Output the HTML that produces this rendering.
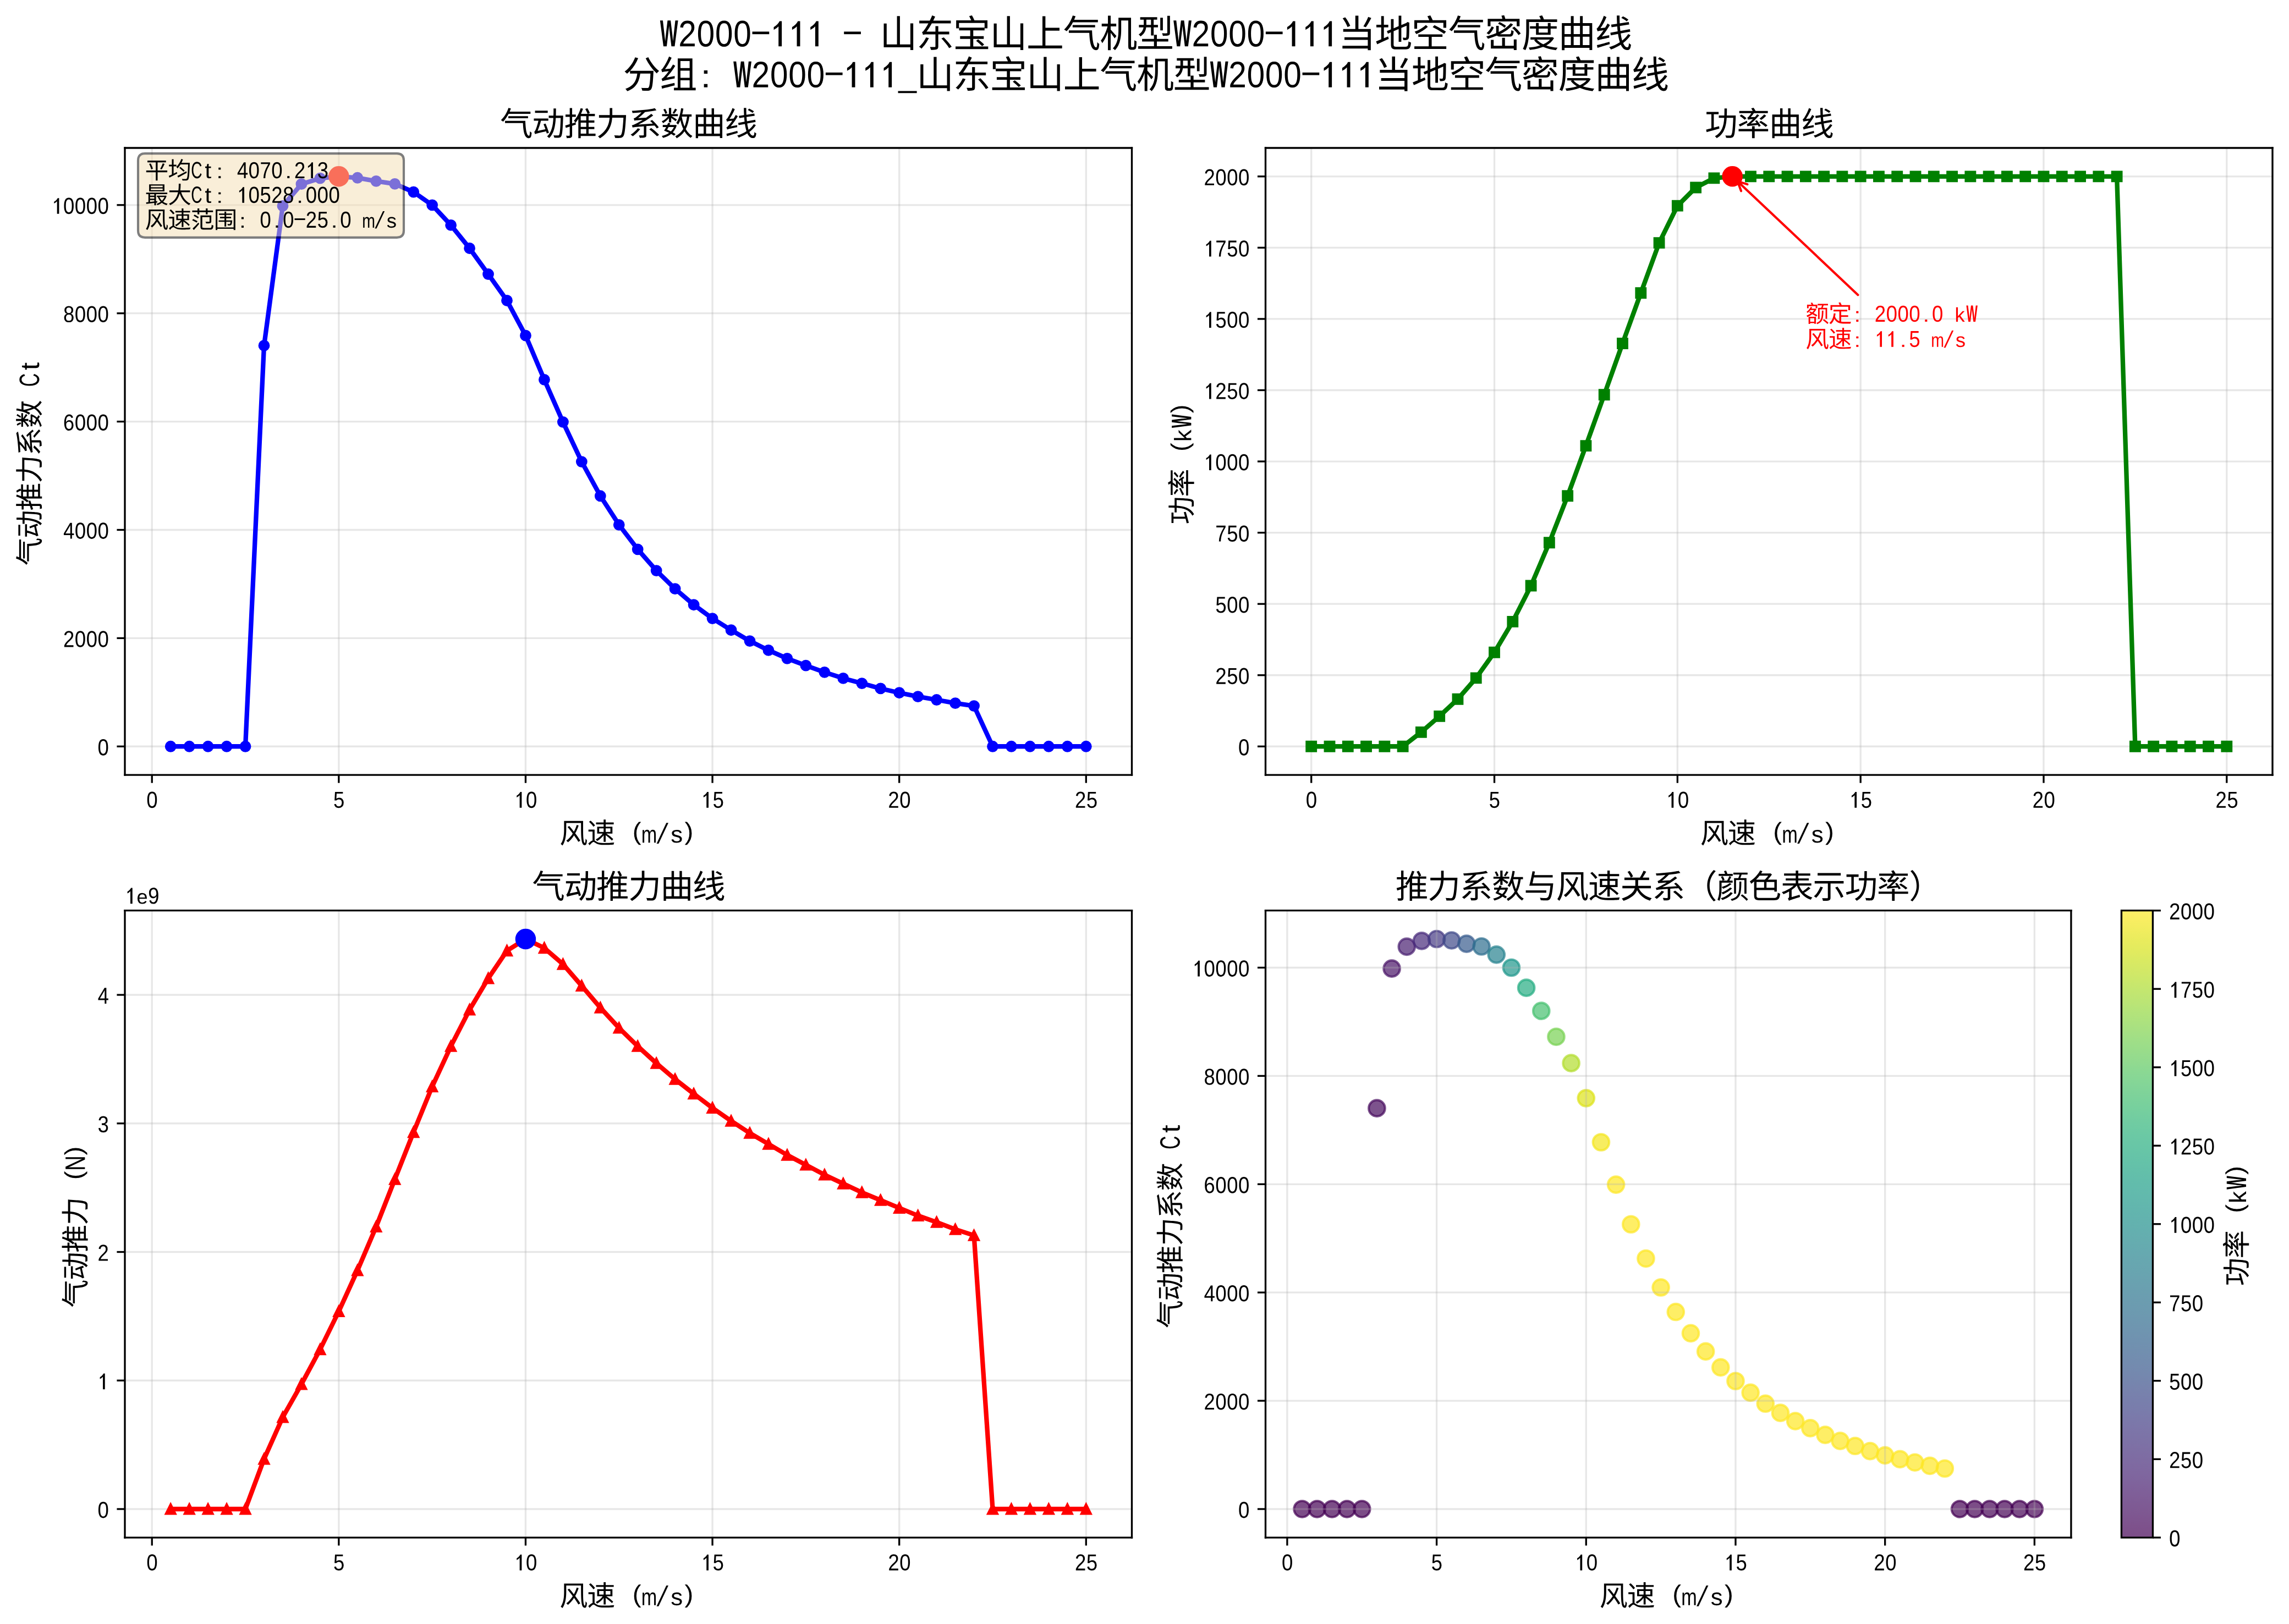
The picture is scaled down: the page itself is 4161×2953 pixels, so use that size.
<!DOCTYPE html>
<html lang="zh"><head><meta charset="utf-8"><title>W2000-111 - 山东宝山上气机型W2000-111当地空气密度曲线</title>
<style>html,body{margin:0;padding:0;background:#fff;width:4161px;height:2953px;overflow:hidden;font-family:"Liberation Sans",sans-serif}svg{display:block}</style>
</head><body>
<svg width="4161" height="2953" viewBox="0 0 998.64 708.72" preserveAspectRatio="none" role="img" aria-label="W2000-111 - 山东宝山上气机型W2000-111当地空气密度曲线：气动推力系数曲线、功率曲线、气动推力曲线、推力系数与风速关系（颜色表示功率）">
<defs>
<style type="text/css">*{stroke-linejoin: round; stroke-linecap: butt}</style>
</defs>
<g id="figure_1">
<g id="patch_1">
<path d="M 0 708.72
L 998.64 708.72
L 998.64 0
L 0 0
z
" style="fill: #ffffff"/>
</g>
<g id="axes_1">
<g id="patch_2">
<path d="M 54.48 338.184
L 493.8 338.184
L 493.8 64.56
L 54.48 64.56
z
" style="fill: #ffffff"/>
</g>
<g id="matplotlib.axis_1">
<g id="xtick_1">
<g id="line2d_1">
<path d="M 66.298 338.184
L 66.298 64.56
" clip-path="url(#p37128c60da)" style="fill: none; stroke: #b0b0b0; stroke-opacity: 0.3; stroke-width: 0.8; stroke-linecap: square"/>
</g>
<g id="line2d_2">
<defs>
<path id="m1504cfccaf" d="M 0 0
L 0 3.5
" style="stroke: #000000; stroke-width: 0.8"/>
</defs>
<g>
<use href="#m1504cfccaf" x="66.298" y="338.184" style="stroke: #000000; stroke-width: 0.8"/>
</g>
</g>
<g id="text_1">
<!-- 0 -->
<g transform="translate(63.798 352.504) scale(0.1 -0.1)">
<defs>
<path id="NotoSansMonoCJKsc-Regular-30" d="M2912.5 2159.1Q2912.5 1078 2578.7 508.4Q2244.8 -61.2 1593.3 -61.2Q941.8 -61.2 614.6 505.3Q287.5 1071.9 287.5 2159.1Q287.5 3270.8 605.3 3825.1Q923 4379.4 1609.4 4379.4Q2277 4379.4 2594.7 3818.9Q2912.5 3258.5 2912.5 2159.1ZM2421.8 2159.1Q2421.8 3093.1 2232.8 3512.7Q2043.7 3932.2 1609.4 3932.2Q1164.3 3932.2 969.9 3518.8Q775.5 3105.4 775.5 2159.1Q775.5 1240.3 972.6 814.6Q1169.7 388.9 1598.7 388.9Q2025 388.9 2223.4 823.8Q2421.8 1258.7 2421.8 2159.1Z" transform="scale(0.016)"/>
</defs>
<use href="#NotoSansMonoCJKsc-Regular-30"/>
</g>
</g>
</g>
<g id="xtick_2">
<g id="line2d_3">
<path d="M 147.805 338.184
L 147.805 64.56
" clip-path="url(#p37128c60da)" style="fill: none; stroke: #b0b0b0; stroke-opacity: 0.3; stroke-width: 0.8; stroke-linecap: square"/>
</g>
<g id="line2d_4">
<g>
<use href="#m1504cfccaf" x="147.805" y="338.184" style="stroke: #000000; stroke-width: 0.8"/>
</g>
</g>
<g id="text_2">
<!-- 5 -->
<g transform="translate(145.305 352.504) scale(0.1 -0.1)">
<defs>
<path id="NotoSansMonoCJKsc-Regular-35" d="M2901.7 1405.7Q2901.7 722.8 2546.5 330.8Q2191.2 -61.2 1561.1 -61.2Q1032.9 -61.2 708.5 202.1Q384.1 465.5 298.3 964.7L786.2 1029Q939.1 388.9 1571.8 388.9Q1960.6 388.9 2180.5 656.9Q2400.4 924.9 2400.4 1393.4Q2400.4 1800.8 2179.2 2051.9Q1957.9 2303 1582.6 2303Q1386.8 2303 1217.9 2232.6Q1049 2162.1 880.1 1993.7H408.2L534.2 4315.1H2681.9V3846.5H973.9L901.5 2477.6Q1215.2 2753.2 1681.8 2753.2Q2239.5 2753.2 2570.6 2379.6Q2901.7 2005.9 2901.7 1405.7Z" transform="scale(0.016)"/>
</defs>
<use href="#NotoSansMonoCJKsc-Regular-35"/>
</g>
</g>
</g>
<g id="xtick_3">
<g id="line2d_5">
<path d="M 229.311 338.184
L 229.311 64.56
" clip-path="url(#p37128c60da)" style="fill: none; stroke: #b0b0b0; stroke-opacity: 0.3; stroke-width: 0.8; stroke-linecap: square"/>
</g>
<g id="line2d_6">
<g>
<use href="#m1504cfccaf" x="229.311" y="338.184" style="stroke: #000000; stroke-width: 0.8"/>
</g>
</g>
<g id="text_3">
<!-- 10 -->
<g transform="translate(224.311 352.504) scale(0.1 -0.1)">
<defs>
<path id="NotoSansMonoCJKsc-Regular-31" d="M1504.0 0.0L2060.8 0.0L2060.8 4300.8L1676.8 4300.8Q1440.0 3744.0 691.2 3296.0L691.2 2816.0Q1216.0 3059.2 1504.0 3404.8Z" transform="scale(0.016)"/>
</defs>
<use href="#NotoSansMonoCJKsc-Regular-31"/>
<use href="#NotoSansMonoCJKsc-Regular-30" transform="translate(50 0)"/>
</g>
</g>
</g>
<g id="xtick_4">
<g id="line2d_7">
<path d="M 310.818 338.184
L 310.818 64.56
" clip-path="url(#p37128c60da)" style="fill: none; stroke: #b0b0b0; stroke-opacity: 0.3; stroke-width: 0.8; stroke-linecap: square"/>
</g>
<g id="line2d_8">
<g>
<use href="#m1504cfccaf" x="310.818" y="338.184" style="stroke: #000000; stroke-width: 0.8"/>
</g>
</g>
<g id="text_4">
<!-- 15 -->
<g transform="translate(305.818 352.504) scale(0.1 -0.1)">
<use href="#NotoSansMonoCJKsc-Regular-31"/>
<use href="#NotoSansMonoCJKsc-Regular-35" transform="translate(50 0)"/>
</g>
</g>
</g>
<g id="xtick_5">
<g id="line2d_9">
<path d="M 392.324 338.184
L 392.324 64.56
" clip-path="url(#p37128c60da)" style="fill: none; stroke: #b0b0b0; stroke-opacity: 0.3; stroke-width: 0.8; stroke-linecap: square"/>
</g>
<g id="line2d_10">
<g>
<use href="#m1504cfccaf" x="392.324" y="338.184" style="stroke: #000000; stroke-width: 0.8"/>
</g>
</g>
<g id="text_5">
<!-- 20 -->
<g transform="translate(387.324 352.504) scale(0.1 -0.1)">
<defs>
<path id="NotoSansMonoCJKsc-Regular-32" d="M349.2 0V388.9Q485.9 747.2 683 1021.3Q880.1 1295.4 1097.3 1517.5Q1314.4 1739.5 1527.6 1929.4Q1740.8 2119.2 1912.4 2309.1Q2084 2499 2189.9 2707.2Q2295.8 2915.5 2295.8 3178.9Q2295.8 3534.1 2113.5 3730.1Q1931.1 3926.1 1606.7 3926.1Q1298.4 3926.1 1098.6 3734.7Q898.9 3543.3 864 3197.2L370.6 3249.3Q424.3 3766.9 755.4 4073.1Q1086.5 4379.4 1606.7 4379.4Q2177.8 4379.4 2484.8 4071.6Q2791.8 3763.8 2791.8 3197.2Q2791.8 2946.1 2691.3 2698.1Q2590.7 2450 2392.3 2201.9Q2193.9 1953.9 1633.5 1433.2Q1325.2 1145.4 1142.8 914.2Q960.5 682.9 880.1 468.6H2850.8V0Z" transform="scale(0.016)"/>
</defs>
<use href="#NotoSansMonoCJKsc-Regular-32"/>
<use href="#NotoSansMonoCJKsc-Regular-30" transform="translate(50 0)"/>
</g>
</g>
</g>
<g id="xtick_6">
<g id="line2d_11">
<path d="M 473.831 338.184
L 473.831 64.56
" clip-path="url(#p37128c60da)" style="fill: none; stroke: #b0b0b0; stroke-opacity: 0.3; stroke-width: 0.8; stroke-linecap: square"/>
</g>
<g id="line2d_12">
<g>
<use href="#m1504cfccaf" x="473.831" y="338.184" style="stroke: #000000; stroke-width: 0.8"/>
</g>
</g>
<g id="text_6">
<!-- 25 -->
<g transform="translate(468.831 352.504) scale(0.1 -0.1)">
<use href="#NotoSansMonoCJKsc-Regular-32"/>
<use href="#NotoSansMonoCJKsc-Regular-35" transform="translate(50 0)"/>
</g>
</g>
</g>
<g id="text_7">
<!-- 风速 (m/s) -->
<g transform="translate(244.14 367.71) scale(0.12 -0.12)">
<defs>
<path id="NotoSansMonoCJKsc-Regular-98ce" d="M 1018 5069
L 1018 3168
C 1018 2157 954 768 256 -198
C 365 -256 570 -429 653 -518
C 1395 506 1510 2093 1510 3168
L 1510 4608
L 4864 4608
C 4877 1274 4877 -448 5715 -448
C 6067 -448 6170 -166 6214 685
C 6125 755 5984 909 5901 1018
C 5888 493 5850 51 5754 51
C 5325 51 5325 2048 5344 5069
L 1018 5069
z
M 3904 4154
C 3738 3642 3514 3117 3245 2630
C 2899 3072 2534 3507 2202 3891
L 1805 3680
C 2189 3232 2605 2714 2989 2195
C 2566 1523 2067 947 1530 589
C 1645 499 1805 333 1894 218
C 2406 595 2880 1152 3283 1792
C 3686 1235 4038 710 4256 307
L 4704 563
C 4442 1024 4019 1626 3546 2240
C 3859 2803 4122 3411 4326 4032
L 3904 4154
z
" transform="scale(0.016) translate(0 -140.8)"/>
<path id="NotoSansMonoCJKsc-Regular-901f" d="M 435 4864
C 794 4531 1229 4058 1427 3757
L 1811 4045
C 1600 4346 1158 4800 800 5114
L 435 4864
z
M 1702 3091
L 307 3091
L 307 2643
L 1242 2643
L 1242 640
C 947 538 608 269 269 -58
L 570 -461
C 909 -64 1242 275 1478 275
C 1626 275 1824 90 2093 -70
C 2541 -320 3085 -390 3840 -390
C 4448 -390 5562 -352 6022 -320
C 6029 -186 6106 32 6157 154
C 5536 90 4589 45 3853 45
C 3162 45 2611 83 2202 320
C 1978 442 1830 557 1702 621
L 1702 3091
z
M 2739 3379
L 3757 3379
L 3757 2560
L 2739 2560
L 2739 3379
z
M 4224 3379
L 5293 3379
L 5293 2560
L 4224 2560
L 4224 3379
z
M 3757 5370
L 3757 4710
L 2035 4710
L 2035 4294
L 3757 4294
L 3757 3763
L 2291 3763
L 2291 2176
L 3546 2176
C 3174 1632 2547 1114 1958 864
C 2061 774 2202 614 2272 499
C 2797 774 3360 1267 3757 1811
L 3757 314
L 4224 314
L 4224 1798
C 4762 1408 5331 941 5632 608
L 5939 928
C 5600 1286 4947 1786 4378 2176
L 5754 2176
L 5754 3763
L 4224 3763
L 4224 4294
L 6048 4294
L 6048 4710
L 4224 4710
L 4224 5370
L 3757 5370
z
" transform="scale(0.016) translate(0 -140.8)"/>
<path id="NotoSansMonoCJKsc-Regular-20" transform="scale(0.016)"/>
<path id="NotoSansMonoCJKsc-Regular-28" d="M1305.6 2101.5Q1305.6 2891.5 1568 3520.3Q1830.4 4149 2375.5 4704H2880Q2337.8 4135.4 2084.1 3495.7Q1830.4 2856 1830.4 2096Q1830.4 1338.8 2081.2 701.8Q2332 64.8 2880 -512H2375.5Q1827.5 45.7 1566.6 675.8Q1305.6 1305.9 1305.6 2090.5Z" transform="scale(0.016)"/>
<path id="NotoSansMonoCJKsc-Regular-6d" d="M1420.8 0V1811.5Q1420.8 2226 1330.6 2384.5Q1240.5 2542.9 1005.7 2542.9Q764.7 2542.9 624.2 2310.5Q483.8 2078.2 483.8 1655.7V0H108.6V2247.2Q108.6 2746.2 96 2857.2H452.3Q454.4 2844 456.5 2785.9Q458.6 2727.8 461.8 2652.5Q464.9 2577.2 469.1 2368.6H475.4Q597 2672.3 754.2 2791.1Q911.4 2910 1137.8 2910Q1395.6 2910 1545.5 2780.6Q1695.4 2651.2 1754.1 2368.6H1760.4Q1877.7 2656.5 2044.4 2783.2Q2211 2910 2447.9 2910Q2791.7 2910 2947.8 2675Q3104 2439.9 3104 1903.9V0H2730.9V1811.5Q2730.9 2226 2640.7 2384.5Q2550.6 2542.9 2315.8 2542.9Q2068.5 2542.9 1931.2 2311.9Q1793.9 2080.8 1793.9 1655.7V0Z" transform="scale(0.016)"/>
<path id="NotoSansMonoCJKsc-Regular-2f" d="M166.4 -230.4L627.2 -230.4L2841.6 4480.0L2380.8 4480.0Z" transform="scale(0.016)"/>
<path id="NotoSansMonoCJKsc-Regular-73" d="M2797.2 789.5Q2797.2 385.5 2487.5 166.4Q2177.8 -52.8 1620.1 -52.8Q1078.5 -52.8 784.9 122.8Q491.3 298.4 402.8 670.7L829.1 752.6Q890.8 522.8 1083.9 415.9Q1276.9 309 1620.1 309Q1987.4 309 2157.7 419.9Q2328 530.8 2328 752.6Q2328 921.6 2210 1027.2Q2092 1132.8 1829.2 1201.5L1483.4 1291.3Q1067.8 1396.9 892.2 1498.6Q716.5 1600.2 617.3 1745.5Q518.1 1890.7 518.1 2101.9Q518.1 2492.8 801 2697.4Q1083.9 2902 1625.5 2902Q2105.4 2902 2388.3 2735.7Q2671.2 2569.3 2746.2 2202.3L2311.9 2149.5Q2271.7 2339.6 2096 2441.3Q1920.4 2542.9 1625.5 2542.9Q1298.4 2542.9 1142.8 2445.2Q987.3 2347.5 987.3 2149.5Q987.3 2028 1051.7 1948.8Q1116 1869.6 1242.1 1814.1Q1368.1 1758.7 1772.9 1661Q2156.4 1565.9 2325.3 1485.4Q2494.2 1404.8 2592.1 1307.1Q2689.9 1209.4 2743.6 1081.3Q2797.2 953.3 2797.2 789.5Z" transform="scale(0.016)"/>
<path id="NotoSansMonoCJKsc-Regular-29" d="M1894.4 2090.5Q1894.4 1300.5 1632 671.7Q1369.6 43 824.5 -512H320Q865.1 62.1 1117.3 697.7Q1369.6 1333.3 1369.6 2096Q1369.6 2858.7 1115.9 3495.7Q862.2 4132.6 320 4704H824.5Q1372.5 4146.3 1633.4 3516.2Q1894.4 2886.1 1894.4 2101.5Z" transform="scale(0.016)"/>
</defs>
<use href="#NotoSansMonoCJKsc-Regular-98ce"/>
<use href="#NotoSansMonoCJKsc-Regular-901f" transform="translate(100 0)"/>
<use href="#NotoSansMonoCJKsc-Regular-20" transform="translate(200 0)"/>
<use href="#NotoSansMonoCJKsc-Regular-28" transform="translate(250 0)"/>
<use href="#NotoSansMonoCJKsc-Regular-6d" transform="translate(300 0)"/>
<use href="#NotoSansMonoCJKsc-Regular-2f" transform="translate(350 0)"/>
<use href="#NotoSansMonoCJKsc-Regular-73" transform="translate(400 0)"/>
<use href="#NotoSansMonoCJKsc-Regular-29" transform="translate(450 0)"/>
</g>
</g>
</g>
<g id="matplotlib.axis_2">
<g id="ytick_1">
<g id="line2d_13">
<path d="M 54.48 325.747
L 493.8 325.747
" clip-path="url(#p37128c60da)" style="fill: none; stroke: #b0b0b0; stroke-opacity: 0.3; stroke-width: 0.8; stroke-linecap: square"/>
</g>
<g id="line2d_14">
<defs>
<path id="m5d545ce8f8" d="M 0 0
L -3.5 0
" style="stroke: #000000; stroke-width: 0.8"/>
</defs>
<g>
<use href="#m5d545ce8f8" x="54.48" y="325.747" style="stroke: #000000; stroke-width: 0.8"/>
</g>
</g>
<g id="text_8">
<!-- 0 -->
<g transform="translate(42.48 329.586) scale(0.1 -0.1)">
<use href="#NotoSansMonoCJKsc-Regular-30"/>
</g>
</g>
</g>
<g id="ytick_2">
<g id="line2d_15">
<path d="M 54.48 278.492
L 493.8 278.492
" clip-path="url(#p37128c60da)" style="fill: none; stroke: #b0b0b0; stroke-opacity: 0.3; stroke-width: 0.8; stroke-linecap: square"/>
</g>
<g id="line2d_16">
<g>
<use href="#m5d545ce8f8" x="54.48" y="278.492" style="stroke: #000000; stroke-width: 0.8"/>
</g>
</g>
<g id="text_9">
<!-- 2000 -->
<g transform="translate(27.48 282.332) scale(0.1 -0.1)">
<use href="#NotoSansMonoCJKsc-Regular-32"/>
<use href="#NotoSansMonoCJKsc-Regular-30" transform="translate(50 0)"/>
<use href="#NotoSansMonoCJKsc-Regular-30" transform="translate(100 0)"/>
<use href="#NotoSansMonoCJKsc-Regular-30" transform="translate(150 0)"/>
</g>
</g>
</g>
<g id="ytick_3">
<g id="line2d_17">
<path d="M 54.48 231.237
L 493.8 231.237
" clip-path="url(#p37128c60da)" style="fill: none; stroke: #b0b0b0; stroke-opacity: 0.3; stroke-width: 0.8; stroke-linecap: square"/>
</g>
<g id="line2d_18">
<g>
<use href="#m5d545ce8f8" x="54.48" y="231.237" style="stroke: #000000; stroke-width: 0.8"/>
</g>
</g>
<g id="text_10">
<!-- 4000 -->
<g transform="translate(27.48 235.077) scale(0.1 -0.1)">
<defs>
<path id="NotoSansMonoCJKsc-Regular-34" d="M2452.6 976.9V0H1996.8V976.9H216.5V1405.7L1945.9 4315.1H2452.6V1411.8H2983.5V976.9ZM1996.8 3693.4Q1991.5 3675 1921.8 3531.1Q1852 3387.1 1817.2 3328.9L849.2 1699.7L704.5 1473.1L661.6 1411.8H1996.8Z" transform="scale(0.016)"/>
</defs>
<use href="#NotoSansMonoCJKsc-Regular-34"/>
<use href="#NotoSansMonoCJKsc-Regular-30" transform="translate(50 0)"/>
<use href="#NotoSansMonoCJKsc-Regular-30" transform="translate(100 0)"/>
<use href="#NotoSansMonoCJKsc-Regular-30" transform="translate(150 0)"/>
</g>
</g>
</g>
<g id="ytick_4">
<g id="line2d_19">
<path d="M 54.48 183.982
L 493.8 183.982
" clip-path="url(#p37128c60da)" style="fill: none; stroke: #b0b0b0; stroke-opacity: 0.3; stroke-width: 0.8; stroke-linecap: square"/>
</g>
<g id="line2d_20">
<g>
<use href="#m5d545ce8f8" x="54.48" y="183.982" style="stroke: #000000; stroke-width: 0.8"/>
</g>
</g>
<g id="text_11">
<!-- 6000 -->
<g transform="translate(27.48 187.822) scale(0.1 -0.1)">
<defs>
<path id="NotoSansMonoCJKsc-Regular-36" d="M2866.9 1411.8Q2866.9 728.9 2542.5 333.8Q2218 -61.2 1646.9 -61.2Q1008.8 -61.2 670.9 480.8Q333.1 1022.9 333.1 2058Q333.1 3178.9 684.4 3779.1Q1035.6 4379.4 1684.5 4379.4Q2539.8 4379.4 2762.3 3500.4L2301.1 3405.5Q2159 3932.2 1679.1 3932.2Q1266.2 3932.2 1039.6 3492.8Q813.1 3053.3 813.1 2220.3Q944.4 2499 1183.1 2644.5Q1421.7 2789.9 1730 2789.9Q2252.9 2789.9 2559.9 2416.3Q2866.9 2042.7 2866.9 1411.8ZM2376.2 1387.3Q2376.2 1855.9 2175.1 2110.1Q1974 2364.2 1614.7 2364.2Q1276.9 2364.2 1069.1 2139.2Q861.3 1914.1 861.3 1519Q861.3 1019.8 1077.2 701.3Q1293 382.8 1630.8 382.8Q1979.4 382.8 2177.8 650.8Q2376.2 918.8 2376.2 1387.3Z" transform="scale(0.016)"/>
</defs>
<use href="#NotoSansMonoCJKsc-Regular-36"/>
<use href="#NotoSansMonoCJKsc-Regular-30" transform="translate(50 0)"/>
<use href="#NotoSansMonoCJKsc-Regular-30" transform="translate(100 0)"/>
<use href="#NotoSansMonoCJKsc-Regular-30" transform="translate(150 0)"/>
</g>
</g>
</g>
<g id="ytick_5">
<g id="line2d_21">
<path d="M 54.48 136.727
L 493.8 136.727
" clip-path="url(#p37128c60da)" style="fill: none; stroke: #b0b0b0; stroke-opacity: 0.3; stroke-width: 0.8; stroke-linecap: square"/>
</g>
<g id="line2d_22">
<g>
<use href="#m5d545ce8f8" x="54.48" y="136.727" style="stroke: #000000; stroke-width: 0.8"/>
</g>
</g>
<g id="text_12">
<!-- 8000 -->
<g transform="translate(27.48 140.567) scale(0.1 -0.1)">
<defs>
<path id="NotoSansMonoCJKsc-Regular-38" d="M2888.3 1203.6Q2888.3 606.4 2555.9 272.6Q2223.4 -61.2 1601.3 -61.2Q995.4 -61.2 653.5 266.4Q311.7 594.1 311.7 1197.4Q311.7 1620.1 523.5 1907.9Q735.3 2195.8 1065.1 2257.1V2269.3Q756.7 2352 578.4 2627.6Q400.1 2903.2 400.1 3273.8Q400.1 3766.9 723.2 4073.1Q1046.3 4379.4 1590.6 4379.4Q2148.3 4379.4 2471.4 4079.2Q2794.5 3779.1 2794.5 3267.7Q2794.5 2897.1 2614.9 2621.5Q2435.2 2345.9 2124.2 2275.4V2263.2Q2486.2 2195.8 2687.2 1912.5Q2888.3 1629.2 2888.3 1203.6ZM2293.1 3237.1Q2293.1 3969 1590.6 3969Q1250.1 3969 1071.8 3785.2Q893.5 3601.5 893.5 3237.1Q893.5 2866.5 1077.2 2672Q1260.8 2477.6 1596 2477.6Q1936.5 2477.6 2114.8 2656.7Q2293.1 2835.9 2293.1 3237.1ZM2386.9 1255.6Q2386.9 1656.8 2177.8 1860.5Q1968.7 2064.1 1590.6 2064.1Q1223.3 2064.1 1016.8 1845.2Q810.4 1626.2 810.4 1243.4Q810.4 352.2 1606.7 352.2Q2000.8 352.2 2193.9 568.1Q2386.9 784 2386.9 1255.6Z" transform="scale(0.016)"/>
</defs>
<use href="#NotoSansMonoCJKsc-Regular-38"/>
<use href="#NotoSansMonoCJKsc-Regular-30" transform="translate(50 0)"/>
<use href="#NotoSansMonoCJKsc-Regular-30" transform="translate(100 0)"/>
<use href="#NotoSansMonoCJKsc-Regular-30" transform="translate(150 0)"/>
</g>
</g>
</g>
<g id="ytick_6">
<g id="line2d_23">
<path d="M 54.48 89.473
L 493.8 89.473
" clip-path="url(#p37128c60da)" style="fill: none; stroke: #b0b0b0; stroke-opacity: 0.3; stroke-width: 0.8; stroke-linecap: square"/>
</g>
<g id="line2d_24">
<g>
<use href="#m5d545ce8f8" x="54.48" y="89.473" style="stroke: #000000; stroke-width: 0.8"/>
</g>
</g>
<g id="text_13">
<!-- 10000 -->
<g transform="translate(22.48 93.313) scale(0.1 -0.1)">
<use href="#NotoSansMonoCJKsc-Regular-31"/>
<use href="#NotoSansMonoCJKsc-Regular-30" transform="translate(50 0)"/>
<use href="#NotoSansMonoCJKsc-Regular-30" transform="translate(100 0)"/>
<use href="#NotoSansMonoCJKsc-Regular-30" transform="translate(150 0)"/>
<use href="#NotoSansMonoCJKsc-Regular-30" transform="translate(200 0)"/>
</g>
</g>
</g>
<g id="text_14">
<!-- 气动推力系数 Ct -->
<g transform="translate(17.053 246.852) rotate(-90) scale(0.12 -0.12)">
<defs>
<path id="NotoSansMonoCJKsc-Regular-6c14" d="M 1626 3776
L 1626 3373
L 5459 3373
L 5459 3776
L 1626 3776
z
M 1645 5389
C 1338 4461 806 3571 179 3008
C 301 2944 512 2797 608 2720
C 998 3110 1370 3648 1677 4243
L 5933 4243
L 5933 4666
L 1882 4666
C 1971 4864 2054 5069 2125 5274
L 1645 5389
z
M 979 2867
L 979 2445
L 4467 2445
C 4538 787 4774 -506 5626 -506
C 6010 -506 6118 -205 6163 557
C 6054 621 5920 730 5824 838
C 5811 301 5773 -32 5658 -32
C 5158 -38 4979 1402 4934 2867
L 979 2867
z
" transform="scale(0.016) translate(0 -140.8)"/>
<path id="NotoSansMonoCJKsc-Regular-52a8" d="M 570 4851
L 570 4422
L 3046 4422
L 3046 4851
L 570 4851
z
M 4179 5267
C 4179 4813 4179 4352 4160 3898
L 3245 3898
L 3245 3437
L 4141 3437
C 4064 1978 3808 640 2931 -160
C 3059 -230 3226 -390 3309 -506
C 4250 390 4525 1850 4614 3437
L 5568 3437
C 5498 1165 5414 314 5242 122
C 5178 45 5107 26 4992 26
C 4858 26 4518 26 4160 64
C 4243 -77 4294 -275 4307 -410
C 4646 -435 4998 -435 5197 -416
C 5402 -397 5530 -339 5658 -173
C 5882 109 5958 1018 6048 3654
C 6048 3725 6048 3898 6048 3898
L 4634 3898
C 4646 4352 4653 4813 4653 5267
L 4179 5267
z
M 570 282
L 576 288
L 576 275
C 723 365 954 435 2733 838
L 2854 410
L 3277 550
C 3155 998 2867 1760 2624 2336
L 2227 2227
C 2355 1926 2483 1574 2598 1242
L 1075 922
C 1325 1498 1568 2214 1728 2886
L 3162 2886
L 3162 3328
L 346 3328
L 346 2886
L 1235 2886
C 1069 2138 800 1382 710 1171
C 602 928 518 755 416 723
C 474 608 544 378 570 282
z
" transform="scale(0.016) translate(0 -140.8)"/>
<path id="NotoSansMonoCJKsc-Regular-63a8" d="M 4102 5165
C 4282 4877 4467 4486 4557 4230
L 3277 4230
C 3424 4550 3558 4890 3667 5222
L 3213 5338
C 2925 4390 2438 3462 1875 2867
C 1965 2797 2106 2656 2189 2566
L 1549 2368
L 1549 3654
L 2266 3654
L 2266 4102
L 1549 4102
L 1549 5370
L 1082 5370
L 1082 4102
L 256 4102
L 256 3654
L 1082 3654
L 1082 2227
L 205 1965
L 326 1498
L 1082 1741
L 1082 77
C 1082 -13 1043 -38 966 -38
C 890 -45 640 -45 365 -32
C 429 -173 493 -378 506 -499
C 915 -499 1165 -486 1325 -403
C 1485 -326 1549 -192 1549 77
L 1549 1894
L 2278 2131
L 2214 2541
L 2234 2522
C 2413 2733 2592 2976 2758 3245
L 2758 -512
L 3219 -512
L 3219 -70
L 6106 -70
L 6106 378
L 4755 378
L 4755 1248
L 5875 1248
L 5875 1677
L 4755 1677
L 4755 2522
L 5882 2522
L 5882 2950
L 4755 2950
L 4755 3789
L 5978 3789
L 5978 4230
L 4621 4230
L 4992 4390
C 4909 4646 4710 5030 4518 5325
L 4102 5165
z
M 3219 2522
L 4301 2522
L 4301 1677
L 3219 1677
L 3219 2522
z
M 3219 2950
L 3219 3789
L 4301 3789
L 4301 2950
L 3219 2950
z
M 3219 1248
L 4301 1248
L 4301 378
L 3219 378
L 3219 1248
z
" transform="scale(0.016) translate(0 -140.8)"/>
<path id="NotoSansMonoCJKsc-Regular-529b" d="M 2624 5363
L 2624 4256
L 2624 3981
L 531 3981
L 531 3488
L 2598 3488
C 2502 2285 2080 877 339 -160
C 461 -243 634 -422 710 -538
C 2573 595 3008 2157 3098 3488
L 5293 3488
C 5165 1229 5024 320 4794 102
C 4717 19 4634 0 4499 0
C 4339 0 3930 6 3488 45
C 3584 -96 3642 -307 3654 -448
C 4051 -467 4461 -480 4678 -461
C 4928 -435 5075 -390 5229 -198
C 5517 115 5645 1075 5792 3725
C 5798 3795 5805 3981 5805 3981
L 3123 3981
L 3123 4256
L 3123 5363
L 2624 5363
z
" transform="scale(0.016) translate(0 -140.8)"/>
<path id="NotoSansMonoCJKsc-Regular-7cfb" d="M 1830 1434
C 1491 973 960 499 448 192
C 576 122 774 -38 870 -128
C 1357 218 1926 742 2310 1261
L 1830 1434
z
M 4070 1216
C 4602 806 5261 218 5581 -141
L 5990 147
C 5645 512 4986 1075 4448 1466
L 4070 1216
z
M 4250 2842
C 4416 2688 4595 2509 4768 2323
L 1952 2138
C 2912 2611 3891 3200 4838 3917
L 4467 4224
C 4147 3962 3795 3712 3456 3475
L 1888 3398
C 2349 3725 2816 4134 3245 4582
C 4077 4666 4864 4781 5472 4928
L 5139 5331
C 4102 5069 2240 4896 685 4819
C 736 4710 794 4518 806 4403
C 1370 4429 1971 4467 2566 4518
C 2150 4083 1677 3699 1510 3590
C 1318 3450 1165 3354 1037 3334
C 1088 3213 1158 3002 1171 2906
C 1306 2957 1504 2982 2803 3059
C 2259 2720 1792 2464 1568 2362
C 1171 2163 883 2042 678 2016
C 736 1888 806 1664 826 1568
C 1005 1638 1254 1670 3014 1805
L 3014 128
C 3014 58 2995 32 2886 26
C 2784 19 2432 19 2048 38
C 2125 -96 2208 -301 2234 -442
C 2701 -442 3021 -435 3232 -358
C 3450 -282 3501 -147 3501 122
L 3501 1843
L 5094 1958
C 5280 1747 5434 1549 5542 1382
L 5926 1613
C 5664 2003 5114 2592 4621 3034
L 4250 2842
z
" transform="scale(0.016) translate(0 -140.8)"/>
<path id="NotoSansMonoCJKsc-Regular-6570" d="M 2835 5254
C 2720 5005 2515 4627 2355 4403
L 2669 4250
C 2835 4461 3053 4781 3238 5075
L 2835 5254
z
M 563 5075
C 730 4806 902 4454 960 4230
L 1325 4390
C 1267 4621 1094 4966 915 5216
L 563 5075
z
M 2624 1664
C 2477 1331 2272 1050 2029 806
C 1786 928 1536 1050 1299 1152
C 1389 1306 1491 1478 1581 1664
L 2624 1664
z
M 704 979
C 1018 858 1370 698 1690 531
C 1280 237 787 32 262 -90
C 346 -179 448 -346 493 -461
C 1082 -301 1626 -51 2086 320
C 2298 192 2490 70 2637 -38
L 2944 275
C 2797 378 2611 493 2400 608
C 2739 973 3008 1421 3168 1978
L 2906 2086
L 2829 2067
L 1779 2067
L 1920 2400
L 1491 2477
C 1446 2349 1382 2208 1318 2067
L 448 2067
L 448 1664
L 1120 1664
C 986 1408 838 1171 704 979
z
M 1645 5382
L 1645 4186
L 320 4186
L 320 3789
L 1498 3789
C 1190 3373 698 2976 250 2784
C 346 2694 454 2528 512 2419
C 902 2630 1325 2989 1645 3366
L 1645 2586
L 2093 2586
L 2093 3456
C 2400 3232 2790 2931 2950 2784
L 3219 3130
C 3066 3238 2502 3597 2189 3789
L 3398 3789
L 3398 4186
L 2093 4186
L 2093 5382
L 1645 5382
z
M 4026 5325
C 3866 4198 3578 3123 3078 2451
C 3181 2387 3366 2234 3443 2157
C 3610 2394 3750 2675 3878 2989
C 4019 2362 4205 1779 4442 1274
C 4083 666 3584 198 2886 -141
C 2976 -237 3110 -429 3155 -531
C 3808 -179 4301 262 4678 826
C 4998 282 5395 -154 5894 -454
C 5971 -333 6112 -166 6221 -77
C 5683 211 5261 678 4934 1267
C 5274 1926 5491 2726 5632 3686
L 6067 3686
L 6067 4134
L 4243 4134
C 4333 4493 4410 4870 4467 5254
L 4026 5325
z
M 5178 3686
C 5075 2950 4922 2310 4691 1766
C 4448 2342 4269 2995 4147 3686
L 5178 3686
z
" transform="scale(0.016) translate(0 -140.8)"/>
<path id="NotoSansMonoCJKsc-Regular-43" d="M1681.9 3981.2Q1196.9 3981.2 927.5 3510.9Q658.1 3040.6 658.1 2221.9Q658.1 1412.5 938.9 920.3Q1219.7 428.1 1698.4 428.1Q2311.9 428.1 2620.7 1343.8L2944 1100Q2763.7 531.2 2437.3 234.4Q2110.9 -62.5 1679.8 -62.5Q1238.4 -62.5 916.1 214.1Q593.8 490.6 424.9 1004.7Q256 1518.8 256 2221.9Q256 3275 633.2 3871.9Q1010.4 4468.8 1677.7 4468.8Q2144 4468.8 2457 4193.8Q2769.9 3918.8 2917.1 3378.1L2541.9 3190.6Q2440.4 3575 2215.5 3778.1Q1990.7 3981.2 1681.9 3981.2Z" transform="scale(0.016)"/>
<path id="NotoSansMonoCJKsc-Regular-74" d="M2417.2 23.5Q2139.1 -47 1848.4 -47Q1173.4 -47 1173.4 672.7V2793.6H782.8V3178.4H1195.3L1360.9 3889.2H1735.9V3178.4H2360.9V2793.6H1735.9V787.2Q1735.9 558.1 1815.6 465.6Q1895.3 373.1 2092.2 373.1Q2204.7 373.1 2417.2 414.2Z" transform="scale(0.016)"/>
</defs>
<use href="#NotoSansMonoCJKsc-Regular-6c14"/>
<use href="#NotoSansMonoCJKsc-Regular-52a8" transform="translate(100 0)"/>
<use href="#NotoSansMonoCJKsc-Regular-63a8" transform="translate(200 0)"/>
<use href="#NotoSansMonoCJKsc-Regular-529b" transform="translate(300 0)"/>
<use href="#NotoSansMonoCJKsc-Regular-7cfb" transform="translate(400 0)"/>
<use href="#NotoSansMonoCJKsc-Regular-6570" transform="translate(500 0)"/>
<use href="#NotoSansMonoCJKsc-Regular-20" transform="translate(600 0)"/>
<use href="#NotoSansMonoCJKsc-Regular-43" transform="translate(650 0)"/>
<use href="#NotoSansMonoCJKsc-Regular-74" transform="translate(700 0)"/>
</g>
</g>
</g>
<g id="line2d_25">
<path d="M 74.449 325.747
L 82.6 325.747
L 90.75 325.747
L 98.901 325.747
L 107.052 325.747
L 115.202 150.833
L 123.353 89.874
L 131.504 80.329
L 139.654 77.801
L 147.805 76.997
L 155.956 77.588
L 164.106 79.053
L 172.257 80.234
L 180.408 83.802
L 188.558 89.473
L 196.709 98.262
L 204.859 108.351
L 213.01 119.645
L 221.161 131.151
L 229.311 146.438
L 237.462 165.671
L 245.613 184.171
L 253.763 201.49
L 261.914 216.423
L 270.065 229.04
L 278.215 239.719
L 286.366 249.028
L 294.517 256.967
L 302.667 263.937
L 310.818 269.891
L 318.969 274.971
L 327.119 279.744
L 335.27 283.784
L 343.421 287.376
L 351.571 290.447
L 359.722 293.377
L 367.872 296.023
L 376.023 298.221
L 384.174 300.465
L 392.324 302.332
L 400.475 304.009
L 408.626 305.403
L 416.776 306.868
L 424.927 308.05
L 433.078 325.747
L 441.228 325.747
L 449.379 325.747
L 457.53 325.747
L 465.68 325.747
L 473.831 325.747
" clip-path="url(#p37128c60da)" style="fill: none; stroke: #0000ff; stroke-width: 2; stroke-linecap: square"/>
<defs>
<path id="m0fada0784c" d="M 0 2
C 0.53 2 1.039 1.789 1.414 1.414
C 1.789 1.039 2 0.53 2 0
C 2 -0.53 1.789 -1.039 1.414 -1.414
C 1.039 -1.789 0.53 -2 0 -2
C -0.53 -2 -1.039 -1.789 -1.414 -1.414
C -1.789 -1.039 -2 -0.53 -2 0
C -2 0.53 -1.789 1.039 -1.414 1.414
C -1.039 1.789 -0.53 2 0 2
z
" style="stroke: #0000ff"/>
</defs>
<g clip-path="url(#p37128c60da)">
<use href="#m0fada0784c" x="74.449" y="325.747" style="fill: #0000ff; stroke: #0000ff"/>
<use href="#m0fada0784c" x="82.6" y="325.747" style="fill: #0000ff; stroke: #0000ff"/>
<use href="#m0fada0784c" x="90.75" y="325.747" style="fill: #0000ff; stroke: #0000ff"/>
<use href="#m0fada0784c" x="98.901" y="325.747" style="fill: #0000ff; stroke: #0000ff"/>
<use href="#m0fada0784c" x="107.052" y="325.747" style="fill: #0000ff; stroke: #0000ff"/>
<use href="#m0fada0784c" x="115.202" y="150.833" style="fill: #0000ff; stroke: #0000ff"/>
<use href="#m0fada0784c" x="123.353" y="89.874" style="fill: #0000ff; stroke: #0000ff"/>
<use href="#m0fada0784c" x="131.504" y="80.329" style="fill: #0000ff; stroke: #0000ff"/>
<use href="#m0fada0784c" x="139.654" y="77.801" style="fill: #0000ff; stroke: #0000ff"/>
<use href="#m0fada0784c" x="147.805" y="76.997" style="fill: #0000ff; stroke: #0000ff"/>
<use href="#m0fada0784c" x="155.956" y="77.588" style="fill: #0000ff; stroke: #0000ff"/>
<use href="#m0fada0784c" x="164.106" y="79.053" style="fill: #0000ff; stroke: #0000ff"/>
<use href="#m0fada0784c" x="172.257" y="80.234" style="fill: #0000ff; stroke: #0000ff"/>
<use href="#m0fada0784c" x="180.408" y="83.802" style="fill: #0000ff; stroke: #0000ff"/>
<use href="#m0fada0784c" x="188.558" y="89.473" style="fill: #0000ff; stroke: #0000ff"/>
<use href="#m0fada0784c" x="196.709" y="98.262" style="fill: #0000ff; stroke: #0000ff"/>
<use href="#m0fada0784c" x="204.859" y="108.351" style="fill: #0000ff; stroke: #0000ff"/>
<use href="#m0fada0784c" x="213.01" y="119.645" style="fill: #0000ff; stroke: #0000ff"/>
<use href="#m0fada0784c" x="221.161" y="131.151" style="fill: #0000ff; stroke: #0000ff"/>
<use href="#m0fada0784c" x="229.311" y="146.438" style="fill: #0000ff; stroke: #0000ff"/>
<use href="#m0fada0784c" x="237.462" y="165.671" style="fill: #0000ff; stroke: #0000ff"/>
<use href="#m0fada0784c" x="245.613" y="184.171" style="fill: #0000ff; stroke: #0000ff"/>
<use href="#m0fada0784c" x="253.763" y="201.49" style="fill: #0000ff; stroke: #0000ff"/>
<use href="#m0fada0784c" x="261.914" y="216.423" style="fill: #0000ff; stroke: #0000ff"/>
<use href="#m0fada0784c" x="270.065" y="229.04" style="fill: #0000ff; stroke: #0000ff"/>
<use href="#m0fada0784c" x="278.215" y="239.719" style="fill: #0000ff; stroke: #0000ff"/>
<use href="#m0fada0784c" x="286.366" y="249.028" style="fill: #0000ff; stroke: #0000ff"/>
<use href="#m0fada0784c" x="294.517" y="256.967" style="fill: #0000ff; stroke: #0000ff"/>
<use href="#m0fada0784c" x="302.667" y="263.937" style="fill: #0000ff; stroke: #0000ff"/>
<use href="#m0fada0784c" x="310.818" y="269.891" style="fill: #0000ff; stroke: #0000ff"/>
<use href="#m0fada0784c" x="318.969" y="274.971" style="fill: #0000ff; stroke: #0000ff"/>
<use href="#m0fada0784c" x="327.119" y="279.744" style="fill: #0000ff; stroke: #0000ff"/>
<use href="#m0fada0784c" x="335.27" y="283.784" style="fill: #0000ff; stroke: #0000ff"/>
<use href="#m0fada0784c" x="343.421" y="287.376" style="fill: #0000ff; stroke: #0000ff"/>
<use href="#m0fada0784c" x="351.571" y="290.447" style="fill: #0000ff; stroke: #0000ff"/>
<use href="#m0fada0784c" x="359.722" y="293.377" style="fill: #0000ff; stroke: #0000ff"/>
<use href="#m0fada0784c" x="367.872" y="296.023" style="fill: #0000ff; stroke: #0000ff"/>
<use href="#m0fada0784c" x="376.023" y="298.221" style="fill: #0000ff; stroke: #0000ff"/>
<use href="#m0fada0784c" x="384.174" y="300.465" style="fill: #0000ff; stroke: #0000ff"/>
<use href="#m0fada0784c" x="392.324" y="302.332" style="fill: #0000ff; stroke: #0000ff"/>
<use href="#m0fada0784c" x="400.475" y="304.009" style="fill: #0000ff; stroke: #0000ff"/>
<use href="#m0fada0784c" x="408.626" y="305.403" style="fill: #0000ff; stroke: #0000ff"/>
<use href="#m0fada0784c" x="416.776" y="306.868" style="fill: #0000ff; stroke: #0000ff"/>
<use href="#m0fada0784c" x="424.927" y="308.05" style="fill: #0000ff; stroke: #0000ff"/>
<use href="#m0fada0784c" x="433.078" y="325.747" style="fill: #0000ff; stroke: #0000ff"/>
<use href="#m0fada0784c" x="441.228" y="325.747" style="fill: #0000ff; stroke: #0000ff"/>
<use href="#m0fada0784c" x="449.379" y="325.747" style="fill: #0000ff; stroke: #0000ff"/>
<use href="#m0fada0784c" x="457.53" y="325.747" style="fill: #0000ff; stroke: #0000ff"/>
<use href="#m0fada0784c" x="465.68" y="325.747" style="fill: #0000ff; stroke: #0000ff"/>
<use href="#m0fada0784c" x="473.831" y="325.747" style="fill: #0000ff; stroke: #0000ff"/>
</g>
</g>
<g id="line2d_26">
<defs>
<path id="m100449ab72" d="M 0 4
C 1.061 4 2.078 3.579 2.828 2.828
C 3.579 2.078 4 1.061 4 0
C 4 -1.061 3.579 -2.078 2.828 -2.828
C 2.078 -3.579 1.061 -4 0 -4
C -1.061 -4 -2.078 -3.579 -2.828 -2.828
C -3.579 -2.078 -4 -1.061 -4 0
C -4 1.061 -3.579 2.078 -2.828 2.828
C -2.078 3.579 -1.061 4 0 4
z
" style="stroke: #ff0000"/>
</defs>
<g clip-path="url(#p37128c60da)">
<use href="#m100449ab72" x="147.805" y="76.997" style="fill: #ff0000; stroke: #ff0000"/>
</g>
</g>
<g id="patch_3">
<path d="M 54.48 338.184
L 54.48 64.56
" style="fill: none; stroke: #000000; stroke-width: 0.8; stroke-linejoin: miter; stroke-linecap: square"/>
</g>
<g id="patch_4">
<path d="M 493.8 338.184
L 493.8 64.56
" style="fill: none; stroke: #000000; stroke-width: 0.8; stroke-linejoin: miter; stroke-linecap: square"/>
</g>
<g id="patch_5">
<path d="M 54.48 338.184
L 493.8 338.184
" style="fill: none; stroke: #000000; stroke-width: 0.8; stroke-linejoin: miter; stroke-linecap: square"/>
</g>
<g id="patch_6">
<path d="M 54.48 64.56
L 493.8 64.56
" style="fill: none; stroke: #000000; stroke-width: 0.8; stroke-linejoin: miter; stroke-linecap: square"/>
</g>
<g id="text_15">
<!-- 气动推力系数曲线 -->
<g transform="translate(218.14 58.848) scale(0.14 -0.14)">
<defs>
<path id="NotoSansMonoCJKsc-Regular-66f2" d="M 3718 5312
L 3718 4096
L 2637 4096
L 2637 5312
L 2163 5312
L 2163 4096
L 627 4096
L 627 -512
L 1082 -512
L 1082 -102
L 5331 -102
L 5331 -486
L 5798 -486
L 5798 4096
L 4186 4096
L 4186 5312
L 3718 5312
z
M 1082 365
L 1082 1779
L 2163 1779
L 2163 365
L 1082 365
z
M 5331 365
L 4186 365
L 4186 1779
L 5331 1779
L 5331 365
z
M 2637 365
L 2637 1779
L 3718 1779
L 3718 365
L 2637 365
z
M 1082 2240
L 1082 3629
L 2163 3629
L 2163 2240
L 1082 2240
z
M 5331 2240
L 4186 2240
L 4186 3629
L 5331 3629
L 5331 2240
z
M 2637 2240
L 2637 3629
L 3718 3629
L 3718 2240
L 2637 2240
z
" transform="scale(0.016) translate(0 -140.8)"/>
<path id="NotoSansMonoCJKsc-Regular-7ebf" d="M 346 346
L 448 -115
C 1037 64 1805 294 2547 512
L 2477 922
C 1690 698 877 474 346 346
z
M 4506 4992
C 4826 4838 5229 4589 5434 4410
L 5715 4710
C 5510 4883 5101 5120 4787 5261
L 4506 4992
z
M 461 2707
C 550 2752 704 2790 1485 2893
C 1203 2477 954 2157 832 2029
C 634 1792 486 1632 346 1606
C 403 1485 474 1261 499 1165
C 634 1242 851 1306 2458 1632
C 2445 1728 2445 1907 2458 2035
L 1184 1805
C 1670 2381 2157 3085 2566 3789
L 2163 4032
C 2042 3795 1901 3552 1760 3322
L 947 3238
C 1331 3782 1702 4474 1978 5146
L 1530 5357
C 1274 4589 806 3770 666 3558
C 525 3341 416 3194 301 3162
C 358 3034 435 2803 461 2707
z
M 5677 2234
C 5421 1830 5075 1459 4659 1139
C 4557 1478 4467 1888 4403 2349
L 6035 2656
L 5958 3078
L 4346 2778
C 4314 3046 4282 3328 4262 3622
L 5856 3866
L 5779 4288
L 4237 4058
C 4218 4486 4211 4928 4211 5389
L 3738 5389
C 3744 4909 3757 4442 3782 3987
L 2771 3840
L 2848 3405
L 3808 3552
C 3827 3258 3859 2970 3891 2694
L 2643 2464
L 2720 2029
L 3949 2259
C 4026 1728 4128 1248 4262 851
C 3718 486 3091 198 2438 0
C 2554 -109 2675 -282 2739 -397
C 3341 -186 3910 90 4422 422
C 4685 -154 5030 -493 5485 -493
C 5926 -493 6074 -282 6163 435
C 6054 480 5901 582 5805 691
C 5773 122 5709 -26 5536 -26
C 5254 -26 5018 237 4819 704
C 5325 1088 5760 1542 6080 2042
L 5677 2234
z
" transform="scale(0.016) translate(0 -140.8)"/>
</defs>
<use href="#NotoSansMonoCJKsc-Regular-6c14"/>
<use href="#NotoSansMonoCJKsc-Regular-52a8" transform="translate(100 0)"/>
<use href="#NotoSansMonoCJKsc-Regular-63a8" transform="translate(200 0)"/>
<use href="#NotoSansMonoCJKsc-Regular-529b" transform="translate(300 0)"/>
<use href="#NotoSansMonoCJKsc-Regular-7cfb" transform="translate(400 0)"/>
<use href="#NotoSansMonoCJKsc-Regular-6570" transform="translate(500 0)"/>
<use href="#NotoSansMonoCJKsc-Regular-66f2" transform="translate(600 0)"/>
<use href="#NotoSansMonoCJKsc-Regular-7ebf" transform="translate(700 0)"/>
</g>
</g>
</g>
<g id="axes_2">
<g id="patch_7">
<path d="M 552.12 338.184
L 991.44 338.184
L 991.44 64.56
L 552.12 64.56
z
" style="fill: #ffffff"/>
</g>
<g id="matplotlib.axis_3">
<g id="xtick_7">
<g id="line2d_27">
<path d="M 572.089 338.184
L 572.089 64.56
" clip-path="url(#pd540e50930)" style="fill: none; stroke: #b0b0b0; stroke-opacity: 0.3; stroke-width: 0.8; stroke-linecap: square"/>
</g>
<g id="line2d_28">
<g>
<use href="#m1504cfccaf" x="572.089" y="338.184" style="stroke: #000000; stroke-width: 0.8"/>
</g>
</g>
<g id="text_16">
<!-- 0 -->
<g transform="translate(569.589 352.504) scale(0.1 -0.1)">
<use href="#NotoSansMonoCJKsc-Regular-30"/>
</g>
</g>
</g>
<g id="xtick_8">
<g id="line2d_29">
<path d="M 651.965 338.184
L 651.965 64.56
" clip-path="url(#pd540e50930)" style="fill: none; stroke: #b0b0b0; stroke-opacity: 0.3; stroke-width: 0.8; stroke-linecap: square"/>
</g>
<g id="line2d_30">
<g>
<use href="#m1504cfccaf" x="651.965" y="338.184" style="stroke: #000000; stroke-width: 0.8"/>
</g>
</g>
<g id="text_17">
<!-- 5 -->
<g transform="translate(649.465 352.504) scale(0.1 -0.1)">
<use href="#NotoSansMonoCJKsc-Regular-35"/>
</g>
</g>
</g>
<g id="xtick_9">
<g id="line2d_31">
<path d="M 731.842 338.184
L 731.842 64.56
" clip-path="url(#pd540e50930)" style="fill: none; stroke: #b0b0b0; stroke-opacity: 0.3; stroke-width: 0.8; stroke-linecap: square"/>
</g>
<g id="line2d_32">
<g>
<use href="#m1504cfccaf" x="731.842" y="338.184" style="stroke: #000000; stroke-width: 0.8"/>
</g>
</g>
<g id="text_18">
<!-- 10 -->
<g transform="translate(726.842 352.504) scale(0.1 -0.1)">
<use href="#NotoSansMonoCJKsc-Regular-31"/>
<use href="#NotoSansMonoCJKsc-Regular-30" transform="translate(50 0)"/>
</g>
</g>
</g>
<g id="xtick_10">
<g id="line2d_33">
<path d="M 811.718 338.184
L 811.718 64.56
" clip-path="url(#pd540e50930)" style="fill: none; stroke: #b0b0b0; stroke-opacity: 0.3; stroke-width: 0.8; stroke-linecap: square"/>
</g>
<g id="line2d_34">
<g>
<use href="#m1504cfccaf" x="811.718" y="338.184" style="stroke: #000000; stroke-width: 0.8"/>
</g>
</g>
<g id="text_19">
<!-- 15 -->
<g transform="translate(806.718 352.504) scale(0.1 -0.1)">
<use href="#NotoSansMonoCJKsc-Regular-31"/>
<use href="#NotoSansMonoCJKsc-Regular-35" transform="translate(50 0)"/>
</g>
</g>
</g>
<g id="xtick_11">
<g id="line2d_35">
<path d="M 891.595 338.184
L 891.595 64.56
" clip-path="url(#pd540e50930)" style="fill: none; stroke: #b0b0b0; stroke-opacity: 0.3; stroke-width: 0.8; stroke-linecap: square"/>
</g>
<g id="line2d_36">
<g>
<use href="#m1504cfccaf" x="891.595" y="338.184" style="stroke: #000000; stroke-width: 0.8"/>
</g>
</g>
<g id="text_20">
<!-- 20 -->
<g transform="translate(886.595 352.504) scale(0.1 -0.1)">
<use href="#NotoSansMonoCJKsc-Regular-32"/>
<use href="#NotoSansMonoCJKsc-Regular-30" transform="translate(50 0)"/>
</g>
</g>
</g>
<g id="xtick_12">
<g id="line2d_37">
<path d="M 971.471 338.184
L 971.471 64.56
" clip-path="url(#pd540e50930)" style="fill: none; stroke: #b0b0b0; stroke-opacity: 0.3; stroke-width: 0.8; stroke-linecap: square"/>
</g>
<g id="line2d_38">
<g>
<use href="#m1504cfccaf" x="971.471" y="338.184" style="stroke: #000000; stroke-width: 0.8"/>
</g>
</g>
<g id="text_21">
<!-- 25 -->
<g transform="translate(966.471 352.504) scale(0.1 -0.1)">
<use href="#NotoSansMonoCJKsc-Regular-32"/>
<use href="#NotoSansMonoCJKsc-Regular-35" transform="translate(50 0)"/>
</g>
</g>
</g>
<g id="text_22">
<!-- 风速 (m/s) -->
<g transform="translate(741.78 367.71) scale(0.12 -0.12)">
<use href="#NotoSansMonoCJKsc-Regular-98ce"/>
<use href="#NotoSansMonoCJKsc-Regular-901f" transform="translate(100 0)"/>
<use href="#NotoSansMonoCJKsc-Regular-20" transform="translate(200 0)"/>
<use href="#NotoSansMonoCJKsc-Regular-28" transform="translate(250 0)"/>
<use href="#NotoSansMonoCJKsc-Regular-6d" transform="translate(300 0)"/>
<use href="#NotoSansMonoCJKsc-Regular-2f" transform="translate(350 0)"/>
<use href="#NotoSansMonoCJKsc-Regular-73" transform="translate(400 0)"/>
<use href="#NotoSansMonoCJKsc-Regular-29" transform="translate(450 0)"/>
</g>
</g>
</g>
<g id="matplotlib.axis_4">
<g id="ytick_7">
<g id="line2d_39">
<path d="M 552.12 325.747
L 991.44 325.747
" clip-path="url(#pd540e50930)" style="fill: none; stroke: #b0b0b0; stroke-opacity: 0.3; stroke-width: 0.8; stroke-linecap: square"/>
</g>
<g id="line2d_40">
<g>
<use href="#m5d545ce8f8" x="552.12" y="325.747" style="stroke: #000000; stroke-width: 0.8"/>
</g>
</g>
<g id="text_23">
<!-- 0 -->
<g transform="translate(540.12 329.586) scale(0.1 -0.1)">
<use href="#NotoSansMonoCJKsc-Regular-30"/>
</g>
</g>
</g>
<g id="ytick_8">
<g id="line2d_41">
<path d="M 552.12 294.653
L 991.44 294.653
" clip-path="url(#pd540e50930)" style="fill: none; stroke: #b0b0b0; stroke-opacity: 0.3; stroke-width: 0.8; stroke-linecap: square"/>
</g>
<g id="line2d_42">
<g>
<use href="#m5d545ce8f8" x="552.12" y="294.653" style="stroke: #000000; stroke-width: 0.8"/>
</g>
</g>
<g id="text_24">
<!-- 250 -->
<g transform="translate(530.12 298.493) scale(0.1 -0.1)">
<use href="#NotoSansMonoCJKsc-Regular-32"/>
<use href="#NotoSansMonoCJKsc-Regular-35" transform="translate(50 0)"/>
<use href="#NotoSansMonoCJKsc-Regular-30" transform="translate(100 0)"/>
</g>
</g>
</g>
<g id="ytick_9">
<g id="line2d_43">
<path d="M 552.12 263.559
L 991.44 263.559
" clip-path="url(#pd540e50930)" style="fill: none; stroke: #b0b0b0; stroke-opacity: 0.3; stroke-width: 0.8; stroke-linecap: square"/>
</g>
<g id="line2d_44">
<g>
<use href="#m5d545ce8f8" x="552.12" y="263.559" style="stroke: #000000; stroke-width: 0.8"/>
</g>
</g>
<g id="text_25">
<!-- 500 -->
<g transform="translate(530.12 267.399) scale(0.1 -0.1)">
<use href="#NotoSansMonoCJKsc-Regular-35"/>
<use href="#NotoSansMonoCJKsc-Regular-30" transform="translate(50 0)"/>
<use href="#NotoSansMonoCJKsc-Regular-30" transform="translate(100 0)"/>
</g>
</g>
</g>
<g id="ytick_10">
<g id="line2d_45">
<path d="M 552.12 232.466
L 991.44 232.466
" clip-path="url(#pd540e50930)" style="fill: none; stroke: #b0b0b0; stroke-opacity: 0.3; stroke-width: 0.8; stroke-linecap: square"/>
</g>
<g id="line2d_46">
<g>
<use href="#m5d545ce8f8" x="552.12" y="232.466" style="stroke: #000000; stroke-width: 0.8"/>
</g>
</g>
<g id="text_26">
<!-- 750 -->
<g transform="translate(530.12 236.305) scale(0.1 -0.1)">
<defs>
<path id="NotoSansMonoCJKsc-Regular-37" d="M2848.1 3867.9Q2269 2857.3 2030.3 2284.6Q1791.7 1711.9 1672.4 1154.6Q1553.1 597.2 1553.1 0H1049Q1049 826.9 1356 1741Q1663 2655.2 2381.6 3846.5H351.9V4315.1H2848.1Z" transform="scale(0.016)"/>
</defs>
<use href="#NotoSansMonoCJKsc-Regular-37"/>
<use href="#NotoSansMonoCJKsc-Regular-35" transform="translate(50 0)"/>
<use href="#NotoSansMonoCJKsc-Regular-30" transform="translate(100 0)"/>
</g>
</g>
</g>
<g id="ytick_11">
<g id="line2d_47">
<path d="M 552.12 201.372
L 991.44 201.372
" clip-path="url(#pd540e50930)" style="fill: none; stroke: #b0b0b0; stroke-opacity: 0.3; stroke-width: 0.8; stroke-linecap: square"/>
</g>
<g id="line2d_48">
<g>
<use href="#m5d545ce8f8" x="552.12" y="201.372" style="stroke: #000000; stroke-width: 0.8"/>
</g>
</g>
<g id="text_27">
<!-- 1000 -->
<g transform="translate(525.12 205.212) scale(0.1 -0.1)">
<use href="#NotoSansMonoCJKsc-Regular-31"/>
<use href="#NotoSansMonoCJKsc-Regular-30" transform="translate(50 0)"/>
<use href="#NotoSansMonoCJKsc-Regular-30" transform="translate(100 0)"/>
<use href="#NotoSansMonoCJKsc-Regular-30" transform="translate(150 0)"/>
</g>
</g>
</g>
<g id="ytick_12">
<g id="line2d_49">
<path d="M 552.12 170.278
L 991.44 170.278
" clip-path="url(#pd540e50930)" style="fill: none; stroke: #b0b0b0; stroke-opacity: 0.3; stroke-width: 0.8; stroke-linecap: square"/>
</g>
<g id="line2d_50">
<g>
<use href="#m5d545ce8f8" x="552.12" y="170.278" style="stroke: #000000; stroke-width: 0.8"/>
</g>
</g>
<g id="text_28">
<!-- 1250 -->
<g transform="translate(525.12 174.118) scale(0.1 -0.1)">
<use href="#NotoSansMonoCJKsc-Regular-31"/>
<use href="#NotoSansMonoCJKsc-Regular-32" transform="translate(50 0)"/>
<use href="#NotoSansMonoCJKsc-Regular-35" transform="translate(100 0)"/>
<use href="#NotoSansMonoCJKsc-Regular-30" transform="translate(150 0)"/>
</g>
</g>
</g>
<g id="ytick_13">
<g id="line2d_51">
<path d="M 552.12 139.185
L 991.44 139.185
" clip-path="url(#pd540e50930)" style="fill: none; stroke: #b0b0b0; stroke-opacity: 0.3; stroke-width: 0.8; stroke-linecap: square"/>
</g>
<g id="line2d_52">
<g>
<use href="#m5d545ce8f8" x="552.12" y="139.185" style="stroke: #000000; stroke-width: 0.8"/>
</g>
</g>
<g id="text_29">
<!-- 1500 -->
<g transform="translate(525.12 143.025) scale(0.1 -0.1)">
<use href="#NotoSansMonoCJKsc-Regular-31"/>
<use href="#NotoSansMonoCJKsc-Regular-35" transform="translate(50 0)"/>
<use href="#NotoSansMonoCJKsc-Regular-30" transform="translate(100 0)"/>
<use href="#NotoSansMonoCJKsc-Regular-30" transform="translate(150 0)"/>
</g>
</g>
</g>
<g id="ytick_14">
<g id="line2d_53">
<path d="M 552.12 108.091
L 991.44 108.091
" clip-path="url(#pd540e50930)" style="fill: none; stroke: #b0b0b0; stroke-opacity: 0.3; stroke-width: 0.8; stroke-linecap: square"/>
</g>
<g id="line2d_54">
<g>
<use href="#m5d545ce8f8" x="552.12" y="108.091" style="stroke: #000000; stroke-width: 0.8"/>
</g>
</g>
<g id="text_30">
<!-- 1750 -->
<g transform="translate(525.12 111.931) scale(0.1 -0.1)">
<use href="#NotoSansMonoCJKsc-Regular-31"/>
<use href="#NotoSansMonoCJKsc-Regular-37" transform="translate(50 0)"/>
<use href="#NotoSansMonoCJKsc-Regular-35" transform="translate(100 0)"/>
<use href="#NotoSansMonoCJKsc-Regular-30" transform="translate(150 0)"/>
</g>
</g>
</g>
<g id="ytick_15">
<g id="line2d_55">
<path d="M 552.12 76.997
L 991.44 76.997
" clip-path="url(#pd540e50930)" style="fill: none; stroke: #b0b0b0; stroke-opacity: 0.3; stroke-width: 0.8; stroke-linecap: square"/>
</g>
<g id="line2d_56">
<g>
<use href="#m5d545ce8f8" x="552.12" y="76.997" style="stroke: #000000; stroke-width: 0.8"/>
</g>
</g>
<g id="text_31">
<!-- 2000 -->
<g transform="translate(525.12 80.837) scale(0.1 -0.1)">
<use href="#NotoSansMonoCJKsc-Regular-32"/>
<use href="#NotoSansMonoCJKsc-Regular-30" transform="translate(50 0)"/>
<use href="#NotoSansMonoCJKsc-Regular-30" transform="translate(100 0)"/>
<use href="#NotoSansMonoCJKsc-Regular-30" transform="translate(150 0)"/>
</g>
</g>
</g>
<g id="text_32">
<!-- 功率 (kW) -->
<g transform="translate(519.693 228.852) rotate(-90) scale(0.12 -0.12)">
<defs>
<path id="NotoSansMonoCJKsc-Regular-529f" d="M 243 1165
L 358 672
C 1043 858 1965 1120 2835 1370
L 2778 1824
L 1747 1549
L 1747 4160
L 2682 4160
L 2682 4621
L 326 4621
L 326 4160
L 1274 4160
L 1274 1421
C 883 1318 525 1229 243 1165
z
M 3821 5274
C 3821 4806 3814 4352 3802 3910
L 2726 3910
L 2726 3450
L 3782 3450
C 3686 1888 3334 595 1965 -141
C 2086 -230 2246 -397 2310 -518
C 3776 301 4154 1747 4256 3450
L 5536 3450
C 5446 1171 5338 301 5152 102
C 5082 19 5018 0 4883 0
C 4742 0 4384 6 3987 38
C 4077 -90 4128 -294 4141 -435
C 4506 -454 4877 -461 5082 -442
C 5299 -422 5440 -371 5581 -192
C 5824 102 5914 1024 6016 3674
C 6016 3738 6016 3910 6016 3910
L 4282 3910
C 4294 4352 4301 4806 4301 5274
L 3821 5274
z
" transform="scale(0.016) translate(0 -140.8)"/>
<path id="NotoSansMonoCJKsc-Regular-7387" d="M 5306 4115
C 5082 3859 4685 3507 4397 3296
L 4749 3059
C 5043 3264 5414 3571 5709 3872
L 5306 4115
z
M 358 2157
L 602 1773
C 1024 1978 1549 2259 2042 2522
L 1946 2886
C 1363 2605 755 2323 358 2157
z
M 544 3834
C 890 3616 1312 3296 1510 3078
L 1856 3373
C 1638 3590 1216 3898 870 4096
L 544 3834
z
M 4333 2611
C 4774 2342 5325 1958 5594 1702
L 5952 1990
C 5670 2246 5101 2624 4672 2867
L 4333 2611
z
M 326 1293
L 326 845
L 2944 845
L 2944 -512
L 3456 -512
L 3456 845
L 6080 845
L 6080 1293
L 3456 1293
L 3456 1818
L 2944 1818
L 2944 1293
L 326 1293
z
M 2784 5299
C 2880 5152 2995 4966 3078 4800
L 454 4800
L 454 4358
L 2803 4358
C 2611 4051 2394 3789 2310 3706
C 2214 3590 2118 3520 2029 3501
C 2074 3392 2138 3187 2163 3091
C 2259 3130 2400 3162 3136 3219
C 2829 2906 2554 2656 2426 2554
C 2208 2374 2042 2253 1901 2234
C 1952 2112 2016 1901 2035 1818
C 2170 1875 2394 1907 4070 2074
C 4147 1946 4211 1830 4250 1728
L 4634 1901
C 4499 2195 4173 2656 3885 2982
L 3526 2835
C 3635 2714 3744 2566 3840 2426
L 2707 2330
C 3270 2778 3834 3341 4346 3936
L 3955 4160
C 3821 3981 3667 3802 3520 3629
L 2694 3584
C 2906 3808 3117 4077 3302 4358
L 6022 4358
L 6022 4800
L 3642 4800
C 3552 4986 3398 5235 3251 5421
L 2784 5299
z
" transform="scale(0.016) translate(0 -140.8)"/>
<path id="NotoSansMonoCJKsc-Regular-6b" d="M2226.1 0 1244.7 1304.5 890.8 1016.6V0H408.2V3918.7H890.8V1470.8L2164.4 2857.2H2730.1L1553.1 1629.3L2791.8 0Z" transform="scale(0.016)"/>
<path id="NotoSansMonoCJKsc-Regular-57" d="M2556.3 0H1998.9L1694.8 2546.9Q1639 2996.9 1600.8 3487.5Q1562.6 3078.1 1538.7 2864.1Q1514.8 2650 1199.5 0H642.1L64 4403.1H540.2L865 1559.4L938.3 871.9Q982.9 1306.2 1025.1 1701.6Q1067.3 2096.9 1342.8 4403.1H1868.3L2151.8 2059.4Q2185.3 1796.9 2264.9 871.9L2304.7 1234.4L2389.1 1953.1L2659.8 4403.1H3136Z" transform="scale(0.016)"/>
</defs>
<use href="#NotoSansMonoCJKsc-Regular-529f"/>
<use href="#NotoSansMonoCJKsc-Regular-7387" transform="translate(100 0)"/>
<use href="#NotoSansMonoCJKsc-Regular-20" transform="translate(200 0)"/>
<use href="#NotoSansMonoCJKsc-Regular-28" transform="translate(250 0)"/>
<use href="#NotoSansMonoCJKsc-Regular-6b" transform="translate(300 0)"/>
<use href="#NotoSansMonoCJKsc-Regular-57" transform="translate(350 0)"/>
<use href="#NotoSansMonoCJKsc-Regular-29" transform="translate(400 0)"/>
</g>
</g>
</g>
<g id="line2d_57">
<path d="M 572.089 325.747
L 580.077 325.747
L 588.064 325.747
L 596.052 325.747
L 604.04 325.747
L 612.027 325.747
L 620.015 319.528
L 628.003 312.563
L 635.99 305.1
L 643.978 295.897
L 651.965 284.703
L 659.953 271.27
L 667.941 255.599
L 675.928 236.819
L 683.916 216.421
L 691.904 194.531
L 699.891 172.268
L 707.879 149.881
L 715.867 127.867
L 723.854 105.977
L 731.842 89.808
L 739.829 81.848
L 747.817 77.744
L 755.805 76.997
L 763.792 76.997
L 771.78 76.997
L 779.768 76.997
L 787.755 76.997
L 795.743 76.997
L 803.731 76.997
L 811.718 76.997
L 819.706 76.997
L 827.693 76.997
L 835.681 76.997
L 843.669 76.997
L 851.656 76.997
L 859.644 76.997
L 867.632 76.997
L 875.619 76.997
L 883.607 76.997
L 891.595 76.997
L 899.582 76.997
L 907.57 76.997
L 915.557 76.997
L 923.545 76.997
L 931.533 325.747
L 939.52 325.747
L 947.508 325.747
L 955.496 325.747
L 963.483 325.747
L 971.471 325.747
" clip-path="url(#pd540e50930)" style="fill: none; stroke: #008000; stroke-width: 2; stroke-linecap: square"/>
<defs>
<path id="m44a7d2be6f" d="M -2 2
L 2 2
L 2 -2
L -2 -2
z
" style="stroke: #008000; stroke-linejoin: miter"/>
</defs>
<g clip-path="url(#pd540e50930)">
<use href="#m44a7d2be6f" x="572.089" y="325.747" style="fill: #008000; stroke: #008000; stroke-linejoin: miter"/>
<use href="#m44a7d2be6f" x="580.077" y="325.747" style="fill: #008000; stroke: #008000; stroke-linejoin: miter"/>
<use href="#m44a7d2be6f" x="588.064" y="325.747" style="fill: #008000; stroke: #008000; stroke-linejoin: miter"/>
<use href="#m44a7d2be6f" x="596.052" y="325.747" style="fill: #008000; stroke: #008000; stroke-linejoin: miter"/>
<use href="#m44a7d2be6f" x="604.04" y="325.747" style="fill: #008000; stroke: #008000; stroke-linejoin: miter"/>
<use href="#m44a7d2be6f" x="612.027" y="325.747" style="fill: #008000; stroke: #008000; stroke-linejoin: miter"/>
<use href="#m44a7d2be6f" x="620.015" y="319.528" style="fill: #008000; stroke: #008000; stroke-linejoin: miter"/>
<use href="#m44a7d2be6f" x="628.003" y="312.563" style="fill: #008000; stroke: #008000; stroke-linejoin: miter"/>
<use href="#m44a7d2be6f" x="635.99" y="305.1" style="fill: #008000; stroke: #008000; stroke-linejoin: miter"/>
<use href="#m44a7d2be6f" x="643.978" y="295.897" style="fill: #008000; stroke: #008000; stroke-linejoin: miter"/>
<use href="#m44a7d2be6f" x="651.965" y="284.703" style="fill: #008000; stroke: #008000; stroke-linejoin: miter"/>
<use href="#m44a7d2be6f" x="659.953" y="271.27" style="fill: #008000; stroke: #008000; stroke-linejoin: miter"/>
<use href="#m44a7d2be6f" x="667.941" y="255.599" style="fill: #008000; stroke: #008000; stroke-linejoin: miter"/>
<use href="#m44a7d2be6f" x="675.928" y="236.819" style="fill: #008000; stroke: #008000; stroke-linejoin: miter"/>
<use href="#m44a7d2be6f" x="683.916" y="216.421" style="fill: #008000; stroke: #008000; stroke-linejoin: miter"/>
<use href="#m44a7d2be6f" x="691.904" y="194.531" style="fill: #008000; stroke: #008000; stroke-linejoin: miter"/>
<use href="#m44a7d2be6f" x="699.891" y="172.268" style="fill: #008000; stroke: #008000; stroke-linejoin: miter"/>
<use href="#m44a7d2be6f" x="707.879" y="149.881" style="fill: #008000; stroke: #008000; stroke-linejoin: miter"/>
<use href="#m44a7d2be6f" x="715.867" y="127.867" style="fill: #008000; stroke: #008000; stroke-linejoin: miter"/>
<use href="#m44a7d2be6f" x="723.854" y="105.977" style="fill: #008000; stroke: #008000; stroke-linejoin: miter"/>
<use href="#m44a7d2be6f" x="731.842" y="89.808" style="fill: #008000; stroke: #008000; stroke-linejoin: miter"/>
<use href="#m44a7d2be6f" x="739.829" y="81.848" style="fill: #008000; stroke: #008000; stroke-linejoin: miter"/>
<use href="#m44a7d2be6f" x="747.817" y="77.744" style="fill: #008000; stroke: #008000; stroke-linejoin: miter"/>
<use href="#m44a7d2be6f" x="755.805" y="76.997" style="fill: #008000; stroke: #008000; stroke-linejoin: miter"/>
<use href="#m44a7d2be6f" x="763.792" y="76.997" style="fill: #008000; stroke: #008000; stroke-linejoin: miter"/>
<use href="#m44a7d2be6f" x="771.78" y="76.997" style="fill: #008000; stroke: #008000; stroke-linejoin: miter"/>
<use href="#m44a7d2be6f" x="779.768" y="76.997" style="fill: #008000; stroke: #008000; stroke-linejoin: miter"/>
<use href="#m44a7d2be6f" x="787.755" y="76.997" style="fill: #008000; stroke: #008000; stroke-linejoin: miter"/>
<use href="#m44a7d2be6f" x="795.743" y="76.997" style="fill: #008000; stroke: #008000; stroke-linejoin: miter"/>
<use href="#m44a7d2be6f" x="803.731" y="76.997" style="fill: #008000; stroke: #008000; stroke-linejoin: miter"/>
<use href="#m44a7d2be6f" x="811.718" y="76.997" style="fill: #008000; stroke: #008000; stroke-linejoin: miter"/>
<use href="#m44a7d2be6f" x="819.706" y="76.997" style="fill: #008000; stroke: #008000; stroke-linejoin: miter"/>
<use href="#m44a7d2be6f" x="827.693" y="76.997" style="fill: #008000; stroke: #008000; stroke-linejoin: miter"/>
<use href="#m44a7d2be6f" x="835.681" y="76.997" style="fill: #008000; stroke: #008000; stroke-linejoin: miter"/>
<use href="#m44a7d2be6f" x="843.669" y="76.997" style="fill: #008000; stroke: #008000; stroke-linejoin: miter"/>
<use href="#m44a7d2be6f" x="851.656" y="76.997" style="fill: #008000; stroke: #008000; stroke-linejoin: miter"/>
<use href="#m44a7d2be6f" x="859.644" y="76.997" style="fill: #008000; stroke: #008000; stroke-linejoin: miter"/>
<use href="#m44a7d2be6f" x="867.632" y="76.997" style="fill: #008000; stroke: #008000; stroke-linejoin: miter"/>
<use href="#m44a7d2be6f" x="875.619" y="76.997" style="fill: #008000; stroke: #008000; stroke-linejoin: miter"/>
<use href="#m44a7d2be6f" x="883.607" y="76.997" style="fill: #008000; stroke: #008000; stroke-linejoin: miter"/>
<use href="#m44a7d2be6f" x="891.595" y="76.997" style="fill: #008000; stroke: #008000; stroke-linejoin: miter"/>
<use href="#m44a7d2be6f" x="899.582" y="76.997" style="fill: #008000; stroke: #008000; stroke-linejoin: miter"/>
<use href="#m44a7d2be6f" x="907.57" y="76.997" style="fill: #008000; stroke: #008000; stroke-linejoin: miter"/>
<use href="#m44a7d2be6f" x="915.557" y="76.997" style="fill: #008000; stroke: #008000; stroke-linejoin: miter"/>
<use href="#m44a7d2be6f" x="923.545" y="76.997" style="fill: #008000; stroke: #008000; stroke-linejoin: miter"/>
<use href="#m44a7d2be6f" x="931.533" y="325.747" style="fill: #008000; stroke: #008000; stroke-linejoin: miter"/>
<use href="#m44a7d2be6f" x="939.52" y="325.747" style="fill: #008000; stroke: #008000; stroke-linejoin: miter"/>
<use href="#m44a7d2be6f" x="947.508" y="325.747" style="fill: #008000; stroke: #008000; stroke-linejoin: miter"/>
<use href="#m44a7d2be6f" x="955.496" y="325.747" style="fill: #008000; stroke: #008000; stroke-linejoin: miter"/>
<use href="#m44a7d2be6f" x="963.483" y="325.747" style="fill: #008000; stroke: #008000; stroke-linejoin: miter"/>
<use href="#m44a7d2be6f" x="971.471" y="325.747" style="fill: #008000; stroke: #008000; stroke-linejoin: miter"/>
</g>
</g>
<g id="line2d_58">
<g clip-path="url(#pd540e50930)">
<use href="#m100449ab72" x="755.805" y="76.997" style="fill: #ff0000; stroke: #ff0000"/>
</g>
</g>
<g id="patch_8">
<path d="M 552.12 338.184
L 552.12 64.56
" style="fill: none; stroke: #000000; stroke-width: 0.8; stroke-linejoin: miter; stroke-linecap: square"/>
</g>
<g id="patch_9">
<path d="M 991.44 338.184
L 991.44 64.56
" style="fill: none; stroke: #000000; stroke-width: 0.8; stroke-linejoin: miter; stroke-linecap: square"/>
</g>
<g id="patch_10">
<path d="M 552.12 338.184
L 991.44 338.184
" style="fill: none; stroke: #000000; stroke-width: 0.8; stroke-linejoin: miter; stroke-linecap: square"/>
</g>
<g id="patch_11">
<path d="M 552.12 64.56
L 991.44 64.56
" style="fill: none; stroke: #000000; stroke-width: 0.8; stroke-linejoin: miter; stroke-linecap: square"/>
</g>
<g id="patch_12">
<path d="M 810.568 128.7
Q 783.913 103.535 758.072 79.138
" style="fill: none; stroke: #ff0000; stroke-linecap: round"/>
<path d="M 759.607 83.338
L 758.072 79.138
L 762.353 80.429
" style="fill: none; stroke: #ff0000; stroke-linecap: round"/>
</g>
<g id="text_33">
<!-- 功率曲线 -->
<g transform="translate(743.78 58.848) scale(0.14 -0.14)">
<use href="#NotoSansMonoCJKsc-Regular-529f"/>
<use href="#NotoSansMonoCJKsc-Regular-7387" transform="translate(100 0)"/>
<use href="#NotoSansMonoCJKsc-Regular-66f2" transform="translate(200 0)"/>
<use href="#NotoSansMonoCJKsc-Regular-7ebf" transform="translate(300 0)"/>
</g>
</g>
</g>
<g id="axes_3">
<g id="patch_13">
<path d="M 54.48 670.992
L 493.8 670.992
L 493.8 397.368
L 54.48 397.368
z
" style="fill: #ffffff"/>
</g>
<g id="matplotlib.axis_5">
<g id="xtick_13">
<g id="line2d_59">
<path d="M 66.298 670.992
L 66.298 397.368
" clip-path="url(#p0916e740d0)" style="fill: none; stroke: #b0b0b0; stroke-opacity: 0.3; stroke-width: 0.8; stroke-linecap: square"/>
</g>
<g id="line2d_60">
<g>
<use href="#m1504cfccaf" x="66.298" y="670.992" style="stroke: #000000; stroke-width: 0.8"/>
</g>
</g>
<g id="text_34">
<!-- 0 -->
<g transform="translate(63.798 685.312) scale(0.1 -0.1)">
<use href="#NotoSansMonoCJKsc-Regular-30"/>
</g>
</g>
</g>
<g id="xtick_14">
<g id="line2d_61">
<path d="M 147.805 670.992
L 147.805 397.368
" clip-path="url(#p0916e740d0)" style="fill: none; stroke: #b0b0b0; stroke-opacity: 0.3; stroke-width: 0.8; stroke-linecap: square"/>
</g>
<g id="line2d_62">
<g>
<use href="#m1504cfccaf" x="147.805" y="670.992" style="stroke: #000000; stroke-width: 0.8"/>
</g>
</g>
<g id="text_35">
<!-- 5 -->
<g transform="translate(145.305 685.312) scale(0.1 -0.1)">
<use href="#NotoSansMonoCJKsc-Regular-35"/>
</g>
</g>
</g>
<g id="xtick_15">
<g id="line2d_63">
<path d="M 229.311 670.992
L 229.311 397.368
" clip-path="url(#p0916e740d0)" style="fill: none; stroke: #b0b0b0; stroke-opacity: 0.3; stroke-width: 0.8; stroke-linecap: square"/>
</g>
<g id="line2d_64">
<g>
<use href="#m1504cfccaf" x="229.311" y="670.992" style="stroke: #000000; stroke-width: 0.8"/>
</g>
</g>
<g id="text_36">
<!-- 10 -->
<g transform="translate(224.311 685.312) scale(0.1 -0.1)">
<use href="#NotoSansMonoCJKsc-Regular-31"/>
<use href="#NotoSansMonoCJKsc-Regular-30" transform="translate(50 0)"/>
</g>
</g>
</g>
<g id="xtick_16">
<g id="line2d_65">
<path d="M 310.818 670.992
L 310.818 397.368
" clip-path="url(#p0916e740d0)" style="fill: none; stroke: #b0b0b0; stroke-opacity: 0.3; stroke-width: 0.8; stroke-linecap: square"/>
</g>
<g id="line2d_66">
<g>
<use href="#m1504cfccaf" x="310.818" y="670.992" style="stroke: #000000; stroke-width: 0.8"/>
</g>
</g>
<g id="text_37">
<!-- 15 -->
<g transform="translate(305.818 685.312) scale(0.1 -0.1)">
<use href="#NotoSansMonoCJKsc-Regular-31"/>
<use href="#NotoSansMonoCJKsc-Regular-35" transform="translate(50 0)"/>
</g>
</g>
</g>
<g id="xtick_17">
<g id="line2d_67">
<path d="M 392.324 670.992
L 392.324 397.368
" clip-path="url(#p0916e740d0)" style="fill: none; stroke: #b0b0b0; stroke-opacity: 0.3; stroke-width: 0.8; stroke-linecap: square"/>
</g>
<g id="line2d_68">
<g>
<use href="#m1504cfccaf" x="392.324" y="670.992" style="stroke: #000000; stroke-width: 0.8"/>
</g>
</g>
<g id="text_38">
<!-- 20 -->
<g transform="translate(387.324 685.312) scale(0.1 -0.1)">
<use href="#NotoSansMonoCJKsc-Regular-32"/>
<use href="#NotoSansMonoCJKsc-Regular-30" transform="translate(50 0)"/>
</g>
</g>
</g>
<g id="xtick_18">
<g id="line2d_69">
<path d="M 473.831 670.992
L 473.831 397.368
" clip-path="url(#p0916e740d0)" style="fill: none; stroke: #b0b0b0; stroke-opacity: 0.3; stroke-width: 0.8; stroke-linecap: square"/>
</g>
<g id="line2d_70">
<g>
<use href="#m1504cfccaf" x="473.831" y="670.992" style="stroke: #000000; stroke-width: 0.8"/>
</g>
</g>
<g id="text_39">
<!-- 25 -->
<g transform="translate(468.831 685.312) scale(0.1 -0.1)">
<use href="#NotoSansMonoCJKsc-Regular-32"/>
<use href="#NotoSansMonoCJKsc-Regular-35" transform="translate(50 0)"/>
</g>
</g>
</g>
<g id="text_40">
<!-- 风速 (m/s) -->
<g transform="translate(244.14 700.518) scale(0.12 -0.12)">
<use href="#NotoSansMonoCJKsc-Regular-98ce"/>
<use href="#NotoSansMonoCJKsc-Regular-901f" transform="translate(100 0)"/>
<use href="#NotoSansMonoCJKsc-Regular-20" transform="translate(200 0)"/>
<use href="#NotoSansMonoCJKsc-Regular-28" transform="translate(250 0)"/>
<use href="#NotoSansMonoCJKsc-Regular-6d" transform="translate(300 0)"/>
<use href="#NotoSansMonoCJKsc-Regular-2f" transform="translate(350 0)"/>
<use href="#NotoSansMonoCJKsc-Regular-73" transform="translate(400 0)"/>
<use href="#NotoSansMonoCJKsc-Regular-29" transform="translate(450 0)"/>
</g>
</g>
</g>
<g id="matplotlib.axis_6">
<g id="ytick_16">
<g id="line2d_71">
<path d="M 54.48 658.555
L 493.8 658.555
" clip-path="url(#p0916e740d0)" style="fill: none; stroke: #b0b0b0; stroke-opacity: 0.3; stroke-width: 0.8; stroke-linecap: square"/>
</g>
<g id="line2d_72">
<g>
<use href="#m5d545ce8f8" x="54.48" y="658.555" style="stroke: #000000; stroke-width: 0.8"/>
</g>
</g>
<g id="text_41">
<!-- 0 -->
<g transform="translate(42.48 662.394) scale(0.1 -0.1)">
<use href="#NotoSansMonoCJKsc-Regular-30"/>
</g>
</g>
</g>
<g id="ytick_17">
<g id="line2d_73">
<path d="M 54.48 602.457
L 493.8 602.457
" clip-path="url(#p0916e740d0)" style="fill: none; stroke: #b0b0b0; stroke-opacity: 0.3; stroke-width: 0.8; stroke-linecap: square"/>
</g>
<g id="line2d_74">
<g>
<use href="#m5d545ce8f8" x="54.48" y="602.457" style="stroke: #000000; stroke-width: 0.8"/>
</g>
</g>
<g id="text_42">
<!-- 1 -->
<g transform="translate(42.48 606.297) scale(0.1 -0.1)">
<use href="#NotoSansMonoCJKsc-Regular-31"/>
</g>
</g>
</g>
<g id="ytick_18">
<g id="line2d_75">
<path d="M 54.48 546.36
L 493.8 546.36
" clip-path="url(#p0916e740d0)" style="fill: none; stroke: #b0b0b0; stroke-opacity: 0.3; stroke-width: 0.8; stroke-linecap: square"/>
</g>
<g id="line2d_76">
<g>
<use href="#m5d545ce8f8" x="54.48" y="546.36" style="stroke: #000000; stroke-width: 0.8"/>
</g>
</g>
<g id="text_43">
<!-- 2 -->
<g transform="translate(42.48 550.2) scale(0.1 -0.1)">
<use href="#NotoSansMonoCJKsc-Regular-32"/>
</g>
</g>
</g>
<g id="ytick_19">
<g id="line2d_77">
<path d="M 54.48 490.263
L 493.8 490.263
" clip-path="url(#p0916e740d0)" style="fill: none; stroke: #b0b0b0; stroke-opacity: 0.3; stroke-width: 0.8; stroke-linecap: square"/>
</g>
<g id="line2d_78">
<g>
<use href="#m5d545ce8f8" x="54.48" y="490.263" style="stroke: #000000; stroke-width: 0.8"/>
</g>
</g>
<g id="text_44">
<!-- 3 -->
<g transform="translate(42.48 494.103) scale(0.1 -0.1)">
<defs>
<path id="NotoSansMonoCJKsc-Regular-33" d="M2901.7 1191.3Q2901.7 594.1 2569.3 266.4Q2236.8 -61.2 1620.1 -61.2Q1046.3 -61.2 704.5 234.3Q362.6 529.8 298.3 1108.6L797 1160.7Q893.5 395.1 1620.1 395.1Q1984.8 395.1 2192.6 600.2Q2400.4 805.4 2400.4 1209.7Q2400.4 1561.9 2163.1 1759.4Q1925.8 1956.9 1478 1956.9H1204.5V2434.7H1467.3Q1864.1 2434.7 2082.6 2632.2Q2301.1 2829.8 2301.1 3178.9Q2301.1 3524.9 2122.8 3725.5Q1944.5 3926.1 1593.3 3926.1Q1274.2 3926.1 1077.2 3739.3Q880.1 3552.5 847.9 3212.6L362.6 3255.4Q416.2 3785.2 747.4 4082.3Q1078.5 4379.4 1598.7 4379.4Q2167.1 4379.4 2482.1 4077.7Q2797.2 3776.1 2797.2 3237.1Q2797.2 2823.6 2594.7 2564.8Q2392.3 2306.1 2006.2 2214.2V2201.9Q2429.8 2149.9 2665.8 1877.3Q2901.7 1604.8 2901.7 1191.3Z" transform="scale(0.016)"/>
</defs>
<use href="#NotoSansMonoCJKsc-Regular-33"/>
</g>
</g>
</g>
<g id="ytick_20">
<g id="line2d_79">
<path d="M 54.48 434.166
L 493.8 434.166
" clip-path="url(#p0916e740d0)" style="fill: none; stroke: #b0b0b0; stroke-opacity: 0.3; stroke-width: 0.8; stroke-linecap: square"/>
</g>
<g id="line2d_80">
<g>
<use href="#m5d545ce8f8" x="54.48" y="434.166" style="stroke: #000000; stroke-width: 0.8"/>
</g>
</g>
<g id="text_45">
<!-- 4 -->
<g transform="translate(42.48 438.006) scale(0.1 -0.1)">
<use href="#NotoSansMonoCJKsc-Regular-34"/>
</g>
</g>
</g>
<g id="text_46">
<!-- 气动推力 (N) -->
<g transform="translate(37.053 570.66) rotate(-90) scale(0.12 -0.12)">
<defs>
<path id="NotoSansMonoCJKsc-Regular-4e" d="M2403.6 0 631.9 3750 643.7 3446.9 655.4 2925V0H256V4403.1H777.6L2568.1 628.1Q2539.9 1240.6 2539.9 1515.6V4403.1H2944V0Z" transform="scale(0.016)"/>
</defs>
<use href="#NotoSansMonoCJKsc-Regular-6c14"/>
<use href="#NotoSansMonoCJKsc-Regular-52a8" transform="translate(100 0)"/>
<use href="#NotoSansMonoCJKsc-Regular-63a8" transform="translate(200 0)"/>
<use href="#NotoSansMonoCJKsc-Regular-529b" transform="translate(300 0)"/>
<use href="#NotoSansMonoCJKsc-Regular-20" transform="translate(400 0)"/>
<use href="#NotoSansMonoCJKsc-Regular-28" transform="translate(450 0)"/>
<use href="#NotoSansMonoCJKsc-Regular-4e" transform="translate(500 0)"/>
<use href="#NotoSansMonoCJKsc-Regular-29" transform="translate(550 0)"/>
</g>
</g>
<g id="text_47">
<!-- 1e9 -->
<g transform="translate(54.48 394.368) scale(0.1 -0.1)">
<defs>
<path id="NotoSansMonoCJKsc-Regular-65" d="M818.4 1328.2Q818.4 837.1 1024.9 570.4Q1231.3 303.7 1628.2 303.7Q1941.9 303.7 2130.9 427.8Q2319.9 551.9 2386.9 742L2810.6 623.2Q2550.5 -52.8 1628.2 -52.8Q984.7 -52.8 648.2 324.8Q311.7 702.4 311.7 1447.1Q311.7 2154.8 648.2 2532.4Q984.7 2910 1609.4 2910Q2888.3 2910 2888.3 1391.6V1328.2ZM2389.6 1692.6Q2349.4 2144.2 2156.4 2351.5Q1963.3 2558.8 1601.3 2558.8Q1250.1 2558.8 1045 2327.7Q839.9 2096.7 823.8 1692.6Z" transform="scale(0.016)"/>
<path id="NotoSansMonoCJKsc-Regular-39" d="M2868.2 2244.8Q2868.2 1133.1 2513 535.9Q2157.7 -61.2 1500.8 -61.2Q1058.4 -61.2 791.6 151.6Q524.8 364.4 409.5 839.1L870.7 921.8Q1015.5 382.8 1508.8 382.8Q1924.4 382.8 2152.3 823.8Q2380.2 1264.8 2391 2082.5Q2283.7 1806.9 2023.6 1640Q1763.6 1473.1 1452.5 1473.1Q943.1 1473.1 637.4 1871.2Q331.8 2269.3 331.8 2927.8Q331.8 3604.6 664.2 3992Q996.7 4379.4 1589.3 4379.4Q2219.4 4379.4 2543.8 3846.5Q2868.2 3313.6 2868.2 2244.8ZM2342.7 2777.7Q2342.7 3298.3 2133.6 3615.3Q1924.4 3932.2 1573.2 3932.2Q1224.6 3932.2 1023.5 3661.2Q822.4 3390.2 822.4 2927.8Q822.4 2456.1 1023.5 2182Q1224.6 1907.9 1567.8 1907.9Q1777 1907.9 1956.6 2016.7Q2136.2 2125.4 2239.5 2324.4Q2342.7 2523.5 2342.7 2777.7Z" transform="scale(0.016)"/>
</defs>
<use href="#NotoSansMonoCJKsc-Regular-31"/>
<use href="#NotoSansMonoCJKsc-Regular-65" transform="translate(50 0)"/>
<use href="#NotoSansMonoCJKsc-Regular-39" transform="translate(100 0)"/>
</g>
</g>
</g>
<g id="line2d_81">
<path d="M 74.449 658.555
L 82.6 658.555
L 90.75 658.555
L 98.901 658.555
L 107.052 658.555
L 115.202 636.716
L 123.353 618.47
L 131.504 604.081
L 139.654 588.901
L 147.805 572.284
L 155.956 554.415
L 164.106 535.351
L 172.257 514.654
L 180.408 494.09
L 188.558 474.181
L 196.709 456.582
L 204.859 440.658
L 213.01 426.96
L 221.161 414.919
L 229.311 409.805
L 237.462 413.724
L 245.613 420.787
L 253.763 430.195
L 261.914 439.771
L 270.065 448.603
L 278.215 456.571
L 286.366 464.011
L 294.517 470.971
L 302.667 477.331
L 310.818 483.499
L 318.969 489.187
L 327.119 494.491
L 335.27 499.267
L 343.421 504.067
L 351.571 508.363
L 359.722 512.683
L 367.872 516.559
L 376.023 520.387
L 384.174 523.771
L 392.324 527.155
L 400.475 530.515
L 408.626 533.371
L 416.776 536.491
L 424.927 539.131
L 433.078 658.555
L 441.228 658.555
L 449.379 658.555
L 457.53 658.555
L 465.68 658.555
L 473.831 658.555
" clip-path="url(#p0916e740d0)" style="fill: none; stroke: #ff0000; stroke-width: 2; stroke-linecap: square"/>
<defs>
<path id="m37ce6bcb33" d="M 0 -2
L -2 2
L 2 2
z
" style="stroke: #ff0000; stroke-linejoin: miter"/>
</defs>
<g clip-path="url(#p0916e740d0)">
<use href="#m37ce6bcb33" x="74.449" y="658.555" style="fill: #ff0000; stroke: #ff0000; stroke-linejoin: miter"/>
<use href="#m37ce6bcb33" x="82.6" y="658.555" style="fill: #ff0000; stroke: #ff0000; stroke-linejoin: miter"/>
<use href="#m37ce6bcb33" x="90.75" y="658.555" style="fill: #ff0000; stroke: #ff0000; stroke-linejoin: miter"/>
<use href="#m37ce6bcb33" x="98.901" y="658.555" style="fill: #ff0000; stroke: #ff0000; stroke-linejoin: miter"/>
<use href="#m37ce6bcb33" x="107.052" y="658.555" style="fill: #ff0000; stroke: #ff0000; stroke-linejoin: miter"/>
<use href="#m37ce6bcb33" x="115.202" y="636.716" style="fill: #ff0000; stroke: #ff0000; stroke-linejoin: miter"/>
<use href="#m37ce6bcb33" x="123.353" y="618.47" style="fill: #ff0000; stroke: #ff0000; stroke-linejoin: miter"/>
<use href="#m37ce6bcb33" x="131.504" y="604.081" style="fill: #ff0000; stroke: #ff0000; stroke-linejoin: miter"/>
<use href="#m37ce6bcb33" x="139.654" y="588.901" style="fill: #ff0000; stroke: #ff0000; stroke-linejoin: miter"/>
<use href="#m37ce6bcb33" x="147.805" y="572.284" style="fill: #ff0000; stroke: #ff0000; stroke-linejoin: miter"/>
<use href="#m37ce6bcb33" x="155.956" y="554.415" style="fill: #ff0000; stroke: #ff0000; stroke-linejoin: miter"/>
<use href="#m37ce6bcb33" x="164.106" y="535.351" style="fill: #ff0000; stroke: #ff0000; stroke-linejoin: miter"/>
<use href="#m37ce6bcb33" x="172.257" y="514.654" style="fill: #ff0000; stroke: #ff0000; stroke-linejoin: miter"/>
<use href="#m37ce6bcb33" x="180.408" y="494.09" style="fill: #ff0000; stroke: #ff0000; stroke-linejoin: miter"/>
<use href="#m37ce6bcb33" x="188.558" y="474.181" style="fill: #ff0000; stroke: #ff0000; stroke-linejoin: miter"/>
<use href="#m37ce6bcb33" x="196.709" y="456.582" style="fill: #ff0000; stroke: #ff0000; stroke-linejoin: miter"/>
<use href="#m37ce6bcb33" x="204.859" y="440.658" style="fill: #ff0000; stroke: #ff0000; stroke-linejoin: miter"/>
<use href="#m37ce6bcb33" x="213.01" y="426.96" style="fill: #ff0000; stroke: #ff0000; stroke-linejoin: miter"/>
<use href="#m37ce6bcb33" x="221.161" y="414.919" style="fill: #ff0000; stroke: #ff0000; stroke-linejoin: miter"/>
<use href="#m37ce6bcb33" x="229.311" y="409.805" style="fill: #ff0000; stroke: #ff0000; stroke-linejoin: miter"/>
<use href="#m37ce6bcb33" x="237.462" y="413.724" style="fill: #ff0000; stroke: #ff0000; stroke-linejoin: miter"/>
<use href="#m37ce6bcb33" x="245.613" y="420.787" style="fill: #ff0000; stroke: #ff0000; stroke-linejoin: miter"/>
<use href="#m37ce6bcb33" x="253.763" y="430.195" style="fill: #ff0000; stroke: #ff0000; stroke-linejoin: miter"/>
<use href="#m37ce6bcb33" x="261.914" y="439.771" style="fill: #ff0000; stroke: #ff0000; stroke-linejoin: miter"/>
<use href="#m37ce6bcb33" x="270.065" y="448.603" style="fill: #ff0000; stroke: #ff0000; stroke-linejoin: miter"/>
<use href="#m37ce6bcb33" x="278.215" y="456.571" style="fill: #ff0000; stroke: #ff0000; stroke-linejoin: miter"/>
<use href="#m37ce6bcb33" x="286.366" y="464.011" style="fill: #ff0000; stroke: #ff0000; stroke-linejoin: miter"/>
<use href="#m37ce6bcb33" x="294.517" y="470.971" style="fill: #ff0000; stroke: #ff0000; stroke-linejoin: miter"/>
<use href="#m37ce6bcb33" x="302.667" y="477.331" style="fill: #ff0000; stroke: #ff0000; stroke-linejoin: miter"/>
<use href="#m37ce6bcb33" x="310.818" y="483.499" style="fill: #ff0000; stroke: #ff0000; stroke-linejoin: miter"/>
<use href="#m37ce6bcb33" x="318.969" y="489.187" style="fill: #ff0000; stroke: #ff0000; stroke-linejoin: miter"/>
<use href="#m37ce6bcb33" x="327.119" y="494.491" style="fill: #ff0000; stroke: #ff0000; stroke-linejoin: miter"/>
<use href="#m37ce6bcb33" x="335.27" y="499.267" style="fill: #ff0000; stroke: #ff0000; stroke-linejoin: miter"/>
<use href="#m37ce6bcb33" x="343.421" y="504.067" style="fill: #ff0000; stroke: #ff0000; stroke-linejoin: miter"/>
<use href="#m37ce6bcb33" x="351.571" y="508.363" style="fill: #ff0000; stroke: #ff0000; stroke-linejoin: miter"/>
<use href="#m37ce6bcb33" x="359.722" y="512.683" style="fill: #ff0000; stroke: #ff0000; stroke-linejoin: miter"/>
<use href="#m37ce6bcb33" x="367.872" y="516.559" style="fill: #ff0000; stroke: #ff0000; stroke-linejoin: miter"/>
<use href="#m37ce6bcb33" x="376.023" y="520.387" style="fill: #ff0000; stroke: #ff0000; stroke-linejoin: miter"/>
<use href="#m37ce6bcb33" x="384.174" y="523.771" style="fill: #ff0000; stroke: #ff0000; stroke-linejoin: miter"/>
<use href="#m37ce6bcb33" x="392.324" y="527.155" style="fill: #ff0000; stroke: #ff0000; stroke-linejoin: miter"/>
<use href="#m37ce6bcb33" x="400.475" y="530.515" style="fill: #ff0000; stroke: #ff0000; stroke-linejoin: miter"/>
<use href="#m37ce6bcb33" x="408.626" y="533.371" style="fill: #ff0000; stroke: #ff0000; stroke-linejoin: miter"/>
<use href="#m37ce6bcb33" x="416.776" y="536.491" style="fill: #ff0000; stroke: #ff0000; stroke-linejoin: miter"/>
<use href="#m37ce6bcb33" x="424.927" y="539.131" style="fill: #ff0000; stroke: #ff0000; stroke-linejoin: miter"/>
<use href="#m37ce6bcb33" x="433.078" y="658.555" style="fill: #ff0000; stroke: #ff0000; stroke-linejoin: miter"/>
<use href="#m37ce6bcb33" x="441.228" y="658.555" style="fill: #ff0000; stroke: #ff0000; stroke-linejoin: miter"/>
<use href="#m37ce6bcb33" x="449.379" y="658.555" style="fill: #ff0000; stroke: #ff0000; stroke-linejoin: miter"/>
<use href="#m37ce6bcb33" x="457.53" y="658.555" style="fill: #ff0000; stroke: #ff0000; stroke-linejoin: miter"/>
<use href="#m37ce6bcb33" x="465.68" y="658.555" style="fill: #ff0000; stroke: #ff0000; stroke-linejoin: miter"/>
<use href="#m37ce6bcb33" x="473.831" y="658.555" style="fill: #ff0000; stroke: #ff0000; stroke-linejoin: miter"/>
</g>
</g>
<g id="line2d_82">
<defs>
<path id="m4320eae301" d="M 0 4
C 1.061 4 2.078 3.579 2.828 2.828
C 3.579 2.078 4 1.061 4 0
C 4 -1.061 3.579 -2.078 2.828 -2.828
C 2.078 -3.579 1.061 -4 0 -4
C -1.061 -4 -2.078 -3.579 -2.828 -2.828
C -3.579 -2.078 -4 -1.061 -4 0
C -4 1.061 -3.579 2.078 -2.828 2.828
C -2.078 3.579 -1.061 4 0 4
z
" style="stroke: #0000ff"/>
</defs>
<g clip-path="url(#p0916e740d0)">
<use href="#m4320eae301" x="229.311" y="409.805" style="fill: #0000ff; stroke: #0000ff"/>
</g>
</g>
<g id="patch_14">
<path d="M 54.48 670.992
L 54.48 397.368
" style="fill: none; stroke: #000000; stroke-width: 0.8; stroke-linejoin: miter; stroke-linecap: square"/>
</g>
<g id="patch_15">
<path d="M 493.8 670.992
L 493.8 397.368
" style="fill: none; stroke: #000000; stroke-width: 0.8; stroke-linejoin: miter; stroke-linecap: square"/>
</g>
<g id="patch_16">
<path d="M 54.48 670.992
L 493.8 670.992
" style="fill: none; stroke: #000000; stroke-width: 0.8; stroke-linejoin: miter; stroke-linecap: square"/>
</g>
<g id="patch_17">
<path d="M 54.48 397.368
L 493.8 397.368
" style="fill: none; stroke: #000000; stroke-width: 0.8; stroke-linejoin: miter; stroke-linecap: square"/>
</g>
<g id="text_48">
<!-- 气动推力曲线 -->
<g transform="translate(232.14 391.656) scale(0.14 -0.14)">
<use href="#NotoSansMonoCJKsc-Regular-6c14"/>
<use href="#NotoSansMonoCJKsc-Regular-52a8" transform="translate(100 0)"/>
<use href="#NotoSansMonoCJKsc-Regular-63a8" transform="translate(200 0)"/>
<use href="#NotoSansMonoCJKsc-Regular-529b" transform="translate(300 0)"/>
<use href="#NotoSansMonoCJKsc-Regular-66f2" transform="translate(400 0)"/>
<use href="#NotoSansMonoCJKsc-Regular-7ebf" transform="translate(500 0)"/>
</g>
</g>
</g>
<g id="axes_4">
<g id="patch_18">
<path d="M 552.12 670.992
L 903.576 670.992
L 903.576 397.368
L 552.12 397.368
z
" style="fill: #ffffff"/>
</g>
<g id="PathCollection_1">
<defs>
<path id="C0_0_3bcc4e380b" d="M 0 3.536
C 0.938 3.536 1.837 3.163 2.5 2.5
C 3.163 1.837 3.536 0.938 3.536 -0
C 3.536 -0.938 3.163 -1.837 2.5 -2.5
C 1.837 -3.163 0.938 -3.536 0 -3.536
C -0.938 -3.536 -1.837 -3.163 -2.5 -2.5
C -3.163 -1.837 -3.536 -0.938 -3.536 0
C -3.536 0.938 -3.163 1.837 -2.5 2.5
C -1.837 3.163 -0.938 3.536 0 3.536
z
"/>
</defs>
<g clip-path="url(#p6ce70e50f3)">
<use href="#C0_0_3bcc4e380b" x="568.095" y="658.555" style="fill: #440154; fill-opacity: 0.7; stroke: #440154; stroke-opacity: 0.7"/>
</g>
<g clip-path="url(#p6ce70e50f3)">
<use href="#C0_0_3bcc4e380b" x="574.616" y="658.555" style="fill: #440154; fill-opacity: 0.7; stroke: #440154; stroke-opacity: 0.7"/>
</g>
<g clip-path="url(#p6ce70e50f3)">
<use href="#C0_0_3bcc4e380b" x="581.136" y="658.555" style="fill: #440154; fill-opacity: 0.7; stroke: #440154; stroke-opacity: 0.7"/>
</g>
<g clip-path="url(#p6ce70e50f3)">
<use href="#C0_0_3bcc4e380b" x="587.657" y="658.555" style="fill: #440154; fill-opacity: 0.7; stroke: #440154; stroke-opacity: 0.7"/>
</g>
<g clip-path="url(#p6ce70e50f3)">
<use href="#C0_0_3bcc4e380b" x="594.177" y="658.555" style="fill: #440154; fill-opacity: 0.7; stroke: #440154; stroke-opacity: 0.7"/>
</g>
<g clip-path="url(#p6ce70e50f3)">
<use href="#C0_0_3bcc4e380b" x="600.698" y="483.641" style="fill: #460a5d; fill-opacity: 0.7; stroke: #460a5d; stroke-opacity: 0.7"/>
</g>
<g clip-path="url(#p6ce70e50f3)">
<use href="#C0_0_3bcc4e380b" x="607.218" y="422.682" style="fill: #481467; fill-opacity: 0.7; stroke: #481467; stroke-opacity: 0.7"/>
</g>
<g clip-path="url(#p6ce70e50f3)">
<use href="#C0_0_3bcc4e380b" x="613.739" y="413.137" style="fill: #481f70; fill-opacity: 0.7; stroke: #481f70; stroke-opacity: 0.7"/>
</g>
<g clip-path="url(#p6ce70e50f3)">
<use href="#C0_0_3bcc4e380b" x="620.259" y="410.609" style="fill: #472a7a; fill-opacity: 0.7; stroke: #472a7a; stroke-opacity: 0.7"/>
</g>
<g clip-path="url(#p6ce70e50f3)">
<use href="#C0_0_3bcc4e380b" x="626.78" y="409.805" style="fill: #443983; fill-opacity: 0.7; stroke: #443983; stroke-opacity: 0.7"/>
</g>
<g clip-path="url(#p6ce70e50f3)">
<use href="#C0_0_3bcc4e380b" x="633.3" y="410.396" style="fill: #3e4989; fill-opacity: 0.7; stroke: #3e4989; stroke-opacity: 0.7"/>
</g>
<g clip-path="url(#p6ce70e50f3)">
<use href="#C0_0_3bcc4e380b" x="639.821" y="411.861" style="fill: #375b8d; fill-opacity: 0.7; stroke: #375b8d; stroke-opacity: 0.7"/>
</g>
<g clip-path="url(#p6ce70e50f3)">
<use href="#C0_0_3bcc4e380b" x="646.342" y="413.042" style="fill: #2e6e8e; fill-opacity: 0.7; stroke: #2e6e8e; stroke-opacity: 0.7"/>
</g>
<g clip-path="url(#p6ce70e50f3)">
<use href="#C0_0_3bcc4e380b" x="652.862" y="416.61" style="fill: #26828e; fill-opacity: 0.7; stroke: #26828e; stroke-opacity: 0.7"/>
</g>
<g clip-path="url(#p6ce70e50f3)">
<use href="#C0_0_3bcc4e380b" x="659.383" y="422.281" style="fill: #1f978b; fill-opacity: 0.7; stroke: #1f978b; stroke-opacity: 0.7"/>
</g>
<g clip-path="url(#p6ce70e50f3)">
<use href="#C0_0_3bcc4e380b" x="665.903" y="431.07" style="fill: #25ac82; fill-opacity: 0.7; stroke: #25ac82; stroke-opacity: 0.7"/>
</g>
<g clip-path="url(#p6ce70e50f3)">
<use href="#C0_0_3bcc4e380b" x="672.424" y="441.159" style="fill: #46c06f; fill-opacity: 0.7; stroke: #46c06f; stroke-opacity: 0.7"/>
</g>
<g clip-path="url(#p6ce70e50f3)">
<use href="#C0_0_3bcc4e380b" x="678.944" y="452.453" style="fill: #77d153; fill-opacity: 0.7; stroke: #77d153; stroke-opacity: 0.7"/>
</g>
<g clip-path="url(#p6ce70e50f3)">
<use href="#C0_0_3bcc4e380b" x="685.465" y="463.959" style="fill: #b2dd2d; fill-opacity: 0.7; stroke: #b2dd2d; stroke-opacity: 0.7"/>
</g>
<g clip-path="url(#p6ce70e50f3)">
<use href="#C0_0_3bcc4e380b" x="691.985" y="479.246" style="fill: #dde318; fill-opacity: 0.7; stroke: #dde318; stroke-opacity: 0.7"/>
</g>
<g clip-path="url(#p6ce70e50f3)">
<use href="#C0_0_3bcc4e380b" x="698.506" y="498.479" style="fill: #f4e61e; fill-opacity: 0.7; stroke: #f4e61e; stroke-opacity: 0.7"/>
</g>
<g clip-path="url(#p6ce70e50f3)">
<use href="#C0_0_3bcc4e380b" x="705.026" y="516.979" style="fill: #fde725; fill-opacity: 0.7; stroke: #fde725; stroke-opacity: 0.7"/>
</g>
<g clip-path="url(#p6ce70e50f3)">
<use href="#C0_0_3bcc4e380b" x="711.547" y="534.298" style="fill: #fde725; fill-opacity: 0.7; stroke: #fde725; stroke-opacity: 0.7"/>
</g>
<g clip-path="url(#p6ce70e50f3)">
<use href="#C0_0_3bcc4e380b" x="718.067" y="549.231" style="fill: #fde725; fill-opacity: 0.7; stroke: #fde725; stroke-opacity: 0.7"/>
</g>
<g clip-path="url(#p6ce70e50f3)">
<use href="#C0_0_3bcc4e380b" x="724.588" y="561.848" style="fill: #fde725; fill-opacity: 0.7; stroke: #fde725; stroke-opacity: 0.7"/>
</g>
<g clip-path="url(#p6ce70e50f3)">
<use href="#C0_0_3bcc4e380b" x="731.108" y="572.527" style="fill: #fde725; fill-opacity: 0.7; stroke: #fde725; stroke-opacity: 0.7"/>
</g>
<g clip-path="url(#p6ce70e50f3)">
<use href="#C0_0_3bcc4e380b" x="737.629" y="581.836" style="fill: #fde725; fill-opacity: 0.7; stroke: #fde725; stroke-opacity: 0.7"/>
</g>
<g clip-path="url(#p6ce70e50f3)">
<use href="#C0_0_3bcc4e380b" x="744.149" y="589.775" style="fill: #fde725; fill-opacity: 0.7; stroke: #fde725; stroke-opacity: 0.7"/>
</g>
<g clip-path="url(#p6ce70e50f3)">
<use href="#C0_0_3bcc4e380b" x="750.67" y="596.745" style="fill: #fde725; fill-opacity: 0.7; stroke: #fde725; stroke-opacity: 0.7"/>
</g>
<g clip-path="url(#p6ce70e50f3)">
<use href="#C0_0_3bcc4e380b" x="757.19" y="602.699" style="fill: #fde725; fill-opacity: 0.7; stroke: #fde725; stroke-opacity: 0.7"/>
</g>
<g clip-path="url(#p6ce70e50f3)">
<use href="#C0_0_3bcc4e380b" x="763.711" y="607.779" style="fill: #fde725; fill-opacity: 0.7; stroke: #fde725; stroke-opacity: 0.7"/>
</g>
<g clip-path="url(#p6ce70e50f3)">
<use href="#C0_0_3bcc4e380b" x="770.231" y="612.552" style="fill: #fde725; fill-opacity: 0.7; stroke: #fde725; stroke-opacity: 0.7"/>
</g>
<g clip-path="url(#p6ce70e50f3)">
<use href="#C0_0_3bcc4e380b" x="776.752" y="616.592" style="fill: #fde725; fill-opacity: 0.7; stroke: #fde725; stroke-opacity: 0.7"/>
</g>
<g clip-path="url(#p6ce70e50f3)">
<use href="#C0_0_3bcc4e380b" x="783.272" y="620.184" style="fill: #fde725; fill-opacity: 0.7; stroke: #fde725; stroke-opacity: 0.7"/>
</g>
<g clip-path="url(#p6ce70e50f3)">
<use href="#C0_0_3bcc4e380b" x="789.793" y="623.255" style="fill: #fde725; fill-opacity: 0.7; stroke: #fde725; stroke-opacity: 0.7"/>
</g>
<g clip-path="url(#p6ce70e50f3)">
<use href="#C0_0_3bcc4e380b" x="796.313" y="626.185" style="fill: #fde725; fill-opacity: 0.7; stroke: #fde725; stroke-opacity: 0.7"/>
</g>
<g clip-path="url(#p6ce70e50f3)">
<use href="#C0_0_3bcc4e380b" x="802.834" y="628.831" style="fill: #fde725; fill-opacity: 0.7; stroke: #fde725; stroke-opacity: 0.7"/>
</g>
<g clip-path="url(#p6ce70e50f3)">
<use href="#C0_0_3bcc4e380b" x="809.354" y="631.029" style="fill: #fde725; fill-opacity: 0.7; stroke: #fde725; stroke-opacity: 0.7"/>
</g>
<g clip-path="url(#p6ce70e50f3)">
<use href="#C0_0_3bcc4e380b" x="815.875" y="633.273" style="fill: #fde725; fill-opacity: 0.7; stroke: #fde725; stroke-opacity: 0.7"/>
</g>
<g clip-path="url(#p6ce70e50f3)">
<use href="#C0_0_3bcc4e380b" x="822.396" y="635.14" style="fill: #fde725; fill-opacity: 0.7; stroke: #fde725; stroke-opacity: 0.7"/>
</g>
<g clip-path="url(#p6ce70e50f3)">
<use href="#C0_0_3bcc4e380b" x="828.916" y="636.817" style="fill: #fde725; fill-opacity: 0.7; stroke: #fde725; stroke-opacity: 0.7"/>
</g>
<g clip-path="url(#p6ce70e50f3)">
<use href="#C0_0_3bcc4e380b" x="835.437" y="638.211" style="fill: #fde725; fill-opacity: 0.7; stroke: #fde725; stroke-opacity: 0.7"/>
</g>
<g clip-path="url(#p6ce70e50f3)">
<use href="#C0_0_3bcc4e380b" x="841.957" y="639.676" style="fill: #fde725; fill-opacity: 0.7; stroke: #fde725; stroke-opacity: 0.7"/>
</g>
<g clip-path="url(#p6ce70e50f3)">
<use href="#C0_0_3bcc4e380b" x="848.478" y="640.858" style="fill: #fde725; fill-opacity: 0.7; stroke: #fde725; stroke-opacity: 0.7"/>
</g>
<g clip-path="url(#p6ce70e50f3)">
<use href="#C0_0_3bcc4e380b" x="854.998" y="658.555" style="fill: #440154; fill-opacity: 0.7; stroke: #440154; stroke-opacity: 0.7"/>
</g>
<g clip-path="url(#p6ce70e50f3)">
<use href="#C0_0_3bcc4e380b" x="861.519" y="658.555" style="fill: #440154; fill-opacity: 0.7; stroke: #440154; stroke-opacity: 0.7"/>
</g>
<g clip-path="url(#p6ce70e50f3)">
<use href="#C0_0_3bcc4e380b" x="868.039" y="658.555" style="fill: #440154; fill-opacity: 0.7; stroke: #440154; stroke-opacity: 0.7"/>
</g>
<g clip-path="url(#p6ce70e50f3)">
<use href="#C0_0_3bcc4e380b" x="874.56" y="658.555" style="fill: #440154; fill-opacity: 0.7; stroke: #440154; stroke-opacity: 0.7"/>
</g>
<g clip-path="url(#p6ce70e50f3)">
<use href="#C0_0_3bcc4e380b" x="881.08" y="658.555" style="fill: #440154; fill-opacity: 0.7; stroke: #440154; stroke-opacity: 0.7"/>
</g>
<g clip-path="url(#p6ce70e50f3)">
<use href="#C0_0_3bcc4e380b" x="887.601" y="658.555" style="fill: #440154; fill-opacity: 0.7; stroke: #440154; stroke-opacity: 0.7"/>
</g>
</g>
<g id="matplotlib.axis_7">
<g id="xtick_19">
<g id="line2d_83">
<path d="M 561.575 670.992
L 561.575 397.368
" clip-path="url(#p6ce70e50f3)" style="fill: none; stroke: #b0b0b0; stroke-opacity: 0.3; stroke-width: 0.8; stroke-linecap: square"/>
</g>
<g id="line2d_84">
<g>
<use href="#m1504cfccaf" x="561.575" y="670.992" style="stroke: #000000; stroke-width: 0.8"/>
</g>
</g>
<g id="text_49">
<!-- 0 -->
<g transform="translate(559.075 685.312) scale(0.1 -0.1)">
<use href="#NotoSansMonoCJKsc-Regular-30"/>
</g>
</g>
</g>
<g id="xtick_20">
<g id="line2d_85">
<path d="M 626.78 670.992
L 626.78 397.368
" clip-path="url(#p6ce70e50f3)" style="fill: none; stroke: #b0b0b0; stroke-opacity: 0.3; stroke-width: 0.8; stroke-linecap: square"/>
</g>
<g id="line2d_86">
<g>
<use href="#m1504cfccaf" x="626.78" y="670.992" style="stroke: #000000; stroke-width: 0.8"/>
</g>
</g>
<g id="text_50">
<!-- 5 -->
<g transform="translate(624.28 685.312) scale(0.1 -0.1)">
<use href="#NotoSansMonoCJKsc-Regular-35"/>
</g>
</g>
</g>
<g id="xtick_21">
<g id="line2d_87">
<path d="M 691.985 670.992
L 691.985 397.368
" clip-path="url(#p6ce70e50f3)" style="fill: none; stroke: #b0b0b0; stroke-opacity: 0.3; stroke-width: 0.8; stroke-linecap: square"/>
</g>
<g id="line2d_88">
<g>
<use href="#m1504cfccaf" x="691.985" y="670.992" style="stroke: #000000; stroke-width: 0.8"/>
</g>
</g>
<g id="text_51">
<!-- 10 -->
<g transform="translate(686.985 685.312) scale(0.1 -0.1)">
<use href="#NotoSansMonoCJKsc-Regular-31"/>
<use href="#NotoSansMonoCJKsc-Regular-30" transform="translate(50 0)"/>
</g>
</g>
</g>
<g id="xtick_22">
<g id="line2d_89">
<path d="M 757.19 670.992
L 757.19 397.368
" clip-path="url(#p6ce70e50f3)" style="fill: none; stroke: #b0b0b0; stroke-opacity: 0.3; stroke-width: 0.8; stroke-linecap: square"/>
</g>
<g id="line2d_90">
<g>
<use href="#m1504cfccaf" x="757.19" y="670.992" style="stroke: #000000; stroke-width: 0.8"/>
</g>
</g>
<g id="text_52">
<!-- 15 -->
<g transform="translate(752.19 685.312) scale(0.1 -0.1)">
<use href="#NotoSansMonoCJKsc-Regular-31"/>
<use href="#NotoSansMonoCJKsc-Regular-35" transform="translate(50 0)"/>
</g>
</g>
</g>
<g id="xtick_23">
<g id="line2d_91">
<path d="M 822.396 670.992
L 822.396 397.368
" clip-path="url(#p6ce70e50f3)" style="fill: none; stroke: #b0b0b0; stroke-opacity: 0.3; stroke-width: 0.8; stroke-linecap: square"/>
</g>
<g id="line2d_92">
<g>
<use href="#m1504cfccaf" x="822.396" y="670.992" style="stroke: #000000; stroke-width: 0.8"/>
</g>
</g>
<g id="text_53">
<!-- 20 -->
<g transform="translate(817.396 685.312) scale(0.1 -0.1)">
<use href="#NotoSansMonoCJKsc-Regular-32"/>
<use href="#NotoSansMonoCJKsc-Regular-30" transform="translate(50 0)"/>
</g>
</g>
</g>
<g id="xtick_24">
<g id="line2d_93">
<path d="M 887.601 670.992
L 887.601 397.368
" clip-path="url(#p6ce70e50f3)" style="fill: none; stroke: #b0b0b0; stroke-opacity: 0.3; stroke-width: 0.8; stroke-linecap: square"/>
</g>
<g id="line2d_94">
<g>
<use href="#m1504cfccaf" x="887.601" y="670.992" style="stroke: #000000; stroke-width: 0.8"/>
</g>
</g>
<g id="text_54">
<!-- 25 -->
<g transform="translate(882.601 685.312) scale(0.1 -0.1)">
<use href="#NotoSansMonoCJKsc-Regular-32"/>
<use href="#NotoSansMonoCJKsc-Regular-35" transform="translate(50 0)"/>
</g>
</g>
</g>
<g id="text_55">
<!-- 风速 (m/s) -->
<g transform="translate(697.848 700.518) scale(0.12 -0.12)">
<use href="#NotoSansMonoCJKsc-Regular-98ce"/>
<use href="#NotoSansMonoCJKsc-Regular-901f" transform="translate(100 0)"/>
<use href="#NotoSansMonoCJKsc-Regular-20" transform="translate(200 0)"/>
<use href="#NotoSansMonoCJKsc-Regular-28" transform="translate(250 0)"/>
<use href="#NotoSansMonoCJKsc-Regular-6d" transform="translate(300 0)"/>
<use href="#NotoSansMonoCJKsc-Regular-2f" transform="translate(350 0)"/>
<use href="#NotoSansMonoCJKsc-Regular-73" transform="translate(400 0)"/>
<use href="#NotoSansMonoCJKsc-Regular-29" transform="translate(450 0)"/>
</g>
</g>
</g>
<g id="matplotlib.axis_8">
<g id="ytick_21">
<g id="line2d_95">
<path d="M 552.12 658.555
L 903.576 658.555
" clip-path="url(#p6ce70e50f3)" style="fill: none; stroke: #b0b0b0; stroke-opacity: 0.3; stroke-width: 0.8; stroke-linecap: square"/>
</g>
<g id="line2d_96">
<g>
<use href="#m5d545ce8f8" x="552.12" y="658.555" style="stroke: #000000; stroke-width: 0.8"/>
</g>
</g>
<g id="text_56">
<!-- 0 -->
<g transform="translate(540.12 662.394) scale(0.1 -0.1)">
<use href="#NotoSansMonoCJKsc-Regular-30"/>
</g>
</g>
</g>
<g id="ytick_22">
<g id="line2d_97">
<path d="M 552.12 611.3
L 903.576 611.3
" clip-path="url(#p6ce70e50f3)" style="fill: none; stroke: #b0b0b0; stroke-opacity: 0.3; stroke-width: 0.8; stroke-linecap: square"/>
</g>
<g id="line2d_98">
<g>
<use href="#m5d545ce8f8" x="552.12" y="611.3" style="stroke: #000000; stroke-width: 0.8"/>
</g>
</g>
<g id="text_57">
<!-- 2000 -->
<g transform="translate(525.12 615.14) scale(0.1 -0.1)">
<use href="#NotoSansMonoCJKsc-Regular-32"/>
<use href="#NotoSansMonoCJKsc-Regular-30" transform="translate(50 0)"/>
<use href="#NotoSansMonoCJKsc-Regular-30" transform="translate(100 0)"/>
<use href="#NotoSansMonoCJKsc-Regular-30" transform="translate(150 0)"/>
</g>
</g>
</g>
<g id="ytick_23">
<g id="line2d_99">
<path d="M 552.12 564.045
L 903.576 564.045
" clip-path="url(#p6ce70e50f3)" style="fill: none; stroke: #b0b0b0; stroke-opacity: 0.3; stroke-width: 0.8; stroke-linecap: square"/>
</g>
<g id="line2d_100">
<g>
<use href="#m5d545ce8f8" x="552.12" y="564.045" style="stroke: #000000; stroke-width: 0.8"/>
</g>
</g>
<g id="text_58">
<!-- 4000 -->
<g transform="translate(525.12 567.885) scale(0.1 -0.1)">
<use href="#NotoSansMonoCJKsc-Regular-34"/>
<use href="#NotoSansMonoCJKsc-Regular-30" transform="translate(50 0)"/>
<use href="#NotoSansMonoCJKsc-Regular-30" transform="translate(100 0)"/>
<use href="#NotoSansMonoCJKsc-Regular-30" transform="translate(150 0)"/>
</g>
</g>
</g>
<g id="ytick_24">
<g id="line2d_101">
<path d="M 552.12 516.79
L 903.576 516.79
" clip-path="url(#p6ce70e50f3)" style="fill: none; stroke: #b0b0b0; stroke-opacity: 0.3; stroke-width: 0.8; stroke-linecap: square"/>
</g>
<g id="line2d_102">
<g>
<use href="#m5d545ce8f8" x="552.12" y="516.79" style="stroke: #000000; stroke-width: 0.8"/>
</g>
</g>
<g id="text_59">
<!-- 6000 -->
<g transform="translate(525.12 520.63) scale(0.1 -0.1)">
<use href="#NotoSansMonoCJKsc-Regular-36"/>
<use href="#NotoSansMonoCJKsc-Regular-30" transform="translate(50 0)"/>
<use href="#NotoSansMonoCJKsc-Regular-30" transform="translate(100 0)"/>
<use href="#NotoSansMonoCJKsc-Regular-30" transform="translate(150 0)"/>
</g>
</g>
</g>
<g id="ytick_25">
<g id="line2d_103">
<path d="M 552.12 469.535
L 903.576 469.535
" clip-path="url(#p6ce70e50f3)" style="fill: none; stroke: #b0b0b0; stroke-opacity: 0.3; stroke-width: 0.8; stroke-linecap: square"/>
</g>
<g id="line2d_104">
<g>
<use href="#m5d545ce8f8" x="552.12" y="469.535" style="stroke: #000000; stroke-width: 0.8"/>
</g>
</g>
<g id="text_60">
<!-- 8000 -->
<g transform="translate(525.12 473.375) scale(0.1 -0.1)">
<use href="#NotoSansMonoCJKsc-Regular-38"/>
<use href="#NotoSansMonoCJKsc-Regular-30" transform="translate(50 0)"/>
<use href="#NotoSansMonoCJKsc-Regular-30" transform="translate(100 0)"/>
<use href="#NotoSansMonoCJKsc-Regular-30" transform="translate(150 0)"/>
</g>
</g>
</g>
<g id="ytick_26">
<g id="line2d_105">
<path d="M 552.12 422.281
L 903.576 422.281
" clip-path="url(#p6ce70e50f3)" style="fill: none; stroke: #b0b0b0; stroke-opacity: 0.3; stroke-width: 0.8; stroke-linecap: square"/>
</g>
<g id="line2d_106">
<g>
<use href="#m5d545ce8f8" x="552.12" y="422.281" style="stroke: #000000; stroke-width: 0.8"/>
</g>
</g>
<g id="text_61">
<!-- 10000 -->
<g transform="translate(520.12 426.121) scale(0.1 -0.1)">
<use href="#NotoSansMonoCJKsc-Regular-31"/>
<use href="#NotoSansMonoCJKsc-Regular-30" transform="translate(50 0)"/>
<use href="#NotoSansMonoCJKsc-Regular-30" transform="translate(100 0)"/>
<use href="#NotoSansMonoCJKsc-Regular-30" transform="translate(150 0)"/>
<use href="#NotoSansMonoCJKsc-Regular-30" transform="translate(200 0)"/>
</g>
</g>
</g>
<g id="text_62">
<!-- 气动推力系数 Ct -->
<g transform="translate(514.693 579.66) rotate(-90) scale(0.12 -0.12)">
<use href="#NotoSansMonoCJKsc-Regular-6c14"/>
<use href="#NotoSansMonoCJKsc-Regular-52a8" transform="translate(100 0)"/>
<use href="#NotoSansMonoCJKsc-Regular-63a8" transform="translate(200 0)"/>
<use href="#NotoSansMonoCJKsc-Regular-529b" transform="translate(300 0)"/>
<use href="#NotoSansMonoCJKsc-Regular-7cfb" transform="translate(400 0)"/>
<use href="#NotoSansMonoCJKsc-Regular-6570" transform="translate(500 0)"/>
<use href="#NotoSansMonoCJKsc-Regular-20" transform="translate(600 0)"/>
<use href="#NotoSansMonoCJKsc-Regular-43" transform="translate(650 0)"/>
<use href="#NotoSansMonoCJKsc-Regular-74" transform="translate(700 0)"/>
</g>
</g>
</g>
<g id="patch_19">
<path d="M 552.12 670.992
L 552.12 397.368
" style="fill: none; stroke: #000000; stroke-width: 0.8; stroke-linejoin: miter; stroke-linecap: square"/>
</g>
<g id="patch_20">
<path d="M 903.576 670.992
L 903.576 397.368
" style="fill: none; stroke: #000000; stroke-width: 0.8; stroke-linejoin: miter; stroke-linecap: square"/>
</g>
<g id="patch_21">
<path d="M 552.12 670.992
L 903.576 670.992
" style="fill: none; stroke: #000000; stroke-width: 0.8; stroke-linejoin: miter; stroke-linecap: square"/>
</g>
<g id="patch_22">
<path d="M 552.12 397.368
L 903.576 397.368
" style="fill: none; stroke: #000000; stroke-width: 0.8; stroke-linejoin: miter; stroke-linecap: square"/>
</g>
<g id="text_63">
<!-- 推力系数与风速关系（颜色表示功率） -->
<g transform="translate(608.848 391.656) scale(0.14 -0.14)">
<defs>
<path id="NotoSansMonoCJKsc-Regular-4e0e" d="M 365 1523
L 365 1062
L 4358 1062
L 4358 1523
L 365 1523
z
M 1670 5235
C 1510 4352 1248 3142 1050 2432
L 1453 2426
L 1555 2426
L 5165 2426
C 5018 960 4851 288 4614 96
C 4531 26 4442 19 4282 19
C 4096 19 3597 26 3098 70
C 3194 -64 3264 -262 3277 -410
C 3731 -435 4192 -448 4422 -435
C 4698 -416 4864 -378 5030 -211
C 5325 70 5498 813 5683 2643
C 5696 2714 5702 2880 5702 2880
L 1670 2880
C 1747 3226 1837 3629 1920 4032
L 5606 4032
L 5606 4493
L 2016 4493
L 2150 5184
L 1670 5235
z
" transform="scale(0.016) translate(0 -140.8)"/>
<path id="NotoSansMonoCJKsc-Regular-5173" d="M 1434 5114
C 1696 4774 1965 4320 2074 4013
L 826 4013
L 826 3533
L 2950 3533
L 2950 2752
C 2950 2637 2944 2515 2938 2394
L 435 2394
L 435 1920
L 2842 1920
C 2637 1229 2029 493 307 -83
C 435 -192 595 -397 653 -506
C 2304 70 3008 813 3296 1555
C 3834 563 4666 -134 5805 -474
C 5882 -326 6029 -115 6144 -6
C 4973 282 4096 973 3616 1920
L 5984 1920
L 5984 2394
L 3482 2394
L 3494 2746
L 3494 3533
L 5638 3533
L 5638 4013
L 4371 4013
C 4602 4358 4858 4794 5069 5178
L 4550 5350
C 4390 4954 4096 4397 3840 4013
L 2086 4013
L 2509 4243
C 2387 4544 2112 4992 1837 5318
L 1434 5114
z
" transform="scale(0.016) translate(0 -140.8)"/>
<path id="NotoSansMonoCJKsc-Regular-ff08" d="M 4448 2432
C 4448 1184 4954 166 5722 -614
L 6106 -416
C 5370 346 4915 1293 4915 2432
C 4915 3571 5370 4518 6106 5280
L 5722 5478
C 4954 4698 4448 3680 4448 2432
z
" transform="scale(0.016) translate(0 -140.8)"/>
<path id="NotoSansMonoCJKsc-Regular-989c" d="M 4467 3238
C 4454 941 4378 218 2765 -192
C 2842 -275 2950 -429 2989 -525
C 4704 -58 4832 806 4845 3238
L 4467 3238
z
M 2560 2938
C 2208 2624 1555 2330 1011 2163
C 1120 2080 1242 1946 1312 1850
C 1888 2048 2547 2381 2957 2771
L 2560 2938
z
M 2758 1184
C 2374 666 1613 224 845 -6
C 947 -96 1069 -243 1139 -352
C 1958 -77 2733 403 3181 998
L 2758 1184
z
M 4736 493
C 5152 205 5645 -224 5875 -512
L 6150 -218
C 5914 70 5408 480 5005 755
L 4736 493
z
M 3430 3898
L 3430 877
L 3814 877
L 3814 3533
L 5446 3533
L 5446 890
L 5850 890
L 5850 3898
L 4640 3898
C 4723 4102 4819 4352 4902 4595
L 6061 4595
L 6061 4979
L 3290 4979
L 3290 4595
L 4499 4595
C 4435 4371 4339 4102 4250 3898
L 3430 3898
z
M 1466 5274
C 1549 5114 1626 4909 1683 4736
L 435 4736
L 435 4333
L 3174 4333
L 3174 4736
L 2138 4736
C 2080 4928 1971 5190 1862 5389
L 1466 5274
z
M 2656 2086
C 2278 1683 1574 1312 960 1101
C 992 1440 998 1773 998 2054
L 998 3021
L 3155 3021
L 3155 3424
L 2509 3424
C 2637 3642 2778 3923 2899 4179
L 2496 4282
C 2400 4032 2234 3674 2086 3424
L 1248 3424
L 1587 3546
C 1536 3750 1389 4070 1242 4294
L 864 4173
C 1005 3942 1139 3635 1190 3424
L 570 3424
L 570 2061
C 570 1376 538 416 205 -288
C 314 -326 506 -442 589 -518
C 800 -58 909 525 960 1082
C 1062 992 1171 858 1235 755
C 1894 1011 2605 1434 3040 1920
L 2656 2086
z
" transform="scale(0.016) translate(0 -140.8)"/>
<path id="NotoSansMonoCJKsc-Regular-8272" d="M 3034 3149
L 3034 2042
L 1555 2042
L 1555 3149
L 3034 3149
z
M 3501 3149
L 5030 3149
L 5030 2042
L 3501 2042
L 3501 3149
z
M 3827 4384
C 3642 4115 3398 3821 3162 3603
L 1466 3603
C 1715 3846 1946 4109 2157 4384
L 3827 4384
z
M 2266 5395
C 1818 4531 1037 3757 250 3270
C 339 3168 474 2925 518 2822
C 710 2950 902 3098 1088 3258
L 1088 518
C 1088 -230 1402 -403 2419 -403
C 2650 -403 4640 -403 4896 -403
C 5850 -403 6048 -115 6163 883
C 6022 909 5824 986 5696 1062
C 5626 218 5523 38 4890 38
C 4454 38 2726 38 2387 38
C 1683 38 1555 128 1555 512
L 1555 1581
L 5030 1581
L 5030 1293
L 5510 1293
L 5510 3603
L 3744 3603
C 4045 3910 4339 4282 4557 4621
L 4243 4845
L 4147 4813
L 2451 4813
C 2541 4954 2624 5094 2701 5235
L 2266 5395
z
" transform="scale(0.016) translate(0 -140.8)"/>
<path id="NotoSansMonoCJKsc-Regular-8868" d="M 1613 -506
C 1760 -410 1997 -326 3782 243
C 3757 346 3718 531 3706 666
L 2144 198
L 2144 1606
C 2528 1869 2874 2157 3149 2464
C 3648 1120 4544 147 5869 -294
C 5939 -166 6080 19 6189 122
C 5555 307 5011 621 4570 1037
C 4973 1286 5440 1619 5811 1933
L 5414 2214
C 5133 1939 4685 1594 4301 1325
C 4019 1658 3789 2042 3622 2464
L 5978 2464
L 5978 2880
L 3430 2880
L 3430 3450
L 5491 3450
L 5491 3846
L 3430 3846
L 3430 4390
L 5773 4390
L 5773 4806
L 3430 4806
L 3430 5376
L 2944 5376
L 2944 4806
L 672 4806
L 672 4390
L 2944 4390
L 2944 3846
L 998 3846
L 998 3450
L 2944 3450
L 2944 2880
L 416 2880
L 416 2464
L 2541 2464
C 1933 1920 1024 1427 230 1171
C 333 1075 474 896 550 781
C 909 909 1286 1088 1651 1299
L 1651 352
C 1651 96 1510 -13 1402 -70
C 1478 -173 1581 -390 1613 -506
z
" transform="scale(0.016) translate(0 -140.8)"/>
<path id="NotoSansMonoCJKsc-Regular-793a" d="M 1498 2246
C 1222 1523 749 813 224 358
C 346 294 563 154 666 70
C 1171 563 1677 1325 1990 2112
L 1498 2246
z
M 4378 2048
C 4838 1434 5325 602 5498 64
L 5978 282
C 5786 826 5286 1632 4819 2234
L 4378 2048
z
M 954 4902
L 954 4429
L 5459 4429
L 5459 4902
L 954 4902
z
M 384 3347
L 384 2874
L 2950 2874
L 2950 122
C 2950 19 2912 -6 2797 -13
C 2675 -19 2253 -19 1818 0
C 1894 -147 1971 -358 1990 -506
C 2560 -506 2938 -499 3162 -422
C 3392 -339 3469 -198 3469 115
L 3469 2874
L 6022 2874
L 6022 3347
L 384 3347
z
" transform="scale(0.016) translate(0 -140.8)"/>
<path id="NotoSansMonoCJKsc-Regular-ff09" d="M 1952 2432
C 1952 3680 1446 4698 678 5478
L 294 5280
C 1030 4518 1485 3571 1485 2432
C 1485 1293 1030 346 294 -416
L 678 -614
C 1446 166 1952 1184 1952 2432
z
" transform="scale(0.016) translate(0 -140.8)"/>
</defs>
<use href="#NotoSansMonoCJKsc-Regular-63a8"/>
<use href="#NotoSansMonoCJKsc-Regular-529b" transform="translate(100 0)"/>
<use href="#NotoSansMonoCJKsc-Regular-7cfb" transform="translate(200 0)"/>
<use href="#NotoSansMonoCJKsc-Regular-6570" transform="translate(300 0)"/>
<use href="#NotoSansMonoCJKsc-Regular-4e0e" transform="translate(400 0)"/>
<use href="#NotoSansMonoCJKsc-Regular-98ce" transform="translate(500 0)"/>
<use href="#NotoSansMonoCJKsc-Regular-901f" transform="translate(600 0)"/>
<use href="#NotoSansMonoCJKsc-Regular-5173" transform="translate(700 0)"/>
<use href="#NotoSansMonoCJKsc-Regular-7cfb" transform="translate(800 0)"/>
<use href="#NotoSansMonoCJKsc-Regular-ff08" transform="translate(900 0)"/>
<use href="#NotoSansMonoCJKsc-Regular-989c" transform="translate(1000 0)"/>
<use href="#NotoSansMonoCJKsc-Regular-8272" transform="translate(1100 0)"/>
<use href="#NotoSansMonoCJKsc-Regular-8868" transform="translate(1200 0)"/>
<use href="#NotoSansMonoCJKsc-Regular-793a" transform="translate(1300 0)"/>
<use href="#NotoSansMonoCJKsc-Regular-529f" transform="translate(1400 0)"/>
<use href="#NotoSansMonoCJKsc-Regular-7387" transform="translate(1500 0)"/>
<use href="#NotoSansMonoCJKsc-Regular-ff09" transform="translate(1600 0)"/>
</g>
</g>
</g>
<g id="axes_5">
<g id="patch_23">
<path d="M 925.542 670.992
L 939.223 670.992
L 939.223 397.368
L 925.542 397.368
z
" style="fill: #ffffff"/>
</g>
<defs><linearGradient id="cbgrad" x1="0" y1="1" x2="0" y2="0"><stop offset="0" stop-color="#440154" stop-opacity="0.7"/><stop offset="0.016" stop-color="#46075a" stop-opacity="0.7"/><stop offset="0.032" stop-color="#470d60" stop-opacity="0.7"/><stop offset="0.048" stop-color="#471365" stop-opacity="0.7"/><stop offset="0.064" stop-color="#48186a" stop-opacity="0.7"/><stop offset="0.079" stop-color="#481d6f" stop-opacity="0.7"/><stop offset="0.095" stop-color="#482374" stop-opacity="0.7"/><stop offset="0.111" stop-color="#482878" stop-opacity="0.7"/><stop offset="0.127" stop-color="#472d7b" stop-opacity="0.7"/><stop offset="0.143" stop-color="#46327e" stop-opacity="0.7"/><stop offset="0.159" stop-color="#453781" stop-opacity="0.7"/><stop offset="0.175" stop-color="#443b84" stop-opacity="0.7"/><stop offset="0.191" stop-color="#424086" stop-opacity="0.7"/><stop offset="0.206" stop-color="#404588" stop-opacity="0.7"/><stop offset="0.222" stop-color="#3e4989" stop-opacity="0.7"/><stop offset="0.238" stop-color="#3d4e8a" stop-opacity="0.7"/><stop offset="0.254" stop-color="#3a538b" stop-opacity="0.7"/><stop offset="0.27" stop-color="#38588c" stop-opacity="0.7"/><stop offset="0.286" stop-color="#365c8d" stop-opacity="0.7"/><stop offset="0.302" stop-color="#34608d" stop-opacity="0.7"/><stop offset="0.318" stop-color="#32648e" stop-opacity="0.7"/><stop offset="0.333" stop-color="#31688e" stop-opacity="0.7"/><stop offset="0.349" stop-color="#2f6c8e" stop-opacity="0.7"/><stop offset="0.365" stop-color="#2d708e" stop-opacity="0.7"/><stop offset="0.381" stop-color="#2c738e" stop-opacity="0.7"/><stop offset="0.397" stop-color="#2a778e" stop-opacity="0.7"/><stop offset="0.413" stop-color="#297b8e" stop-opacity="0.7"/><stop offset="0.429" stop-color="#277f8e" stop-opacity="0.7"/><stop offset="0.444" stop-color="#26828e" stop-opacity="0.7"/><stop offset="0.46" stop-color="#24868e" stop-opacity="0.7"/><stop offset="0.476" stop-color="#238a8d" stop-opacity="0.7"/><stop offset="0.492" stop-color="#218e8d" stop-opacity="0.7"/><stop offset="0.508" stop-color="#20928c" stop-opacity="0.7"/><stop offset="0.524" stop-color="#1f968b" stop-opacity="0.7"/><stop offset="0.54" stop-color="#1f9a8a" stop-opacity="0.7"/><stop offset="0.556" stop-color="#1f9e89" stop-opacity="0.7"/><stop offset="0.571" stop-color="#1fa187" stop-opacity="0.7"/><stop offset="0.587" stop-color="#21a585" stop-opacity="0.7"/><stop offset="0.603" stop-color="#23a983" stop-opacity="0.7"/><stop offset="0.619" stop-color="#26ad81" stop-opacity="0.7"/><stop offset="0.635" stop-color="#2ab07f" stop-opacity="0.7"/><stop offset="0.651" stop-color="#2fb47c" stop-opacity="0.7"/><stop offset="0.667" stop-color="#35b779" stop-opacity="0.7"/><stop offset="0.682" stop-color="#3bbb75" stop-opacity="0.7"/><stop offset="0.698" stop-color="#42be71" stop-opacity="0.7"/><stop offset="0.714" stop-color="#4ac16d" stop-opacity="0.7"/><stop offset="0.73" stop-color="#52c569" stop-opacity="0.7"/><stop offset="0.746" stop-color="#5ac864" stop-opacity="0.7"/><stop offset="0.762" stop-color="#65cb5e" stop-opacity="0.7"/><stop offset="0.778" stop-color="#6ece58" stop-opacity="0.7"/><stop offset="0.794" stop-color="#77d153" stop-opacity="0.7"/><stop offset="0.809" stop-color="#81d34d" stop-opacity="0.7"/><stop offset="0.825" stop-color="#8bd646" stop-opacity="0.7"/><stop offset="0.841" stop-color="#95d840" stop-opacity="0.7"/><stop offset="0.857" stop-color="#a0da39" stop-opacity="0.7"/><stop offset="0.873" stop-color="#aadc32" stop-opacity="0.7"/><stop offset="0.889" stop-color="#b5de2b" stop-opacity="0.7"/><stop offset="0.905" stop-color="#c0df25" stop-opacity="0.7"/><stop offset="0.921" stop-color="#cae11f" stop-opacity="0.7"/><stop offset="0.936" stop-color="#d5e21a" stop-opacity="0.7"/><stop offset="0.952" stop-color="#dfe318" stop-opacity="0.7"/><stop offset="0.968" stop-color="#eae51a" stop-opacity="0.7"/><stop offset="0.984" stop-color="#f4e61e" stop-opacity="0.7"/><stop offset="1" stop-color="#fde725" stop-opacity="0.7"/></linearGradient></defs><rect x="925.440" y="397.440" width="13.680" height="273.600" fill="url(#cbgrad)"/>
<g id="matplotlib.axis_9"/>
<g id="matplotlib.axis_10">
<g id="ytick_27">
<g id="line2d_107">
<defs>
<path id="m33c4ce201d" d="M 0 0
L 3.5 0
" style="stroke: #000000; stroke-width: 0.8"/>
</defs>
<g>
<use href="#m33c4ce201d" x="939.223" y="670.992" style="stroke: #000000; stroke-width: 0.8"/>
</g>
</g>
<g id="text_64">
<!-- 0 -->
<g transform="translate(946.223 674.832) scale(0.1 -0.1)">
<use href="#NotoSansMonoCJKsc-Regular-30"/>
</g>
</g>
</g>
<g id="ytick_28">
<g id="line2d_108">
<g>
<use href="#m33c4ce201d" x="939.223" y="636.789" style="stroke: #000000; stroke-width: 0.8"/>
</g>
</g>
<g id="text_65">
<!-- 250 -->
<g transform="translate(946.223 640.629) scale(0.1 -0.1)">
<use href="#NotoSansMonoCJKsc-Regular-32"/>
<use href="#NotoSansMonoCJKsc-Regular-35" transform="translate(50 0)"/>
<use href="#NotoSansMonoCJKsc-Regular-30" transform="translate(100 0)"/>
</g>
</g>
</g>
<g id="ytick_29">
<g id="line2d_109">
<g>
<use href="#m33c4ce201d" x="939.223" y="602.586" style="stroke: #000000; stroke-width: 0.8"/>
</g>
</g>
<g id="text_66">
<!-- 500 -->
<g transform="translate(946.223 606.426) scale(0.1 -0.1)">
<use href="#NotoSansMonoCJKsc-Regular-35"/>
<use href="#NotoSansMonoCJKsc-Regular-30" transform="translate(50 0)"/>
<use href="#NotoSansMonoCJKsc-Regular-30" transform="translate(100 0)"/>
</g>
</g>
</g>
<g id="ytick_30">
<g id="line2d_110">
<g>
<use href="#m33c4ce201d" x="939.223" y="568.383" style="stroke: #000000; stroke-width: 0.8"/>
</g>
</g>
<g id="text_67">
<!-- 750 -->
<g transform="translate(946.223 572.223) scale(0.1 -0.1)">
<use href="#NotoSansMonoCJKsc-Regular-37"/>
<use href="#NotoSansMonoCJKsc-Regular-35" transform="translate(50 0)"/>
<use href="#NotoSansMonoCJKsc-Regular-30" transform="translate(100 0)"/>
</g>
</g>
</g>
<g id="ytick_31">
<g id="line2d_111">
<g>
<use href="#m33c4ce201d" x="939.223" y="534.18" style="stroke: #000000; stroke-width: 0.8"/>
</g>
</g>
<g id="text_68">
<!-- 1000 -->
<g transform="translate(946.223 538.02) scale(0.1 -0.1)">
<use href="#NotoSansMonoCJKsc-Regular-31"/>
<use href="#NotoSansMonoCJKsc-Regular-30" transform="translate(50 0)"/>
<use href="#NotoSansMonoCJKsc-Regular-30" transform="translate(100 0)"/>
<use href="#NotoSansMonoCJKsc-Regular-30" transform="translate(150 0)"/>
</g>
</g>
</g>
<g id="ytick_32">
<g id="line2d_112">
<g>
<use href="#m33c4ce201d" x="939.223" y="499.977" style="stroke: #000000; stroke-width: 0.8"/>
</g>
</g>
<g id="text_69">
<!-- 1250 -->
<g transform="translate(946.223 503.817) scale(0.1 -0.1)">
<use href="#NotoSansMonoCJKsc-Regular-31"/>
<use href="#NotoSansMonoCJKsc-Regular-32" transform="translate(50 0)"/>
<use href="#NotoSansMonoCJKsc-Regular-35" transform="translate(100 0)"/>
<use href="#NotoSansMonoCJKsc-Regular-30" transform="translate(150 0)"/>
</g>
</g>
</g>
<g id="ytick_33">
<g id="line2d_113">
<g>
<use href="#m33c4ce201d" x="939.223" y="465.774" style="stroke: #000000; stroke-width: 0.8"/>
</g>
</g>
<g id="text_70">
<!-- 1500 -->
<g transform="translate(946.223 469.614) scale(0.1 -0.1)">
<use href="#NotoSansMonoCJKsc-Regular-31"/>
<use href="#NotoSansMonoCJKsc-Regular-35" transform="translate(50 0)"/>
<use href="#NotoSansMonoCJKsc-Regular-30" transform="translate(100 0)"/>
<use href="#NotoSansMonoCJKsc-Regular-30" transform="translate(150 0)"/>
</g>
</g>
</g>
<g id="ytick_34">
<g id="line2d_114">
<g>
<use href="#m33c4ce201d" x="939.223" y="431.571" style="stroke: #000000; stroke-width: 0.8"/>
</g>
</g>
<g id="text_71">
<!-- 1750 -->
<g transform="translate(946.223 435.411) scale(0.1 -0.1)">
<use href="#NotoSansMonoCJKsc-Regular-31"/>
<use href="#NotoSansMonoCJKsc-Regular-37" transform="translate(50 0)"/>
<use href="#NotoSansMonoCJKsc-Regular-35" transform="translate(100 0)"/>
<use href="#NotoSansMonoCJKsc-Regular-30" transform="translate(150 0)"/>
</g>
</g>
</g>
<g id="ytick_35">
<g id="line2d_115">
<g>
<use href="#m33c4ce201d" x="939.223" y="397.368" style="stroke: #000000; stroke-width: 0.8"/>
</g>
</g>
<g id="text_72">
<!-- 2000 -->
<g transform="translate(946.223 401.208) scale(0.1 -0.1)">
<use href="#NotoSansMonoCJKsc-Regular-32"/>
<use href="#NotoSansMonoCJKsc-Regular-30" transform="translate(50 0)"/>
<use href="#NotoSansMonoCJKsc-Regular-30" transform="translate(100 0)"/>
<use href="#NotoSansMonoCJKsc-Regular-30" transform="translate(150 0)"/>
</g>
</g>
</g>
<g id="text_73">
<!-- 功率 (kW) -->
<g transform="translate(979.92 561.18) rotate(-90) scale(0.12 -0.12)">
<use href="#NotoSansMonoCJKsc-Regular-529f"/>
<use href="#NotoSansMonoCJKsc-Regular-7387" transform="translate(100 0)"/>
<use href="#NotoSansMonoCJKsc-Regular-20" transform="translate(200 0)"/>
<use href="#NotoSansMonoCJKsc-Regular-28" transform="translate(250 0)"/>
<use href="#NotoSansMonoCJKsc-Regular-6b" transform="translate(300 0)"/>
<use href="#NotoSansMonoCJKsc-Regular-57" transform="translate(350 0)"/>
<use href="#NotoSansMonoCJKsc-Regular-29" transform="translate(400 0)"/>
</g>
</g>
</g>
<g id="LineCollection_1"/>
<g id="patch_24">
<path d="M 925.542 670.992
L 932.383 670.992
L 939.223 670.992
L 939.223 397.368
L 932.383 397.368
L 925.542 397.368
L 925.542 670.992
z
" style="fill: none; stroke: #000000; stroke-width: 0.8; stroke-linejoin: miter; stroke-linecap: square"/>
</g>
</g>
<g id="patch_25">
<path d="M 63.24 103.632
L 173.16 103.632
Q 176.16 103.632 176.16 100.632
L 176.16 70.008
Q 176.16 67.008 173.16 67.008
L 63.24 67.008
Q 60.24 67.008 60.24 70.008
L 60.24 100.632
Q 60.24 103.632 63.24 103.632
z
" style="fill: #f5deb3; opacity: 0.5; stroke: #000000; stroke-linejoin: miter"/>
</g>
<g id="text_74">
<!-- W2000-111 - 山东宝山上气机型W2000-111当地空气密度曲线 -->
<g transform="translate(287.8 20.232) scale(0.16 -0.16)">
<defs>
<path id="NotoSansMonoCJKsc-Regular-2d" d="M160 2073.6V2515.2H3040V2073.6Z" transform="scale(0.016)"/>
<path id="NotoSansMonoCJKsc-Regular-5c71" d="M 691 4045
L 691 -13
L 5222 -13
L 5222 -486
L 5715 -486
L 5715 4051
L 5222 4051
L 5222 474
L 3443 474
L 3443 5306
L 2944 5306
L 2944 474
L 1184 474
L 1184 4045
L 691 4045
z
" transform="scale(0.016) translate(0 -140.8)"/>
<path id="NotoSansMonoCJKsc-Regular-4e1c" d="M 1645 1670
C 1382 1062 934 461 454 64
C 576 -6 774 -160 864 -243
C 1325 192 1818 864 2125 1542
L 1645 1670
z
M 4262 1478
C 4755 979 5331 275 5587 -166
L 6016 70
C 5747 518 5158 1190 4659 1677
L 4262 1478
z
M 493 4525
L 493 4070
L 2048 4070
C 1792 3603 1555 3232 1440 3085
C 1248 2803 1107 2618 960 2579
C 1024 2445 1107 2195 1133 2086
C 1203 2144 1446 2176 1830 2176
L 3245 2176
L 3245 154
C 3245 64 3226 38 3123 38
C 3014 32 2675 32 2304 38
C 2374 -96 2458 -314 2490 -461
C 2944 -461 3270 -448 3469 -365
C 3667 -282 3731 -134 3731 147
L 3731 2176
L 5594 2176
L 5594 2643
L 3731 2643
L 3731 3584
L 3245 3584
L 3245 2643
L 1722 2643
C 2029 3059 2342 3552 2630 4070
L 5869 4070
L 5869 4525
L 2874 4525
C 2989 4749 3098 4979 3200 5203
L 2688 5414
C 2573 5114 2432 4813 2285 4525
L 493 4525
z
" transform="scale(0.016) translate(0 -140.8)"/>
<path id="NotoSansMonoCJKsc-Regular-5b9d" d="M 3930 1094
C 4275 806 4723 410 4947 173
L 5299 454
C 5069 685 4608 1069 4269 1338
L 3930 1094
z
M 2752 5312
C 2867 5088 3002 4806 3098 4576
L 531 4576
L 531 3226
L 1011 3226
L 1011 4122
L 5370 4122
L 5370 3328
L 1030 3328
L 1030 2874
L 2925 2874
L 2925 1869
L 1197 1869
L 1197 1421
L 2925 1421
L 2925 122
L 422 122
L 422 -326
L 5984 -326
L 5984 122
L 3443 122
L 3443 1421
L 5229 1421
L 5229 1869
L 3443 1869
L 3443 2874
L 5370 2874
L 5370 3226
L 5862 3226
L 5862 4576
L 3648 4576
C 3546 4819 3366 5165 3219 5427
L 2752 5312
z
" transform="scale(0.016) translate(0 -140.8)"/>
<path id="NotoSansMonoCJKsc-Regular-4e0a" d="M 2733 5280
L 2733 275
L 326 275
L 326 -205
L 6080 -205
L 6080 275
L 3238 275
L 3238 2822
L 5638 2822
L 5638 3302
L 3238 3302
L 3238 5280
L 2733 5280
z
" transform="scale(0.016) translate(0 -140.8)"/>
<path id="NotoSansMonoCJKsc-Regular-673a" d="M 3187 5011
L 3187 2957
C 3187 1965 3098 691 2234 -205
C 2342 -262 2528 -422 2598 -512
C 3520 435 3654 1888 3654 2957
L 3654 4557
L 4858 4557
L 4858 435
C 4858 -115 4896 -230 5005 -326
C 5101 -410 5242 -448 5370 -448
C 5453 -448 5600 -448 5696 -448
C 5830 -448 5946 -422 6035 -358
C 6131 -294 6182 -186 6214 0
C 6240 160 6266 634 6266 998
C 6144 1037 5997 1114 5901 1203
C 5894 774 5888 435 5869 288
C 5862 141 5843 83 5805 45
C 5779 13 5728 0 5677 0
C 5613 0 5536 0 5491 0
C 5440 0 5408 13 5376 38
C 5344 64 5331 186 5331 397
L 5331 5011
L 3187 5011
z
M 1395 5376
L 1395 4006
L 333 4006
L 333 3546
L 1331 3546
C 1101 2656 634 1658 179 1120
C 256 1005 378 813 429 685
C 787 1126 1133 1850 1395 2598
L 1395 -506
L 1862 -506
L 1862 2432
C 2112 2112 2413 1715 2541 1498
L 2842 1894
C 2694 2061 2086 2746 1862 2970
L 1862 3546
L 2810 3546
L 2810 4006
L 1862 4006
L 1862 5376
L 1395 5376
z
" transform="scale(0.016) translate(0 -140.8)"/>
<path id="NotoSansMonoCJKsc-Regular-578b" d="M 4064 5011
L 4064 2867
L 4506 2867
L 4506 5011
L 4064 5011
z
M 5261 5338
L 5261 2477
C 5261 2394 5235 2368 5133 2362
C 5037 2355 4717 2355 4352 2368
C 4422 2240 4486 2054 4512 1926
C 4966 1926 5280 1933 5472 2010
C 5664 2080 5715 2202 5715 2470
L 5715 5338
L 5261 5338
z
M 2483 4691
L 2483 3808
L 1690 3808
L 1690 3846
L 1690 4691
L 2483 4691
z
M 429 3808
L 429 3379
L 1210 3379
C 1139 2950 928 2515 378 2176
C 467 2112 627 1933 691 1843
C 1344 2246 1587 2822 1658 3379
L 2483 3379
L 2483 2003
L 2938 2003
L 2938 3379
L 3667 3379
L 3667 3808
L 2938 3808
L 2938 4691
L 3533 4691
L 3533 5114
L 640 5114
L 640 4691
L 1248 4691
L 1248 3853
L 1248 3808
L 429 3808
z
M 2989 2125
L 2989 1414
L 966 1414
L 966 973
L 2989 973
L 2989 160
L 301 160
L 301 -288
L 6093 -288
L 6093 160
L 3482 160
L 3482 973
L 5427 973
L 5427 1414
L 3482 1414
L 3482 2125
L 2989 2125
z
" transform="scale(0.016) translate(0 -140.8)"/>
<path id="NotoSansMonoCJKsc-Regular-5f53" d="M 774 4922
C 1114 4467 1459 3846 1600 3430
L 2061 3642
C 1914 4045 1562 4646 1210 5094
L 774 4922
z
M 5126 5152
C 4941 4659 4582 3981 4307 3552
L 4723 3392
C 5011 3802 5370 4435 5645 4979
L 5126 5152
z
M 736 243
L 736 -237
L 5056 -237
L 5056 -518
L 5562 -518
L 5562 3110
L 3456 3110
L 3456 5376
L 2931 5376
L 2931 3110
L 864 3110
L 864 2630
L 5056 2630
L 5056 1702
L 1075 1702
L 1075 1242
L 5056 1242
L 5056 243
L 736 243
z
" transform="scale(0.016) translate(0 -140.8)"/>
<path id="NotoSansMonoCJKsc-Regular-5730" d="M 2746 4781
L 2746 3027
L 2054 2739
L 2234 2310
L 2746 2528
L 2746 506
C 2746 -192 2957 -365 3693 -365
C 3859 -365 5094 -365 5274 -365
C 5939 -365 6099 -83 6170 800
C 6042 819 5850 896 5741 979
C 5696 243 5632 70 5254 70
C 4998 70 3923 70 3712 70
C 3283 70 3206 141 3206 493
L 3206 2726
L 4064 3091
L 4064 915
L 4518 915
L 4518 3283
L 5414 3667
C 5414 2637 5402 1926 5370 1773
C 5338 1626 5280 1600 5178 1600
C 5114 1600 4902 1600 4749 1613
C 4806 1504 4845 1318 4864 1190
C 5043 1190 5299 1190 5466 1242
C 5658 1286 5779 1402 5818 1664
C 5862 1914 5875 2874 5875 4077
L 5901 4166
L 5562 4294
L 5472 4224
L 5376 4134
L 4518 3776
L 4518 5376
L 4064 5376
L 4064 3584
L 3206 3226
L 3206 4781
L 2746 4781
z
M 211 986
L 403 506
C 966 755 1696 1082 2381 1402
L 2272 1830
L 1542 1523
L 1542 3379
L 2298 3379
L 2298 3834
L 1542 3834
L 1542 5299
L 1088 5299
L 1088 3834
L 269 3834
L 269 3379
L 1088 3379
L 1088 1331
C 755 1197 454 1075 211 986
z
" transform="scale(0.016) translate(0 -140.8)"/>
<path id="NotoSansMonoCJKsc-Regular-7a7a" d="M 3610 3437
C 4262 3098 5133 2592 5562 2285
L 5882 2656
C 5427 2957 4544 3437 3910 3757
L 3610 3437
z
M 2458 3776
C 1965 3347 1299 2912 544 2643
L 826 2227
C 1574 2547 2278 3034 2790 3482
L 2458 3776
z
M 493 141
L 493 -294
L 5933 -294
L 5933 141
L 3443 141
L 3443 1760
L 5280 1760
L 5280 2195
L 1165 2195
L 1165 1760
L 2938 1760
L 2938 141
L 493 141
z
M 2714 5274
C 2816 5069 2938 4813 3027 4595
L 486 4595
L 486 3149
L 960 3149
L 960 4154
L 5434 4154
L 5434 3309
L 5926 3309
L 5926 4595
L 3616 4595
C 3520 4832 3354 5165 3213 5414
L 2714 5274
z
" transform="scale(0.016) translate(0 -140.8)"/>
<path id="NotoSansMonoCJKsc-Regular-5bc6" d="M 1165 3539
C 986 3149 678 2682 301 2400
L 691 2163
C 1062 2470 1350 2957 1555 3360
L 1165 3539
z
M 2253 4019
C 2650 3834 3123 3539 3354 3315
L 3610 3629
C 3373 3840 2886 4128 2496 4301
L 2253 4019
z
M 4666 3270
C 5075 2918 5542 2406 5747 2067
L 6112 2336
C 5901 2675 5421 3162 5018 3507
L 4666 3270
z
M 4403 4083
C 3910 3482 3194 2982 2368 2586
L 2368 3642
L 1933 3642
L 1933 2406
L 1933 2387
C 1395 2163 819 1978 243 1837
C 333 1741 474 1536 531 1434
C 1043 1581 1562 1760 2054 1971
C 2176 1843 2400 1805 2790 1805
C 2931 1805 4000 1805 4154 1805
C 4710 1805 4851 1990 4915 2752
C 4794 2778 4614 2842 4506 2912
C 4486 2291 4429 2202 4122 2202
C 3885 2202 2989 2202 2816 2202
L 2573 2214
C 3456 2643 4250 3194 4813 3878
L 4403 4083
z
M 1030 1254
L 1030 -218
L 4934 -218
L 4934 -499
L 5414 -499
L 5414 1306
L 4934 1306
L 4934 237
L 3430 237
L 3430 1600
L 2944 1600
L 2944 237
L 1504 237
L 1504 1254
L 1030 1254
z
M 2829 5363
C 2893 5203 2950 4998 2989 4826
L 493 4826
L 493 3571
L 966 3571
L 966 4390
L 5434 4390
L 5434 3571
L 5920 3571
L 5920 4826
L 3488 4826
C 3450 5011 3366 5248 3283 5440
L 2829 5363
z
" transform="scale(0.016) translate(0 -140.8)"/>
<path id="NotoSansMonoCJKsc-Regular-5ea6" d="M 2470 4122
L 2470 3565
L 1440 3565
L 1440 3168
L 2470 3168
L 2470 2106
L 4960 2106
L 4960 3168
L 5997 3168
L 5997 3565
L 4960 3565
L 4960 4122
L 4486 4122
L 4486 3565
L 2931 3565
L 2931 4122
L 2470 4122
z
M 4486 3168
L 4486 2490
L 2931 2490
L 2931 3168
L 4486 3168
z
M 4845 1299
C 4563 966 4166 704 3706 499
C 3251 710 2880 979 2611 1299
L 4845 1299
z
M 1530 1696
L 1530 1299
L 2362 1299
L 2144 1210
C 2406 851 2758 550 3181 301
C 2579 109 1907 -6 1229 -64
C 1299 -173 1389 -358 1421 -474
C 2221 -384 3002 -224 3686 45
C 4320 -237 5069 -416 5875 -512
C 5933 -390 6054 -198 6157 -96
C 5453 -32 4794 96 4224 294
C 4787 595 5254 1005 5549 1555
L 5248 1715
L 5165 1696
L 1530 1696
z
M 3027 5293
C 3117 5126 3213 4922 3283 4742
L 806 4742
L 806 2995
C 806 2042 762 672 237 -294
C 358 -333 570 -435 666 -512
C 1203 499 1286 1978 1286 3002
L 1286 4288
L 6067 4288
L 6067 4742
L 3827 4742
C 3750 4947 3622 5203 3507 5408
L 3027 5293
z
" transform="scale(0.016) translate(0 -140.8)"/>
</defs>
<use href="#NotoSansMonoCJKsc-Regular-57"/>
<use href="#NotoSansMonoCJKsc-Regular-32" transform="translate(50 0)"/>
<use href="#NotoSansMonoCJKsc-Regular-30" transform="translate(100 0)"/>
<use href="#NotoSansMonoCJKsc-Regular-30" transform="translate(150 0)"/>
<use href="#NotoSansMonoCJKsc-Regular-30" transform="translate(200 0)"/>
<use href="#NotoSansMonoCJKsc-Regular-2d" transform="translate(250 0)"/>
<use href="#NotoSansMonoCJKsc-Regular-31" transform="translate(300 0)"/>
<use href="#NotoSansMonoCJKsc-Regular-31" transform="translate(350 0)"/>
<use href="#NotoSansMonoCJKsc-Regular-31" transform="translate(400 0)"/>
<use href="#NotoSansMonoCJKsc-Regular-20" transform="translate(450 0)"/>
<use href="#NotoSansMonoCJKsc-Regular-2d" transform="translate(500 0)"/>
<use href="#NotoSansMonoCJKsc-Regular-20" transform="translate(550 0)"/>
<use href="#NotoSansMonoCJKsc-Regular-5c71" transform="translate(600 0)"/>
<use href="#NotoSansMonoCJKsc-Regular-4e1c" transform="translate(700 0)"/>
<use href="#NotoSansMonoCJKsc-Regular-5b9d" transform="translate(800 0)"/>
<use href="#NotoSansMonoCJKsc-Regular-5c71" transform="translate(900 0)"/>
<use href="#NotoSansMonoCJKsc-Regular-4e0a" transform="translate(1000 0)"/>
<use href="#NotoSansMonoCJKsc-Regular-6c14" transform="translate(1100 0)"/>
<use href="#NotoSansMonoCJKsc-Regular-673a" transform="translate(1200 0)"/>
<use href="#NotoSansMonoCJKsc-Regular-578b" transform="translate(1300 0)"/>
<use href="#NotoSansMonoCJKsc-Regular-57" transform="translate(1400 0)"/>
<use href="#NotoSansMonoCJKsc-Regular-32" transform="translate(1450 0)"/>
<use href="#NotoSansMonoCJKsc-Regular-30" transform="translate(1500 0)"/>
<use href="#NotoSansMonoCJKsc-Regular-30" transform="translate(1550 0)"/>
<use href="#NotoSansMonoCJKsc-Regular-30" transform="translate(1600 0)"/>
<use href="#NotoSansMonoCJKsc-Regular-2d" transform="translate(1650 0)"/>
<use href="#NotoSansMonoCJKsc-Regular-31" transform="translate(1700 0)"/>
<use href="#NotoSansMonoCJKsc-Regular-31" transform="translate(1750 0)"/>
<use href="#NotoSansMonoCJKsc-Regular-31" transform="translate(1800 0)"/>
<use href="#NotoSansMonoCJKsc-Regular-5f53" transform="translate(1850 0)"/>
<use href="#NotoSansMonoCJKsc-Regular-5730" transform="translate(1950 0)"/>
<use href="#NotoSansMonoCJKsc-Regular-7a7a" transform="translate(2050 0)"/>
<use href="#NotoSansMonoCJKsc-Regular-6c14" transform="translate(2150 0)"/>
<use href="#NotoSansMonoCJKsc-Regular-5bc6" transform="translate(2249.999 0)"/>
<use href="#NotoSansMonoCJKsc-Regular-5ea6" transform="translate(2349.999 0)"/>
<use href="#NotoSansMonoCJKsc-Regular-66f2" transform="translate(2449.999 0)"/>
<use href="#NotoSansMonoCJKsc-Regular-7ebf" transform="translate(2549.999 0)"/>
</g>
</g>
<g id="text_75">
<!-- 分组: W2000-111_山东宝山上气机型W2000-111当地空气密度曲线 -->
<g transform="translate(271.8 38.088) scale(0.16 -0.16)">
<defs>
<path id="NotoSansMonoCJKsc-Regular-5206" d="M 4307 5261
L 3866 5082
C 4320 4134 5088 3091 5760 2515
C 5856 2643 6029 2822 6150 2918
C 5485 3418 4704 4397 4307 5261
z
M 2074 5248
C 1702 4269 1050 3379 282 2829
C 397 2739 608 2554 691 2458
C 864 2598 1030 2752 1197 2925
L 1197 2483
L 2432 2483
C 2285 1395 1933 378 416 -122
C 525 -224 653 -410 710 -531
C 2342 58 2765 1216 2938 2483
L 4678 2483
C 4608 883 4512 256 4352 90
C 4288 26 4211 13 4077 13
C 3930 13 3533 13 3117 51
C 3206 -83 3264 -288 3277 -429
C 3680 -454 4070 -461 4288 -442
C 4506 -422 4653 -378 4787 -218
C 5011 32 5094 762 5190 2726
C 5197 2790 5197 2957 5197 2957
L 1229 2957
C 1773 3539 2253 4288 2586 5107
L 2074 5248
z
" transform="scale(0.016) translate(0 -140.8)"/>
<path id="NotoSansMonoCJKsc-Regular-7ec4" d="M 307 371
L 403 -90
C 1005 64 1805 269 2566 467
L 2522 877
C 1702 678 858 486 307 371
z
M 3078 5056
L 3078 70
L 2432 70
L 2432 -371
L 6138 -371
L 6138 70
L 5581 70
L 5581 5056
L 3078 5056
z
M 3539 70
L 3539 1325
L 5107 1325
L 5107 70
L 3539 70
z
M 3539 2982
L 5107 2982
L 5107 1754
L 3539 1754
L 3539 2982
z
M 3539 3424
L 3539 4614
L 5107 4614
L 5107 3424
L 3539 3424
z
M 422 2707
C 518 2752 672 2797 1549 2906
C 1242 2483 960 2144 832 2016
C 621 1779 454 1619 314 1594
C 371 1478 442 1261 467 1165
C 602 1242 826 1306 2566 1658
C 2560 1754 2560 1933 2573 2054
L 1165 1798
C 1696 2368 2214 3072 2656 3782
L 2272 4019
C 2138 3782 1990 3552 1843 3328
L 915 3226
C 1325 3776 1722 4486 2035 5178
L 1600 5376
C 1312 4602 806 3763 653 3552
C 506 3334 384 3181 269 3155
C 320 3027 397 2803 422 2707
z
" transform="scale(0.016) translate(0 -140.8)"/>
<path id="NotoSansMonoCJKsc-Regular-3a" d="M1295.3 2324.2V2874.1H1904.7V2324.2ZM1295.3 0V549.8H1904.7V0Z" transform="scale(0.016)"/>
<path id="NotoSansMonoCJKsc-Regular-5f" d="M0 -992V-640H3200V-992Z" transform="scale(0.016)"/>
</defs>
<use href="#NotoSansMonoCJKsc-Regular-5206"/>
<use href="#NotoSansMonoCJKsc-Regular-7ec4" transform="translate(100 0)"/>
<use href="#NotoSansMonoCJKsc-Regular-3a" transform="translate(200 0)"/>
<use href="#NotoSansMonoCJKsc-Regular-20" transform="translate(250 0)"/>
<use href="#NotoSansMonoCJKsc-Regular-57" transform="translate(300 0)"/>
<use href="#NotoSansMonoCJKsc-Regular-32" transform="translate(350 0)"/>
<use href="#NotoSansMonoCJKsc-Regular-30" transform="translate(400 0)"/>
<use href="#NotoSansMonoCJKsc-Regular-30" transform="translate(450 0)"/>
<use href="#NotoSansMonoCJKsc-Regular-30" transform="translate(500 0)"/>
<use href="#NotoSansMonoCJKsc-Regular-2d" transform="translate(550 0)"/>
<use href="#NotoSansMonoCJKsc-Regular-31" transform="translate(600 0)"/>
<use href="#NotoSansMonoCJKsc-Regular-31" transform="translate(650 0)"/>
<use href="#NotoSansMonoCJKsc-Regular-31" transform="translate(700 0)"/>
<use href="#NotoSansMonoCJKsc-Regular-5f" transform="translate(750 0)"/>
<use href="#NotoSansMonoCJKsc-Regular-5c71" transform="translate(800 0)"/>
<use href="#NotoSansMonoCJKsc-Regular-4e1c" transform="translate(900 0)"/>
<use href="#NotoSansMonoCJKsc-Regular-5b9d" transform="translate(1000 0)"/>
<use href="#NotoSansMonoCJKsc-Regular-5c71" transform="translate(1100 0)"/>
<use href="#NotoSansMonoCJKsc-Regular-4e0a" transform="translate(1200 0)"/>
<use href="#NotoSansMonoCJKsc-Regular-6c14" transform="translate(1300 0)"/>
<use href="#NotoSansMonoCJKsc-Regular-673a" transform="translate(1400 0)"/>
<use href="#NotoSansMonoCJKsc-Regular-578b" transform="translate(1500 0)"/>
<use href="#NotoSansMonoCJKsc-Regular-57" transform="translate(1600 0)"/>
<use href="#NotoSansMonoCJKsc-Regular-32" transform="translate(1650 0)"/>
<use href="#NotoSansMonoCJKsc-Regular-30" transform="translate(1700 0)"/>
<use href="#NotoSansMonoCJKsc-Regular-30" transform="translate(1750 0)"/>
<use href="#NotoSansMonoCJKsc-Regular-30" transform="translate(1800 0)"/>
<use href="#NotoSansMonoCJKsc-Regular-2d" transform="translate(1850 0)"/>
<use href="#NotoSansMonoCJKsc-Regular-31" transform="translate(1900 0)"/>
<use href="#NotoSansMonoCJKsc-Regular-31" transform="translate(1950 0)"/>
<use href="#NotoSansMonoCJKsc-Regular-31" transform="translate(2000 0)"/>
<use href="#NotoSansMonoCJKsc-Regular-5f53" transform="translate(2050 0)"/>
<use href="#NotoSansMonoCJKsc-Regular-5730" transform="translate(2150 0)"/>
<use href="#NotoSansMonoCJKsc-Regular-7a7a" transform="translate(2249.999 0)"/>
<use href="#NotoSansMonoCJKsc-Regular-6c14" transform="translate(2349.999 0)"/>
<use href="#NotoSansMonoCJKsc-Regular-5bc6" transform="translate(2449.999 0)"/>
<use href="#NotoSansMonoCJKsc-Regular-5ea6" transform="translate(2549.999 0)"/>
<use href="#NotoSansMonoCJKsc-Regular-66f2" transform="translate(2649.999 0)"/>
<use href="#NotoSansMonoCJKsc-Regular-7ebf" transform="translate(2749.999 0)"/>
</g>
</g>
<g id="text_76">
<!-- 平均Ct: 4070.213 -->
<g transform="translate(63.264 77.76) scale(0.1 -0.1)">
<defs>
<path id="NotoSansMonoCJKsc-Regular-5e73" d="M 1114 4032
C 1363 3558 1613 2938 1702 2554
L 2157 2714
C 2067 3085 1805 3699 1549 4160
L 1114 4032
z
M 4832 4192
C 4672 3725 4378 3072 4134 2669
L 4550 2534
C 4800 2918 5101 3533 5338 4051
L 4832 4192
z
M 333 2227
L 333 1747
L 2938 1747
L 2938 -506
L 3437 -506
L 3437 1747
L 6074 1747
L 6074 2227
L 3437 2227
L 3437 4467
L 5715 4467
L 5715 4947
L 672 4947
L 672 4467
L 2938 4467
L 2938 2227
L 333 2227
z
" transform="scale(0.016) translate(0 -140.8)"/>
<path id="NotoSansMonoCJKsc-Regular-5747" d="M 3104 2957
C 3501 2630 4000 2170 4256 1894
L 4563 2221
C 4307 2477 3808 2906 3398 3226
L 3104 2957
z
M 2586 762
L 2784 314
C 3443 672 4326 1152 5139 1619
L 5024 2003
C 4147 1536 3194 1043 2586 762
z
M 3648 5376
C 3347 4538 2848 3725 2285 3206
C 2381 3110 2534 2912 2605 2816
C 2893 3110 3181 3488 3437 3904
L 5498 3904
C 5421 1267 5331 250 5120 26
C 5050 -58 4973 -77 4838 -77
C 4678 -77 4262 -77 3808 -32
C 3891 -166 3949 -358 3962 -493
C 4352 -512 4768 -525 5005 -499
C 5242 -480 5382 -429 5530 -237
C 5779 77 5862 1101 5946 4096
C 5946 4166 5946 4352 5946 4352
L 3693 4352
C 3840 4640 3974 4941 4090 5242
L 3648 5376
z
M 230 787
L 403 301
C 1011 608 1805 1018 2547 1408
L 2432 1811
L 1542 1382
L 1542 3379
L 2317 3379
L 2317 3834
L 1542 3834
L 1542 5299
L 1082 5299
L 1082 3834
L 275 3834
L 275 3379
L 1082 3379
L 1082 1171
C 762 1018 467 890 230 787
z
" transform="scale(0.016) translate(0 -140.8)"/>
<path id="NotoSansMonoCJKsc-Regular-2e" d="M1295.3 0V581.7H1904.7V0Z" transform="scale(0.016)"/>
</defs>
<use href="#NotoSansMonoCJKsc-Regular-5e73"/>
<use href="#NotoSansMonoCJKsc-Regular-5747" transform="translate(100 0)"/>
<use href="#NotoSansMonoCJKsc-Regular-43" transform="translate(200 0)"/>
<use href="#NotoSansMonoCJKsc-Regular-74" transform="translate(250 0)"/>
<use href="#NotoSansMonoCJKsc-Regular-3a" transform="translate(300 0)"/>
<use href="#NotoSansMonoCJKsc-Regular-20" transform="translate(350 0)"/>
<use href="#NotoSansMonoCJKsc-Regular-34" transform="translate(400 0)"/>
<use href="#NotoSansMonoCJKsc-Regular-30" transform="translate(450 0)"/>
<use href="#NotoSansMonoCJKsc-Regular-37" transform="translate(500 0)"/>
<use href="#NotoSansMonoCJKsc-Regular-30" transform="translate(550 0)"/>
<use href="#NotoSansMonoCJKsc-Regular-2e" transform="translate(600 0)"/>
<use href="#NotoSansMonoCJKsc-Regular-32" transform="translate(650 0)"/>
<use href="#NotoSansMonoCJKsc-Regular-31" transform="translate(700 0)"/>
<use href="#NotoSansMonoCJKsc-Regular-33" transform="translate(750 0)"/>
</g>
</g>
<g id="text_77">
<!-- 最大Ct: 10528.000 -->
<g transform="translate(63.264 88.512) scale(0.1 -0.1)">
<defs>
<path id="NotoSansMonoCJKsc-Regular-6700" d="M 1587 4064
L 4819 4064
L 4819 3610
L 1587 3610
L 1587 4064
z
M 1587 4832
L 4819 4832
L 4819 4384
L 1587 4384
L 1587 4832
z
M 1126 5171
L 1126 3270
L 5299 3270
L 5299 5171
L 1126 5171
z
M 2534 2509
L 2534 2080
L 1370 2080
L 1370 2509
L 2534 2509
z
M 301 275
L 346 -154
L 2534 109
L 2534 -512
L 2995 -512
L 2995 166
L 3341 211
L 3341 602
L 2995 563
L 2995 2509
L 6074 2509
L 6074 2912
L 314 2912
L 314 2509
L 928 2509
L 928 333
L 301 275
z
M 3245 2112
L 3245 1715
L 3629 1715
L 3501 1677
C 3693 1210 3955 794 4294 448
C 3942 186 3546 -13 3142 -141
C 3226 -224 3341 -390 3386 -493
C 3814 -339 4237 -122 4608 166
C 4966 -128 5395 -352 5882 -493
C 5946 -378 6067 -205 6170 -115
C 5702 0 5286 198 4934 454
C 5357 864 5690 1376 5888 2010
L 5613 2131
L 5523 2112
L 3245 2112
z
M 3923 1715
L 5325 1715
C 5158 1338 4909 1005 4614 723
C 4320 1005 4090 1338 3923 1715
z
M 2534 1722
L 2534 1267
L 1370 1267
L 1370 1722
L 2534 1722
z
M 2534 909
L 2534 512
L 1370 378
L 1370 909
L 2534 909
z
" transform="scale(0.016) translate(0 -140.8)"/>
<path id="NotoSansMonoCJKsc-Regular-5927" d="M 2950 5370
C 2944 4864 2950 4218 2854 3539
L 397 3539
L 397 3046
L 2771 3046
C 2515 1830 1875 589 275 -102
C 410 -205 563 -378 640 -499
C 2202 218 2893 1446 3206 2682
C 3706 1222 4531 90 5773 -499
C 5856 -358 6010 -160 6131 -51
C 4890 467 4051 1632 3603 3046
L 6029 3046
L 6029 3539
L 3366 3539
C 3456 4211 3462 4851 3469 5370
L 2950 5370
z
" transform="scale(0.016) translate(0 -140.8)"/>
</defs>
<use href="#NotoSansMonoCJKsc-Regular-6700"/>
<use href="#NotoSansMonoCJKsc-Regular-5927" transform="translate(100 0)"/>
<use href="#NotoSansMonoCJKsc-Regular-43" transform="translate(200 0)"/>
<use href="#NotoSansMonoCJKsc-Regular-74" transform="translate(250 0)"/>
<use href="#NotoSansMonoCJKsc-Regular-3a" transform="translate(300 0)"/>
<use href="#NotoSansMonoCJKsc-Regular-20" transform="translate(350 0)"/>
<use href="#NotoSansMonoCJKsc-Regular-31" transform="translate(400 0)"/>
<use href="#NotoSansMonoCJKsc-Regular-30" transform="translate(450 0)"/>
<use href="#NotoSansMonoCJKsc-Regular-35" transform="translate(500 0)"/>
<use href="#NotoSansMonoCJKsc-Regular-32" transform="translate(550 0)"/>
<use href="#NotoSansMonoCJKsc-Regular-38" transform="translate(600 0)"/>
<use href="#NotoSansMonoCJKsc-Regular-2e" transform="translate(650 0)"/>
<use href="#NotoSansMonoCJKsc-Regular-30" transform="translate(700 0)"/>
<use href="#NotoSansMonoCJKsc-Regular-30" transform="translate(750 0)"/>
<use href="#NotoSansMonoCJKsc-Regular-30" transform="translate(800 0)"/>
</g>
</g>
<g id="text_78">
<!-- 风速范围: 0.0-25.0 m/s -->
<g transform="translate(63.264 99.336) scale(0.1 -0.1)">
<defs>
<path id="NotoSansMonoCJKsc-Regular-8303" d="M 480 -96
L 813 -493
C 1286 -6 1850 614 2291 1158
L 2029 1523
C 1530 934 896 282 480 -96
z
M 742 3379
C 1120 3168 1651 2848 1914 2656
L 2189 3021
C 1914 3200 1389 3494 1011 3693
L 742 3379
z
M 358 2163
C 755 1978 1293 1702 1562 1530
L 1830 1901
C 1549 2067 1005 2323 621 2490
L 358 2163
z
M 2624 3462
L 2624 416
C 2624 -243 2854 -403 3616 -403
C 3782 -403 5037 -403 5216 -403
C 5907 -403 6067 -141 6144 736
C 6003 768 5798 851 5683 928
C 5638 198 5574 58 5190 58
C 4922 58 3846 58 3635 58
C 3200 58 3117 115 3117 416
L 3117 3008
L 5094 3008
L 5094 1843
C 5094 1760 5069 1734 4947 1728
C 4832 1722 4442 1722 3987 1734
C 4064 1606 4147 1414 4173 1280
C 4717 1280 5075 1286 5293 1357
C 5517 1434 5574 1574 5574 1843
L 5574 3462
L 2624 3462
z
M 4083 5376
L 4083 4819
L 2298 4819
L 2298 5376
L 1811 5376
L 1811 4819
L 371 4819
L 371 4371
L 1811 4371
L 1811 3750
L 2298 3750
L 2298 4371
L 4083 4371
L 4083 3750
L 4576 3750
L 4576 4371
L 6042 4371
L 6042 4819
L 4576 4819
L 4576 5376
L 4083 5376
z
" transform="scale(0.016) translate(0 -140.8)"/>
<path id="NotoSansMonoCJKsc-Regular-56f4" d="M 1421 4000
L 1421 3597
L 2931 3597
L 2931 3072
L 1696 3072
L 1696 2682
L 2931 2682
L 2931 2131
L 1331 2131
L 1331 1722
L 2931 1722
L 2931 410
L 3386 410
L 3386 1722
L 4570 1722
C 4525 1363 4474 1203 4416 1139
C 4378 1094 4326 1094 4243 1094
C 4160 1094 3955 1094 3725 1120
C 3782 1011 3827 851 3834 736
C 4077 723 4314 730 4435 736
C 4582 742 4672 781 4762 864
C 4890 992 4954 1293 5018 1952
C 5030 2016 5037 2131 5037 2131
L 3386 2131
L 3386 2682
L 4730 2682
L 4730 3072
L 3386 3072
L 3386 3597
L 4979 3597
L 4979 4000
L 3386 4000
L 3386 4512
L 2931 4512
L 2931 4000
L 1421 4000
z
M 525 5114
L 525 -506
L 979 -506
L 979 -192
L 5414 -192
L 5414 -506
L 5888 -506
L 5888 5114
L 525 5114
z
M 979 218
L 979 4691
L 5414 4691
L 5414 218
L 979 218
z
" transform="scale(0.016) translate(0 -140.8)"/>
</defs>
<use href="#NotoSansMonoCJKsc-Regular-98ce"/>
<use href="#NotoSansMonoCJKsc-Regular-901f" transform="translate(100 0)"/>
<use href="#NotoSansMonoCJKsc-Regular-8303" transform="translate(200 0)"/>
<use href="#NotoSansMonoCJKsc-Regular-56f4" transform="translate(300 0)"/>
<use href="#NotoSansMonoCJKsc-Regular-3a" transform="translate(400 0)"/>
<use href="#NotoSansMonoCJKsc-Regular-20" transform="translate(450 0)"/>
<use href="#NotoSansMonoCJKsc-Regular-30" transform="translate(500 0)"/>
<use href="#NotoSansMonoCJKsc-Regular-2e" transform="translate(550 0)"/>
<use href="#NotoSansMonoCJKsc-Regular-30" transform="translate(600 0)"/>
<use href="#NotoSansMonoCJKsc-Regular-2d" transform="translate(650 0)"/>
<use href="#NotoSansMonoCJKsc-Regular-32" transform="translate(700 0)"/>
<use href="#NotoSansMonoCJKsc-Regular-35" transform="translate(750 0)"/>
<use href="#NotoSansMonoCJKsc-Regular-2e" transform="translate(800 0)"/>
<use href="#NotoSansMonoCJKsc-Regular-30" transform="translate(850 0)"/>
<use href="#NotoSansMonoCJKsc-Regular-20" transform="translate(900 0)"/>
<use href="#NotoSansMonoCJKsc-Regular-6d" transform="translate(950 0)"/>
<use href="#NotoSansMonoCJKsc-Regular-2f" transform="translate(1000 0)"/>
<use href="#NotoSansMonoCJKsc-Regular-73" transform="translate(1050 0)"/>
</g>
</g>
<g id="text_79">
<!-- 额定: 2000.0 kW -->
<g style="fill: #ff0000" transform="translate(787.752 140.376) scale(0.1 -0.1)">
<defs>
<path id="NotoSansMonoCJKsc-Regular-989d" d="M 4435 3155
C 4410 1171 4326 294 2931 -198
C 3014 -275 3130 -429 3174 -538
C 4685 13 4826 1030 4858 3155
L 4435 3155
z
M 4723 538
C 5146 230 5683 -211 5952 -493
L 6221 -154
C 5952 109 5395 538 4979 832
L 4723 538
z
M 3398 3904
L 3398 883
L 3808 883
L 3808 3514
L 5440 3514
L 5440 896
L 5862 896
L 5862 3904
L 4659 3904
C 4742 4102 4832 4339 4915 4570
L 6099 4570
L 6099 4992
L 3296 4992
L 3296 4570
L 4480 4570
C 4416 4352 4320 4102 4243 3904
L 3398 3904
z
M 1370 5254
C 1453 5107 1549 4928 1626 4762
L 390 4762
L 390 3795
L 813 3795
L 813 4365
L 2746 4365
L 2746 3795
L 3181 3795
L 3181 4762
L 2131 4762
C 2042 4947 1914 5178 1805 5357
L 1370 5254
z
M 806 1491
L 806 -467
L 1242 -467
L 1242 -256
L 2362 -256
L 2362 -454
L 2810 -454
L 2810 1491
L 806 1491
z
M 1242 134
L 1242 1101
L 2362 1101
L 2362 134
L 1242 134
z
M 954 2662
L 1434 2406
C 1075 2157 666 1952 250 1818
C 320 1728 410 1510 448 1389
C 934 1574 1414 1837 1843 2182
C 2246 1952 2637 1715 2880 1542
L 3206 1875
C 2957 2042 2573 2266 2170 2477
C 2483 2790 2752 3149 2938 3552
L 2675 3725
L 2579 3706
L 1600 3706
C 1677 3827 1741 3955 1798 4077
L 1363 4154
C 1178 3725 806 3213 256 2842
C 346 2778 480 2637 538 2541
C 864 2771 1133 3046 1344 3328
L 2330 3328
C 2189 3091 1997 2880 1779 2682
L 1261 2950
L 954 2662
z
" transform="scale(0.016) translate(0 -140.8)"/>
<path id="NotoSansMonoCJKsc-Regular-5b9a" d="M 1434 2419
C 1299 1261 947 346 230 -211
C 346 -282 544 -442 621 -531
C 1050 -160 1357 326 1581 922
C 2170 -186 3130 -410 4467 -410
L 5965 -410
C 5984 -269 6074 -38 6144 77
C 5830 70 4730 70 4493 70
C 4115 70 3763 90 3443 147
L 3443 1440
L 5350 1440
L 5350 1888
L 3443 1888
L 3443 2938
L 5088 2938
L 5088 3405
L 1350 3405
L 1350 2938
L 2944 2938
L 2944 282
C 2419 480 2016 858 1766 1530
C 1830 1792 1882 2074 1920 2368
L 1434 2419
z
M 2726 5286
C 2835 5094 2950 4851 3021 4653
L 525 4653
L 525 3258
L 998 3258
L 998 4198
L 5382 4198
L 5382 3258
L 5875 3258
L 5875 4653
L 3571 4653
C 3507 4864 3341 5184 3200 5421
L 2726 5286
z
" transform="scale(0.016) translate(0 -140.8)"/>
</defs>
<use href="#NotoSansMonoCJKsc-Regular-989d"/>
<use href="#NotoSansMonoCJKsc-Regular-5b9a" transform="translate(100 0)"/>
<use href="#NotoSansMonoCJKsc-Regular-3a" transform="translate(200 0)"/>
<use href="#NotoSansMonoCJKsc-Regular-20" transform="translate(250 0)"/>
<use href="#NotoSansMonoCJKsc-Regular-32" transform="translate(300 0)"/>
<use href="#NotoSansMonoCJKsc-Regular-30" transform="translate(350 0)"/>
<use href="#NotoSansMonoCJKsc-Regular-30" transform="translate(400 0)"/>
<use href="#NotoSansMonoCJKsc-Regular-30" transform="translate(450 0)"/>
<use href="#NotoSansMonoCJKsc-Regular-2e" transform="translate(500 0)"/>
<use href="#NotoSansMonoCJKsc-Regular-30" transform="translate(550 0)"/>
<use href="#NotoSansMonoCJKsc-Regular-20" transform="translate(600 0)"/>
<use href="#NotoSansMonoCJKsc-Regular-6b" transform="translate(650 0)"/>
<use href="#NotoSansMonoCJKsc-Regular-57" transform="translate(700 0)"/>
</g>
</g>
<g id="text_80">
<!-- 风速: 11.5 m/s -->
<g style="fill: #ff0000" transform="translate(787.752 151.392) scale(0.1 -0.1)">
<use href="#NotoSansMonoCJKsc-Regular-98ce"/>
<use href="#NotoSansMonoCJKsc-Regular-901f" transform="translate(100 0)"/>
<use href="#NotoSansMonoCJKsc-Regular-3a" transform="translate(200 0)"/>
<use href="#NotoSansMonoCJKsc-Regular-20" transform="translate(250 0)"/>
<use href="#NotoSansMonoCJKsc-Regular-31" transform="translate(300 0)"/>
<use href="#NotoSansMonoCJKsc-Regular-31" transform="translate(350 0)"/>
<use href="#NotoSansMonoCJKsc-Regular-2e" transform="translate(400 0)"/>
<use href="#NotoSansMonoCJKsc-Regular-35" transform="translate(450 0)"/>
<use href="#NotoSansMonoCJKsc-Regular-20" transform="translate(500 0)"/>
<use href="#NotoSansMonoCJKsc-Regular-6d" transform="translate(550 0)"/>
<use href="#NotoSansMonoCJKsc-Regular-2f" transform="translate(600 0)"/>
<use href="#NotoSansMonoCJKsc-Regular-73" transform="translate(650 0)"/>
</g>
</g>
</g>
<defs>
<clipPath id="p37128c60da">
<rect x="54.48" y="64.56" width="439.32" height="273.624"/>
</clipPath>
<clipPath id="pd540e50930">
<rect x="552.12" y="64.56" width="439.32" height="273.624"/>
</clipPath>
<clipPath id="p0916e740d0">
<rect x="54.48" y="397.368" width="439.32" height="273.624"/>
</clipPath>
<clipPath id="p6ce70e50f3">
<rect x="552.12" y="397.368" width="351.456" height="273.624"/>
</clipPath>
</defs>
</svg>
</body></html>
